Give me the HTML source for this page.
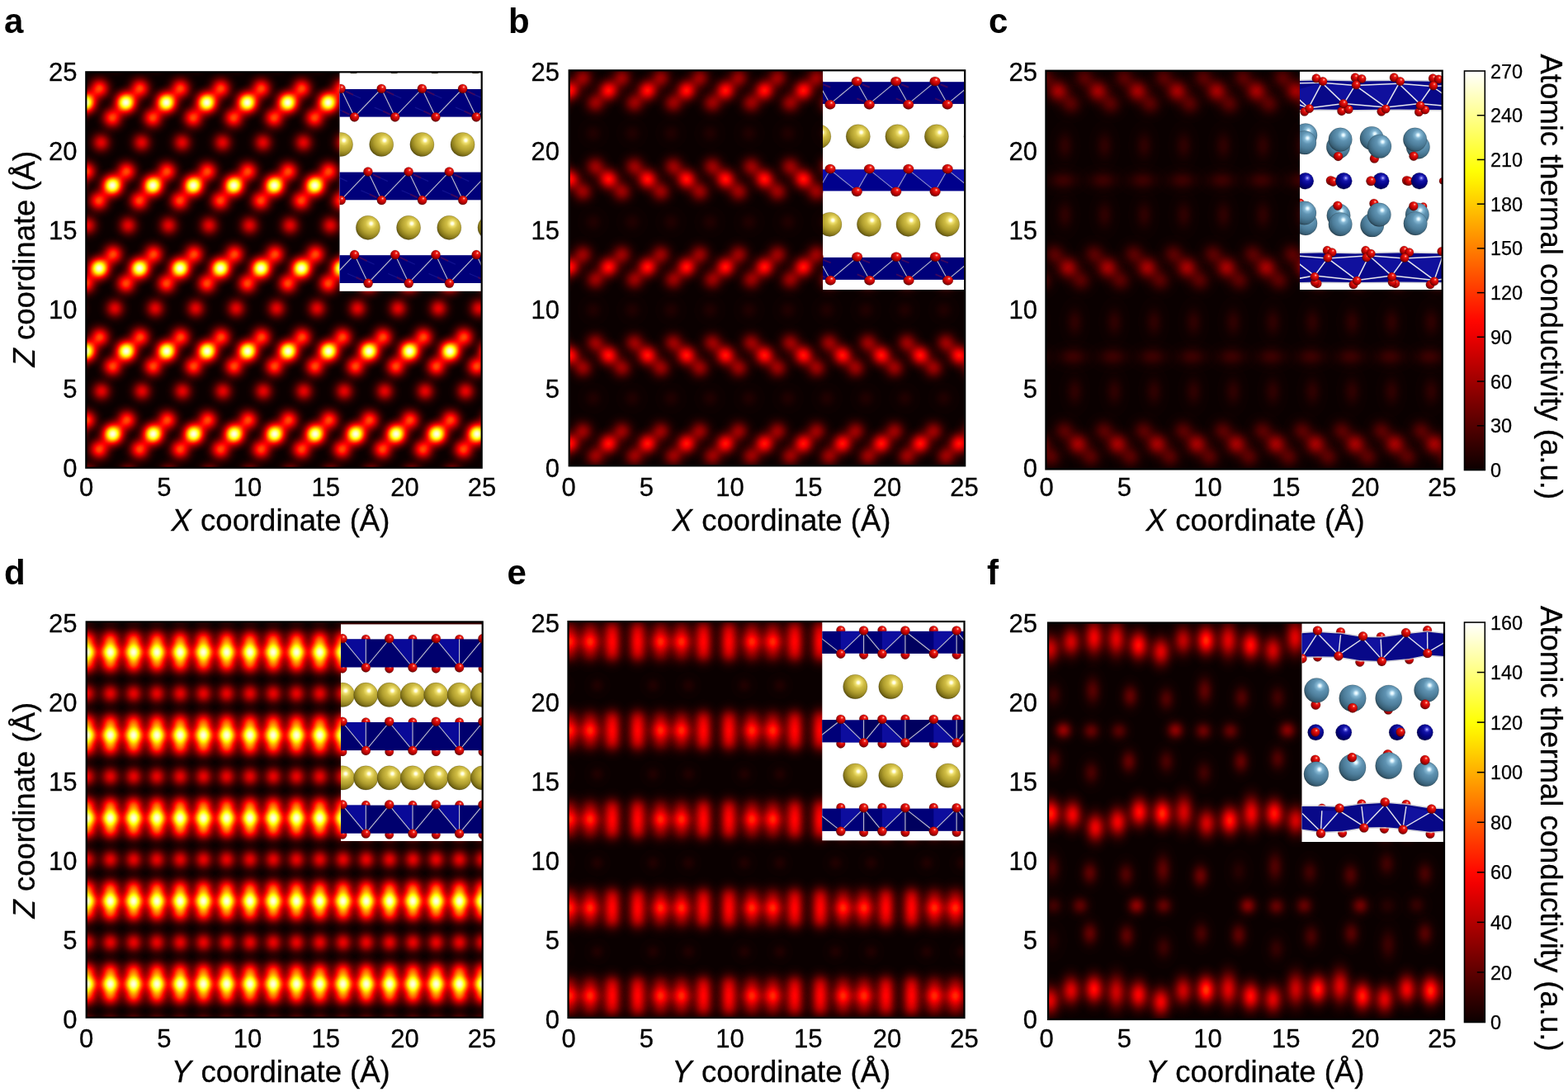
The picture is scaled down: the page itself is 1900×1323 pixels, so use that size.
<!DOCTYPE html>
<html lang="en"><head><meta charset="utf-8"><title>Atomic thermal conductivity maps</title>
<style>html,body{margin:0;padding:0;background:#fff;overflow:hidden}svg{display:block}text{font-family:"Liberation Sans", sans-serif;fill:#000}.t{font-size:31px;stroke:#000;stroke-width:.3px}.cb{font-size:23.5px;stroke:#000;stroke-width:.25px}.ax{font-size:36.5px;stroke:#000;stroke-width:.3px}.pl{font-size:42px;font-weight:bold}.h use{mix-blend-mode:plus-lighter}.ins circle,.ins ellipse{stroke:#140c00;stroke-opacity:.22;stroke-width:.8}</style></head><body>
<svg width="1900" height="1323" viewBox="0 0 1900 1323" role="img" aria-label="Atomic thermal conductivity maps, panels a to f">
<defs>
<filter id="hot" x="0" y="0" width="1" height="1" color-interpolation-filters="sRGB"><feComponentTransfer><feFuncR type="table" tableValues="0.042 0.083 0.125 0.167 0.208 0.250 0.292 0.333 0.375 0.417 0.458 0.500 0.542 0.583 0.625 0.667 0.708 0.750 0.792 0.833 0.875 0.917 0.958 1.000 1.000 1.000 1.000 1.000 1.000 1.000 1.000 1.000 1.000 1.000 1.000 1.000 1.000 1.000 1.000 1.000 1.000 1.000 1.000 1.000 1.000 1.000 1.000 1.000 1.000 1.000 1.000 1.000 1.000 1.000 1.000 1.000 1.000 1.000 1.000 1.000 1.000 1.000 1.000 1.000"/><feFuncG type="table" tableValues="0.000 0.000 0.000 0.000 0.000 0.000 0.000 0.000 0.000 0.000 0.000 0.000 0.000 0.000 0.000 0.000 0.000 0.000 0.000 0.000 0.000 0.000 0.000 0.000 0.042 0.083 0.125 0.167 0.208 0.250 0.292 0.333 0.375 0.417 0.458 0.500 0.542 0.583 0.625 0.667 0.708 0.750 0.792 0.833 0.875 0.917 0.958 1.000 1.000 1.000 1.000 1.000 1.000 1.000 1.000 1.000 1.000 1.000 1.000 1.000 1.000 1.000 1.000 1.000"/><feFuncB type="table" tableValues="0.000 0.000 0.000 0.000 0.000 0.000 0.000 0.000 0.000 0.000 0.000 0.000 0.000 0.000 0.000 0.000 0.000 0.000 0.000 0.000 0.000 0.000 0.000 0.000 0.000 0.000 0.000 0.000 0.000 0.000 0.000 0.000 0.000 0.000 0.000 0.000 0.000 0.000 0.000 0.000 0.000 0.000 0.000 0.000 0.000 0.000 0.000 0.000 0.062 0.125 0.187 0.250 0.312 0.375 0.437 0.500 0.562 0.625 0.687 0.750 0.812 0.875 0.937 1.000"/></feComponentTransfer></filter>
<radialGradient id="g" cx="0" cy="0" r="1" gradientUnits="userSpaceOnUse"><stop offset="0.0000" stop-color="#fff" stop-opacity="1.0000"/><stop offset="0.0625" stop-color="#fff" stop-opacity="0.9824"/><stop offset="0.1250" stop-color="#fff" stop-opacity="0.9313"/><stop offset="0.1875" stop-color="#fff" stop-opacity="0.8520"/><stop offset="0.2500" stop-color="#fff" stop-opacity="0.7521"/><stop offset="0.3125" stop-color="#fff" stop-opacity="0.6404"/><stop offset="0.3750" stop-color="#fff" stop-opacity="0.5258"/><stop offset="0.4375" stop-color="#fff" stop-opacity="0.4161"/><stop offset="0.5000" stop-color="#fff" stop-opacity="0.3171"/><stop offset="0.5625" stop-color="#fff" stop-opacity="0.2323"/><stop offset="0.6250" stop-color="#fff" stop-opacity="0.1631"/><stop offset="0.6875" stop-color="#fff" stop-opacity="0.1093"/><stop offset="0.7500" stop-color="#fff" stop-opacity="0.0692"/><stop offset="0.8125" stop-color="#fff" stop-opacity="0.0406"/><stop offset="0.8750" stop-color="#fff" stop-opacity="0.0210"/><stop offset="0.9375" stop-color="#fff" stop-opacity="0.0081"/><stop offset="1.0000" stop-color="#fff" stop-opacity="0.0000"/></radialGradient>
<circle id="b" r="1" fill="url(#g)"/>
<linearGradient id="cbg" x1="0" y1="1" x2="0" y2="0"><stop offset="0.0000" stop-color="rgb(11,0,0)"/><stop offset="0.0312" stop-color="rgb(32,0,0)"/><stop offset="0.0625" stop-color="rgb(52,0,0)"/><stop offset="0.0938" stop-color="rgb(73,0,0)"/><stop offset="0.1250" stop-color="rgb(94,0,0)"/><stop offset="0.1562" stop-color="rgb(115,0,0)"/><stop offset="0.1875" stop-color="rgb(136,0,0)"/><stop offset="0.2188" stop-color="rgb(157,0,0)"/><stop offset="0.2500" stop-color="rgb(178,0,0)"/><stop offset="0.2812" stop-color="rgb(199,0,0)"/><stop offset="0.3125" stop-color="rgb(220,0,0)"/><stop offset="0.3438" stop-color="rgb(241,0,0)"/><stop offset="0.3750" stop-color="rgb(255,7,0)"/><stop offset="0.4062" stop-color="rgb(255,28,0)"/><stop offset="0.4375" stop-color="rgb(255,48,0)"/><stop offset="0.4688" stop-color="rgb(255,69,0)"/><stop offset="0.5000" stop-color="rgb(255,90,0)"/><stop offset="0.5312" stop-color="rgb(255,111,0)"/><stop offset="0.5625" stop-color="rgb(255,132,0)"/><stop offset="0.5938" stop-color="rgb(255,153,0)"/><stop offset="0.6250" stop-color="rgb(255,174,0)"/><stop offset="0.6562" stop-color="rgb(255,195,0)"/><stop offset="0.6875" stop-color="rgb(255,216,0)"/><stop offset="0.7188" stop-color="rgb(255,237,0)"/><stop offset="0.7500" stop-color="rgb(255,255,4)"/><stop offset="0.7812" stop-color="rgb(255,255,35)"/><stop offset="0.8125" stop-color="rgb(255,255,67)"/><stop offset="0.8438" stop-color="rgb(255,255,98)"/><stop offset="0.8750" stop-color="rgb(255,255,129)"/><stop offset="0.9062" stop-color="rgb(255,255,161)"/><stop offset="0.9375" stop-color="rgb(255,255,192)"/><stop offset="0.9688" stop-color="rgb(255,255,224)"/><stop offset="1.0000" stop-color="rgb(255,255,255)"/></linearGradient>
<clipPath id="cpa"><rect x="104.3" y="87.3" width="479.4" height="479.4"/></clipPath>
<clipPath id="cpb"><rect x="689.7" y="85.3" width="479.5" height="479"/></clipPath>
<clipPath id="cpc"><rect x="1267.4" y="85.7" width="480.3" height="482.7"/></clipPath>
<clipPath id="cpd"><rect x="104.7" y="753.4" width="480" height="479.3"/></clipPath>
<clipPath id="cpe"><rect x="688.5" y="753" width="480" height="480"/></clipPath>
<clipPath id="cpf"><rect x="1270" y="754.5" width="480" height="480.5"/></clipPath>
<radialGradient id="sG" cx=".63" cy=".33" r=".78"><stop offset="0" stop-color="#fff"/><stop offset=".07" stop-color="#fffcd4"/><stop offset=".15" stop-color="#f0e170"/><stop offset=".3" stop-color="#d0bd44"/><stop offset=".55" stop-color="#b09e2e"/><stop offset=".75" stop-color="#897a1c"/><stop offset=".92" stop-color="#5a4f0c"/><stop offset="1" stop-color="#383004"/></radialGradient>
<radialGradient id="sR" cx=".62" cy=".32" r=".78"><stop offset="0" stop-color="#ffe8e0"/><stop offset=".09" stop-color="#ff7464"/><stop offset=".2" stop-color="#ec1c14"/><stop offset=".45" stop-color="#cc0606"/><stop offset=".7" stop-color="#a00000"/><stop offset=".92" stop-color="#5c0000"/><stop offset="1" stop-color="#3a0000"/></radialGradient>
<radialGradient id="sN" cx=".62" cy=".32" r=".78"><stop offset="0" stop-color="#d0d0ff"/><stop offset=".1" stop-color="#5858e0"/><stop offset=".24" stop-color="#1414a8"/><stop offset=".5" stop-color="#04048a"/><stop offset=".8" stop-color="#000060"/><stop offset="1" stop-color="#000030"/></radialGradient>
<radialGradient id="sS" cx=".63" cy=".31" r=".78"><stop offset="0" stop-color="#fff"/><stop offset=".06" stop-color="#dcf4ff"/><stop offset=".16" stop-color="#86b8d4"/><stop offset=".32" stop-color="#5f93b2"/><stop offset=".58" stop-color="#4d7d9a"/><stop offset=".8" stop-color="#3a6279"/><stop offset=".94" stop-color="#274354"/><stop offset="1" stop-color="#182a36"/></radialGradient>
<clipPath id="cia"><rect x="411.5" y="87.3" width="172.2" height="265.5"/></clipPath>
<clipPath id="cib"><rect x="997" y="85.3" width="172.2" height="265.7"/></clipPath>
<clipPath id="cic"><rect x="1575" y="85.7" width="172.7" height="265.3"/></clipPath>
<clipPath id="cid"><rect x="413" y="753.4" width="171.7" height="265.6"/></clipPath>
<clipPath id="cie"><rect x="996.3" y="753" width="172.2" height="265.3"/></clipPath>
<clipPath id="cif"><rect x="1577.5" y="754.5" width="172.5" height="265.5"/></clipPath>
</defs>
<rect width="1900" height="1323" fill="#fff"/>
<g id="panel-a">
<g clip-path="url(#cpa)"><g class="h" filter="url(#hot)">
<rect x="104.3" y="87.3" width="479.4" height="479.4" fill="#000"/>
<use href="#b" transform="translate(89.67 72.35) scale(21.6 21.6)" opacity="0.33"/>
<use href="#b" transform="translate(138.7 72.35) scale(21.6 21.6)" opacity="0.33"/>
<use href="#b" transform="translate(187.73 72.35) scale(21.6 21.6)" opacity="0.33"/>
<use href="#b" transform="translate(236.76 72.35) scale(21.6 21.6)" opacity="0.33"/>
<use href="#b" transform="translate(285.79 72.35) scale(21.6 21.6)" opacity="0.33"/>
<use href="#b" transform="translate(334.82 72.35) scale(21.6 21.6)" opacity="0.33"/>
<use href="#b" transform="translate(383.85 72.35) scale(21.6 21.6)" opacity="0.33"/>
<use href="#b" transform="translate(432.88 72.35) scale(21.6 21.6)" opacity="0.33"/>
<use href="#b" transform="translate(481.91 72.35) scale(21.6 21.6)" opacity="0.33"/>
<use href="#b" transform="translate(530.94 72.35) scale(21.6 21.6)" opacity="0.33"/>
<use href="#b" transform="translate(579.97 72.35) scale(21.6 21.6)" opacity="0.33"/>
<use href="#b" transform="translate(103.47 124.25) scale(23.7 23.7)" opacity="0.98"/>
<use href="#b" transform="translate(120.47 107.25) scale(22.8 22.8)" opacity="0.48"/>
<use href="#b" transform="translate(86.97 142.75) scale(22.8 22.8)" opacity="0.48"/>
<use href="#b" transform="translate(152.5 124.25) scale(23.7 23.7)" opacity="0.98"/>
<use href="#b" transform="translate(169.5 107.25) scale(22.8 22.8)" opacity="0.48"/>
<use href="#b" transform="translate(136 142.75) scale(22.8 22.8)" opacity="0.48"/>
<use href="#b" transform="translate(122.5 172.75) scale(21.6 21.6)" opacity="0.33"/>
<use href="#b" transform="translate(201.53 124.25) scale(23.7 23.7)" opacity="0.98"/>
<use href="#b" transform="translate(218.53 107.25) scale(22.8 22.8)" opacity="0.48"/>
<use href="#b" transform="translate(185.03 142.75) scale(22.8 22.8)" opacity="0.48"/>
<use href="#b" transform="translate(171.53 172.75) scale(21.6 21.6)" opacity="0.33"/>
<use href="#b" transform="translate(250.56 124.25) scale(23.7 23.7)" opacity="0.98"/>
<use href="#b" transform="translate(267.56 107.25) scale(22.8 22.8)" opacity="0.48"/>
<use href="#b" transform="translate(234.06 142.75) scale(22.8 22.8)" opacity="0.48"/>
<use href="#b" transform="translate(220.56 172.75) scale(21.6 21.6)" opacity="0.33"/>
<use href="#b" transform="translate(299.59 124.25) scale(23.7 23.7)" opacity="0.98"/>
<use href="#b" transform="translate(316.59 107.25) scale(22.8 22.8)" opacity="0.48"/>
<use href="#b" transform="translate(283.09 142.75) scale(22.8 22.8)" opacity="0.48"/>
<use href="#b" transform="translate(269.59 172.75) scale(21.6 21.6)" opacity="0.33"/>
<use href="#b" transform="translate(348.62 124.25) scale(23.7 23.7)" opacity="0.98"/>
<use href="#b" transform="translate(365.62 107.25) scale(22.8 22.8)" opacity="0.48"/>
<use href="#b" transform="translate(332.12 142.75) scale(22.8 22.8)" opacity="0.48"/>
<use href="#b" transform="translate(318.62 172.75) scale(21.6 21.6)" opacity="0.33"/>
<use href="#b" transform="translate(397.65 124.25) scale(23.7 23.7)" opacity="0.98"/>
<use href="#b" transform="translate(414.65 107.25) scale(22.8 22.8)" opacity="0.48"/>
<use href="#b" transform="translate(381.15 142.75) scale(22.8 22.8)" opacity="0.48"/>
<use href="#b" transform="translate(367.65 172.75) scale(21.6 21.6)" opacity="0.33"/>
<use href="#b" transform="translate(446.68 124.25) scale(23.7 23.7)" opacity="0.98"/>
<use href="#b" transform="translate(463.68 107.25) scale(22.8 22.8)" opacity="0.48"/>
<use href="#b" transform="translate(430.18 142.75) scale(22.8 22.8)" opacity="0.48"/>
<use href="#b" transform="translate(416.68 172.75) scale(21.6 21.6)" opacity="0.33"/>
<use href="#b" transform="translate(495.71 124.25) scale(23.7 23.7)" opacity="0.98"/>
<use href="#b" transform="translate(512.71 107.25) scale(22.8 22.8)" opacity="0.48"/>
<use href="#b" transform="translate(479.21 142.75) scale(22.8 22.8)" opacity="0.48"/>
<use href="#b" transform="translate(465.71 172.75) scale(21.6 21.6)" opacity="0.33"/>
<use href="#b" transform="translate(544.74 124.25) scale(23.7 23.7)" opacity="0.98"/>
<use href="#b" transform="translate(561.74 107.25) scale(22.8 22.8)" opacity="0.48"/>
<use href="#b" transform="translate(528.24 142.75) scale(22.8 22.8)" opacity="0.48"/>
<use href="#b" transform="translate(514.74 172.75) scale(21.6 21.6)" opacity="0.33"/>
<use href="#b" transform="translate(593.77 124.25) scale(23.7 23.7)" opacity="0.98"/>
<use href="#b" transform="translate(577.27 142.75) scale(22.8 22.8)" opacity="0.48"/>
<use href="#b" transform="translate(563.77 172.75) scale(21.6 21.6)" opacity="0.33"/>
<use href="#b" transform="translate(87.27 224.65) scale(23.7 23.7)" opacity="0.98"/>
<use href="#b" transform="translate(104.27 207.65) scale(22.8 22.8)" opacity="0.48"/>
<use href="#b" transform="translate(136.3 224.65) scale(23.7 23.7)" opacity="0.98"/>
<use href="#b" transform="translate(153.3 207.65) scale(22.8 22.8)" opacity="0.48"/>
<use href="#b" transform="translate(119.8 243.15) scale(22.8 22.8)" opacity="0.48"/>
<use href="#b" transform="translate(106.3 273.15) scale(21.6 21.6)" opacity="0.33"/>
<use href="#b" transform="translate(185.33 224.65) scale(23.7 23.7)" opacity="0.98"/>
<use href="#b" transform="translate(202.33 207.65) scale(22.8 22.8)" opacity="0.48"/>
<use href="#b" transform="translate(168.83 243.15) scale(22.8 22.8)" opacity="0.48"/>
<use href="#b" transform="translate(155.33 273.15) scale(21.6 21.6)" opacity="0.33"/>
<use href="#b" transform="translate(234.36 224.65) scale(23.7 23.7)" opacity="0.98"/>
<use href="#b" transform="translate(251.36 207.65) scale(22.8 22.8)" opacity="0.48"/>
<use href="#b" transform="translate(217.86 243.15) scale(22.8 22.8)" opacity="0.48"/>
<use href="#b" transform="translate(204.36 273.15) scale(21.6 21.6)" opacity="0.33"/>
<use href="#b" transform="translate(283.39 224.65) scale(23.7 23.7)" opacity="0.98"/>
<use href="#b" transform="translate(300.39 207.65) scale(22.8 22.8)" opacity="0.48"/>
<use href="#b" transform="translate(266.89 243.15) scale(22.8 22.8)" opacity="0.48"/>
<use href="#b" transform="translate(253.39 273.15) scale(21.6 21.6)" opacity="0.33"/>
<use href="#b" transform="translate(332.42 224.65) scale(23.7 23.7)" opacity="0.98"/>
<use href="#b" transform="translate(349.42 207.65) scale(22.8 22.8)" opacity="0.48"/>
<use href="#b" transform="translate(315.92 243.15) scale(22.8 22.8)" opacity="0.48"/>
<use href="#b" transform="translate(302.42 273.15) scale(21.6 21.6)" opacity="0.33"/>
<use href="#b" transform="translate(381.45 224.65) scale(23.7 23.7)" opacity="0.98"/>
<use href="#b" transform="translate(398.45 207.65) scale(22.8 22.8)" opacity="0.48"/>
<use href="#b" transform="translate(364.95 243.15) scale(22.8 22.8)" opacity="0.48"/>
<use href="#b" transform="translate(351.45 273.15) scale(21.6 21.6)" opacity="0.33"/>
<use href="#b" transform="translate(430.48 224.65) scale(23.7 23.7)" opacity="0.98"/>
<use href="#b" transform="translate(447.48 207.65) scale(22.8 22.8)" opacity="0.48"/>
<use href="#b" transform="translate(413.98 243.15) scale(22.8 22.8)" opacity="0.48"/>
<use href="#b" transform="translate(400.48 273.15) scale(21.6 21.6)" opacity="0.33"/>
<use href="#b" transform="translate(479.51 224.65) scale(23.7 23.7)" opacity="0.98"/>
<use href="#b" transform="translate(496.51 207.65) scale(22.8 22.8)" opacity="0.48"/>
<use href="#b" transform="translate(463.01 243.15) scale(22.8 22.8)" opacity="0.48"/>
<use href="#b" transform="translate(449.51 273.15) scale(21.6 21.6)" opacity="0.33"/>
<use href="#b" transform="translate(528.54 224.65) scale(23.7 23.7)" opacity="0.98"/>
<use href="#b" transform="translate(545.54 207.65) scale(22.8 22.8)" opacity="0.48"/>
<use href="#b" transform="translate(512.04 243.15) scale(22.8 22.8)" opacity="0.48"/>
<use href="#b" transform="translate(498.54 273.15) scale(21.6 21.6)" opacity="0.33"/>
<use href="#b" transform="translate(577.57 224.65) scale(23.7 23.7)" opacity="0.98"/>
<use href="#b" transform="translate(594.57 207.65) scale(22.8 22.8)" opacity="0.48"/>
<use href="#b" transform="translate(561.07 243.15) scale(22.8 22.8)" opacity="0.48"/>
<use href="#b" transform="translate(547.57 273.15) scale(21.6 21.6)" opacity="0.33"/>
<use href="#b" transform="translate(596.6 273.15) scale(21.6 21.6)" opacity="0.33"/>
<use href="#b" transform="translate(88.07 308.05) scale(22.8 22.8)" opacity="0.48"/>
<use href="#b" transform="translate(120.1 325.05) scale(23.7 23.7)" opacity="0.98"/>
<use href="#b" transform="translate(137.1 308.05) scale(22.8 22.8)" opacity="0.48"/>
<use href="#b" transform="translate(103.6 343.55) scale(22.8 22.8)" opacity="0.48"/>
<use href="#b" transform="translate(90.1 373.55) scale(21.6 21.6)" opacity="0.33"/>
<use href="#b" transform="translate(169.13 325.05) scale(23.7 23.7)" opacity="0.98"/>
<use href="#b" transform="translate(186.13 308.05) scale(22.8 22.8)" opacity="0.48"/>
<use href="#b" transform="translate(152.63 343.55) scale(22.8 22.8)" opacity="0.48"/>
<use href="#b" transform="translate(139.13 373.55) scale(21.6 21.6)" opacity="0.33"/>
<use href="#b" transform="translate(218.16 325.05) scale(23.7 23.7)" opacity="0.98"/>
<use href="#b" transform="translate(235.16 308.05) scale(22.8 22.8)" opacity="0.48"/>
<use href="#b" transform="translate(201.66 343.55) scale(22.8 22.8)" opacity="0.48"/>
<use href="#b" transform="translate(188.16 373.55) scale(21.6 21.6)" opacity="0.33"/>
<use href="#b" transform="translate(267.19 325.05) scale(23.7 23.7)" opacity="0.98"/>
<use href="#b" transform="translate(284.19 308.05) scale(22.8 22.8)" opacity="0.48"/>
<use href="#b" transform="translate(250.69 343.55) scale(22.8 22.8)" opacity="0.48"/>
<use href="#b" transform="translate(237.19 373.55) scale(21.6 21.6)" opacity="0.33"/>
<use href="#b" transform="translate(316.22 325.05) scale(23.7 23.7)" opacity="0.98"/>
<use href="#b" transform="translate(333.22 308.05) scale(22.8 22.8)" opacity="0.48"/>
<use href="#b" transform="translate(299.72 343.55) scale(22.8 22.8)" opacity="0.48"/>
<use href="#b" transform="translate(286.22 373.55) scale(21.6 21.6)" opacity="0.33"/>
<use href="#b" transform="translate(365.25 325.05) scale(23.7 23.7)" opacity="0.98"/>
<use href="#b" transform="translate(382.25 308.05) scale(22.8 22.8)" opacity="0.48"/>
<use href="#b" transform="translate(348.75 343.55) scale(22.8 22.8)" opacity="0.48"/>
<use href="#b" transform="translate(335.25 373.55) scale(21.6 21.6)" opacity="0.33"/>
<use href="#b" transform="translate(414.28 325.05) scale(23.7 23.7)" opacity="0.98"/>
<use href="#b" transform="translate(431.28 308.05) scale(22.8 22.8)" opacity="0.48"/>
<use href="#b" transform="translate(397.78 343.55) scale(22.8 22.8)" opacity="0.48"/>
<use href="#b" transform="translate(384.28 373.55) scale(21.6 21.6)" opacity="0.33"/>
<use href="#b" transform="translate(463.31 325.05) scale(23.7 23.7)" opacity="0.98"/>
<use href="#b" transform="translate(480.31 308.05) scale(22.8 22.8)" opacity="0.48"/>
<use href="#b" transform="translate(446.81 343.55) scale(22.8 22.8)" opacity="0.48"/>
<use href="#b" transform="translate(433.31 373.55) scale(21.6 21.6)" opacity="0.33"/>
<use href="#b" transform="translate(512.34 325.05) scale(23.7 23.7)" opacity="0.98"/>
<use href="#b" transform="translate(529.34 308.05) scale(22.8 22.8)" opacity="0.48"/>
<use href="#b" transform="translate(495.84 343.55) scale(22.8 22.8)" opacity="0.48"/>
<use href="#b" transform="translate(482.34 373.55) scale(21.6 21.6)" opacity="0.33"/>
<use href="#b" transform="translate(561.37 325.05) scale(23.7 23.7)" opacity="0.98"/>
<use href="#b" transform="translate(578.37 308.05) scale(22.8 22.8)" opacity="0.48"/>
<use href="#b" transform="translate(544.87 343.55) scale(22.8 22.8)" opacity="0.48"/>
<use href="#b" transform="translate(531.37 373.55) scale(21.6 21.6)" opacity="0.33"/>
<use href="#b" transform="translate(593.9 343.55) scale(22.8 22.8)" opacity="0.48"/>
<use href="#b" transform="translate(580.4 373.55) scale(21.6 21.6)" opacity="0.33"/>
<use href="#b" transform="translate(103.9 425.45) scale(23.7 23.7)" opacity="0.98"/>
<use href="#b" transform="translate(120.9 408.45) scale(22.8 22.8)" opacity="0.48"/>
<use href="#b" transform="translate(87.4 443.95) scale(22.8 22.8)" opacity="0.48"/>
<use href="#b" transform="translate(152.93 425.45) scale(23.7 23.7)" opacity="0.98"/>
<use href="#b" transform="translate(169.93 408.45) scale(22.8 22.8)" opacity="0.48"/>
<use href="#b" transform="translate(136.43 443.95) scale(22.8 22.8)" opacity="0.48"/>
<use href="#b" transform="translate(122.93 473.95) scale(21.6 21.6)" opacity="0.33"/>
<use href="#b" transform="translate(201.96 425.45) scale(23.7 23.7)" opacity="0.98"/>
<use href="#b" transform="translate(218.96 408.45) scale(22.8 22.8)" opacity="0.48"/>
<use href="#b" transform="translate(185.46 443.95) scale(22.8 22.8)" opacity="0.48"/>
<use href="#b" transform="translate(171.96 473.95) scale(21.6 21.6)" opacity="0.33"/>
<use href="#b" transform="translate(250.99 425.45) scale(23.7 23.7)" opacity="0.98"/>
<use href="#b" transform="translate(267.99 408.45) scale(22.8 22.8)" opacity="0.48"/>
<use href="#b" transform="translate(234.49 443.95) scale(22.8 22.8)" opacity="0.48"/>
<use href="#b" transform="translate(220.99 473.95) scale(21.6 21.6)" opacity="0.33"/>
<use href="#b" transform="translate(300.02 425.45) scale(23.7 23.7)" opacity="0.98"/>
<use href="#b" transform="translate(317.02 408.45) scale(22.8 22.8)" opacity="0.48"/>
<use href="#b" transform="translate(283.52 443.95) scale(22.8 22.8)" opacity="0.48"/>
<use href="#b" transform="translate(270.02 473.95) scale(21.6 21.6)" opacity="0.33"/>
<use href="#b" transform="translate(349.05 425.45) scale(23.7 23.7)" opacity="0.98"/>
<use href="#b" transform="translate(366.05 408.45) scale(22.8 22.8)" opacity="0.48"/>
<use href="#b" transform="translate(332.55 443.95) scale(22.8 22.8)" opacity="0.48"/>
<use href="#b" transform="translate(319.05 473.95) scale(21.6 21.6)" opacity="0.33"/>
<use href="#b" transform="translate(398.08 425.45) scale(23.7 23.7)" opacity="0.98"/>
<use href="#b" transform="translate(415.08 408.45) scale(22.8 22.8)" opacity="0.48"/>
<use href="#b" transform="translate(381.58 443.95) scale(22.8 22.8)" opacity="0.48"/>
<use href="#b" transform="translate(368.08 473.95) scale(21.6 21.6)" opacity="0.33"/>
<use href="#b" transform="translate(447.11 425.45) scale(23.7 23.7)" opacity="0.98"/>
<use href="#b" transform="translate(464.11 408.45) scale(22.8 22.8)" opacity="0.48"/>
<use href="#b" transform="translate(430.61 443.95) scale(22.8 22.8)" opacity="0.48"/>
<use href="#b" transform="translate(417.11 473.95) scale(21.6 21.6)" opacity="0.33"/>
<use href="#b" transform="translate(496.14 425.45) scale(23.7 23.7)" opacity="0.98"/>
<use href="#b" transform="translate(513.14 408.45) scale(22.8 22.8)" opacity="0.48"/>
<use href="#b" transform="translate(479.64 443.95) scale(22.8 22.8)" opacity="0.48"/>
<use href="#b" transform="translate(466.14 473.95) scale(21.6 21.6)" opacity="0.33"/>
<use href="#b" transform="translate(545.17 425.45) scale(23.7 23.7)" opacity="0.98"/>
<use href="#b" transform="translate(562.17 408.45) scale(22.8 22.8)" opacity="0.48"/>
<use href="#b" transform="translate(528.67 443.95) scale(22.8 22.8)" opacity="0.48"/>
<use href="#b" transform="translate(515.17 473.95) scale(21.6 21.6)" opacity="0.33"/>
<use href="#b" transform="translate(594.2 425.45) scale(23.7 23.7)" opacity="0.98"/>
<use href="#b" transform="translate(577.7 443.95) scale(22.8 22.8)" opacity="0.48"/>
<use href="#b" transform="translate(564.2 473.95) scale(21.6 21.6)" opacity="0.33"/>
<use href="#b" transform="translate(87.7 525.85) scale(23.7 23.7)" opacity="0.98"/>
<use href="#b" transform="translate(104.7 508.85) scale(22.8 22.8)" opacity="0.48"/>
<use href="#b" transform="translate(136.73 525.85) scale(23.7 23.7)" opacity="0.98"/>
<use href="#b" transform="translate(153.73 508.85) scale(22.8 22.8)" opacity="0.48"/>
<use href="#b" transform="translate(120.23 544.35) scale(22.8 22.8)" opacity="0.48"/>
<use href="#b" transform="translate(106.73 574.35) scale(21.6 21.6)" opacity="0.33"/>
<use href="#b" transform="translate(185.76 525.85) scale(23.7 23.7)" opacity="0.98"/>
<use href="#b" transform="translate(202.76 508.85) scale(22.8 22.8)" opacity="0.48"/>
<use href="#b" transform="translate(169.26 544.35) scale(22.8 22.8)" opacity="0.48"/>
<use href="#b" transform="translate(155.76 574.35) scale(21.6 21.6)" opacity="0.33"/>
<use href="#b" transform="translate(234.79 525.85) scale(23.7 23.7)" opacity="0.98"/>
<use href="#b" transform="translate(251.79 508.85) scale(22.8 22.8)" opacity="0.48"/>
<use href="#b" transform="translate(218.29 544.35) scale(22.8 22.8)" opacity="0.48"/>
<use href="#b" transform="translate(204.79 574.35) scale(21.6 21.6)" opacity="0.33"/>
<use href="#b" transform="translate(283.82 525.85) scale(23.7 23.7)" opacity="0.98"/>
<use href="#b" transform="translate(300.82 508.85) scale(22.8 22.8)" opacity="0.48"/>
<use href="#b" transform="translate(267.32 544.35) scale(22.8 22.8)" opacity="0.48"/>
<use href="#b" transform="translate(253.82 574.35) scale(21.6 21.6)" opacity="0.33"/>
<use href="#b" transform="translate(332.85 525.85) scale(23.7 23.7)" opacity="0.98"/>
<use href="#b" transform="translate(349.85 508.85) scale(22.8 22.8)" opacity="0.48"/>
<use href="#b" transform="translate(316.35 544.35) scale(22.8 22.8)" opacity="0.48"/>
<use href="#b" transform="translate(302.85 574.35) scale(21.6 21.6)" opacity="0.33"/>
<use href="#b" transform="translate(381.88 525.85) scale(23.7 23.7)" opacity="0.98"/>
<use href="#b" transform="translate(398.88 508.85) scale(22.8 22.8)" opacity="0.48"/>
<use href="#b" transform="translate(365.38 544.35) scale(22.8 22.8)" opacity="0.48"/>
<use href="#b" transform="translate(351.88 574.35) scale(21.6 21.6)" opacity="0.33"/>
<use href="#b" transform="translate(430.91 525.85) scale(23.7 23.7)" opacity="0.98"/>
<use href="#b" transform="translate(447.91 508.85) scale(22.8 22.8)" opacity="0.48"/>
<use href="#b" transform="translate(414.41 544.35) scale(22.8 22.8)" opacity="0.48"/>
<use href="#b" transform="translate(400.91 574.35) scale(21.6 21.6)" opacity="0.33"/>
<use href="#b" transform="translate(479.94 525.85) scale(23.7 23.7)" opacity="0.98"/>
<use href="#b" transform="translate(496.94 508.85) scale(22.8 22.8)" opacity="0.48"/>
<use href="#b" transform="translate(463.44 544.35) scale(22.8 22.8)" opacity="0.48"/>
<use href="#b" transform="translate(449.94 574.35) scale(21.6 21.6)" opacity="0.33"/>
<use href="#b" transform="translate(528.97 525.85) scale(23.7 23.7)" opacity="0.98"/>
<use href="#b" transform="translate(545.97 508.85) scale(22.8 22.8)" opacity="0.48"/>
<use href="#b" transform="translate(512.47 544.35) scale(22.8 22.8)" opacity="0.48"/>
<use href="#b" transform="translate(498.97 574.35) scale(21.6 21.6)" opacity="0.33"/>
<use href="#b" transform="translate(578 525.85) scale(23.7 23.7)" opacity="0.98"/>
<use href="#b" transform="translate(595 508.85) scale(22.8 22.8)" opacity="0.48"/>
<use href="#b" transform="translate(561.5 544.35) scale(22.8 22.8)" opacity="0.48"/>
<use href="#b" transform="translate(548 574.35) scale(21.6 21.6)" opacity="0.33"/>
<use href="#b" transform="translate(597.03 574.35) scale(21.6 21.6)" opacity="0.33"/>
</g></g>
<g id="inset-a">
<rect x="411.5" y="87.3" width="172.2" height="265.5" fill="#fff"/>
<g class="ins" clip-path="url(#cia)">
<rect x="405" y="108" width="185" height="33.6" fill="#00007a"/>
<line x1="314.6" y1="107.5" x2="281.8" y2="141.6" stroke="#c0c0d0" stroke-width="1.1"/>
<line x1="314.6" y1="107.5" x2="331.1" y2="141.6" stroke="#c0c0d0" stroke-width="1.1"/>
<line x1="328.6" y1="114.5" x2="338.6" y2="119" stroke="#1c1c9c" stroke-width="1.2" opacity="0.7"/>
<line x1="320.6" y1="110.7" x2="329.6" y2="114.9" stroke="#4a0a58" stroke-width="2" opacity="0.85"/>
<line x1="306.1" y1="130.1" x2="317.1" y2="134.8" stroke="#1c1c9c" stroke-width="1.2" opacity="0.7"/>
<line x1="316.6" y1="134.6" x2="325.1" y2="138.6" stroke="#4a0a58" stroke-width="2" opacity="0.85"/>
<line x1="363.8" y1="107.5" x2="331" y2="141.6" stroke="#c0c0d0" stroke-width="1.1"/>
<line x1="363.8" y1="107.5" x2="380.3" y2="141.6" stroke="#c0c0d0" stroke-width="1.1"/>
<line x1="377.8" y1="114.5" x2="387.8" y2="119" stroke="#1c1c9c" stroke-width="1.2" opacity="0.7"/>
<line x1="369.8" y1="110.7" x2="378.8" y2="114.9" stroke="#4a0a58" stroke-width="2" opacity="0.85"/>
<line x1="355.3" y1="130.1" x2="366.3" y2="134.8" stroke="#1c1c9c" stroke-width="1.2" opacity="0.7"/>
<line x1="365.8" y1="134.6" x2="374.3" y2="138.6" stroke="#4a0a58" stroke-width="2" opacity="0.85"/>
<line x1="413" y1="107.5" x2="380.2" y2="141.6" stroke="#c0c0d0" stroke-width="1.1"/>
<line x1="413" y1="107.5" x2="429.5" y2="141.6" stroke="#c0c0d0" stroke-width="1.1"/>
<line x1="427" y1="114.5" x2="437" y2="119" stroke="#1c1c9c" stroke-width="1.2" opacity="0.7"/>
<line x1="419" y1="110.7" x2="428" y2="114.9" stroke="#4a0a58" stroke-width="2" opacity="0.85"/>
<line x1="404.5" y1="130.1" x2="415.5" y2="134.8" stroke="#1c1c9c" stroke-width="1.2" opacity="0.7"/>
<line x1="415" y1="134.6" x2="423.5" y2="138.6" stroke="#4a0a58" stroke-width="2" opacity="0.85"/>
<line x1="462.2" y1="107.5" x2="429.4" y2="141.6" stroke="#c0c0d0" stroke-width="1.1"/>
<line x1="462.2" y1="107.5" x2="478.7" y2="141.6" stroke="#c0c0d0" stroke-width="1.1"/>
<line x1="476.2" y1="114.5" x2="486.2" y2="119" stroke="#1c1c9c" stroke-width="1.2" opacity="0.7"/>
<line x1="468.2" y1="110.7" x2="477.2" y2="114.9" stroke="#4a0a58" stroke-width="2" opacity="0.85"/>
<line x1="453.7" y1="130.1" x2="464.7" y2="134.8" stroke="#1c1c9c" stroke-width="1.2" opacity="0.7"/>
<line x1="464.2" y1="134.6" x2="472.7" y2="138.6" stroke="#4a0a58" stroke-width="2" opacity="0.85"/>
<line x1="511.4" y1="107.5" x2="478.6" y2="141.6" stroke="#c0c0d0" stroke-width="1.1"/>
<line x1="511.4" y1="107.5" x2="527.9" y2="141.6" stroke="#c0c0d0" stroke-width="1.1"/>
<line x1="525.4" y1="114.5" x2="535.4" y2="119" stroke="#1c1c9c" stroke-width="1.2" opacity="0.7"/>
<line x1="517.4" y1="110.7" x2="526.4" y2="114.9" stroke="#4a0a58" stroke-width="2" opacity="0.85"/>
<line x1="502.9" y1="130.1" x2="513.9" y2="134.8" stroke="#1c1c9c" stroke-width="1.2" opacity="0.7"/>
<line x1="513.4" y1="134.6" x2="521.9" y2="138.6" stroke="#4a0a58" stroke-width="2" opacity="0.85"/>
<line x1="560.6" y1="107.5" x2="527.8" y2="141.6" stroke="#c0c0d0" stroke-width="1.1"/>
<line x1="560.6" y1="107.5" x2="577.1" y2="141.6" stroke="#c0c0d0" stroke-width="1.1"/>
<line x1="574.6" y1="114.5" x2="584.6" y2="119" stroke="#1c1c9c" stroke-width="1.2" opacity="0.7"/>
<line x1="566.6" y1="110.7" x2="575.6" y2="114.9" stroke="#4a0a58" stroke-width="2" opacity="0.85"/>
<line x1="552.1" y1="130.1" x2="563.1" y2="134.8" stroke="#1c1c9c" stroke-width="1.2" opacity="0.7"/>
<line x1="562.6" y1="134.6" x2="571.1" y2="138.6" stroke="#4a0a58" stroke-width="2" opacity="0.85"/>
<line x1="609.8" y1="107.5" x2="577" y2="141.6" stroke="#c0c0d0" stroke-width="1.1"/>
<line x1="609.8" y1="107.5" x2="626.3" y2="141.6" stroke="#c0c0d0" stroke-width="1.1"/>
<line x1="623.8" y1="114.5" x2="633.8" y2="119" stroke="#1c1c9c" stroke-width="1.2" opacity="0.7"/>
<line x1="615.8" y1="110.7" x2="624.8" y2="114.9" stroke="#4a0a58" stroke-width="2" opacity="0.85"/>
<line x1="601.3" y1="130.1" x2="612.3" y2="134.8" stroke="#1c1c9c" stroke-width="1.2" opacity="0.7"/>
<line x1="611.8" y1="134.6" x2="620.3" y2="138.6" stroke="#4a0a58" stroke-width="2" opacity="0.85"/>
<line x1="659" y1="107.5" x2="626.2" y2="141.6" stroke="#c0c0d0" stroke-width="1.1"/>
<line x1="659" y1="107.5" x2="675.5" y2="141.6" stroke="#c0c0d0" stroke-width="1.1"/>
<line x1="673" y1="114.5" x2="683" y2="119" stroke="#1c1c9c" stroke-width="1.2" opacity="0.7"/>
<line x1="665" y1="110.7" x2="674" y2="114.9" stroke="#4a0a58" stroke-width="2" opacity="0.85"/>
<line x1="650.5" y1="130.1" x2="661.5" y2="134.8" stroke="#1c1c9c" stroke-width="1.2" opacity="0.7"/>
<line x1="661" y1="134.6" x2="669.5" y2="138.6" stroke="#4a0a58" stroke-width="2" opacity="0.85"/>
<circle cx="314.6" cy="107.5" r="5.6" fill="url(#sR)"/>
<circle cx="331.1" cy="141.8" r="5.6" fill="url(#sR)"/>
<circle cx="363.8" cy="107.5" r="5.6" fill="url(#sR)"/>
<circle cx="380.3" cy="141.8" r="5.6" fill="url(#sR)"/>
<circle cx="413" cy="107.5" r="5.6" fill="url(#sR)"/>
<circle cx="429.5" cy="141.8" r="5.6" fill="url(#sR)"/>
<circle cx="462.2" cy="107.5" r="5.6" fill="url(#sR)"/>
<circle cx="478.7" cy="141.8" r="5.6" fill="url(#sR)"/>
<circle cx="511.4" cy="107.5" r="5.6" fill="url(#sR)"/>
<circle cx="527.9" cy="141.8" r="5.6" fill="url(#sR)"/>
<circle cx="560.6" cy="107.5" r="5.6" fill="url(#sR)"/>
<circle cx="577.1" cy="141.8" r="5.6" fill="url(#sR)"/>
<circle cx="609.8" cy="107.5" r="5.6" fill="url(#sR)"/>
<circle cx="626.3" cy="141.8" r="5.6" fill="url(#sR)"/>
<circle cx="659" cy="107.5" r="5.6" fill="url(#sR)"/>
<circle cx="675.5" cy="141.8" r="5.6" fill="url(#sR)"/>
<rect x="405" y="208.6" width="185" height="33.7" fill="#00007a"/>
<line x1="298.3" y1="208.1" x2="265.5" y2="242.3" stroke="#c0c0d0" stroke-width="1.1"/>
<line x1="298.3" y1="208.1" x2="314.8" y2="242.3" stroke="#c0c0d0" stroke-width="1.1"/>
<line x1="312.3" y1="215.1" x2="322.3" y2="219.6" stroke="#1c1c9c" stroke-width="1.2" opacity="0.7"/>
<line x1="304.3" y1="211.3" x2="313.3" y2="215.5" stroke="#4a0a58" stroke-width="2" opacity="0.85"/>
<line x1="289.8" y1="230.8" x2="300.8" y2="235.5" stroke="#1c1c9c" stroke-width="1.2" opacity="0.7"/>
<line x1="300.3" y1="235.3" x2="308.8" y2="239.3" stroke="#4a0a58" stroke-width="2" opacity="0.85"/>
<line x1="347.5" y1="208.1" x2="314.7" y2="242.3" stroke="#c0c0d0" stroke-width="1.1"/>
<line x1="347.5" y1="208.1" x2="364" y2="242.3" stroke="#c0c0d0" stroke-width="1.1"/>
<line x1="361.5" y1="215.1" x2="371.5" y2="219.6" stroke="#1c1c9c" stroke-width="1.2" opacity="0.7"/>
<line x1="353.5" y1="211.3" x2="362.5" y2="215.5" stroke="#4a0a58" stroke-width="2" opacity="0.85"/>
<line x1="339" y1="230.8" x2="350" y2="235.5" stroke="#1c1c9c" stroke-width="1.2" opacity="0.7"/>
<line x1="349.5" y1="235.3" x2="358" y2="239.3" stroke="#4a0a58" stroke-width="2" opacity="0.85"/>
<line x1="396.7" y1="208.1" x2="363.9" y2="242.3" stroke="#c0c0d0" stroke-width="1.1"/>
<line x1="396.7" y1="208.1" x2="413.2" y2="242.3" stroke="#c0c0d0" stroke-width="1.1"/>
<line x1="410.7" y1="215.1" x2="420.7" y2="219.6" stroke="#1c1c9c" stroke-width="1.2" opacity="0.7"/>
<line x1="402.7" y1="211.3" x2="411.7" y2="215.5" stroke="#4a0a58" stroke-width="2" opacity="0.85"/>
<line x1="388.2" y1="230.8" x2="399.2" y2="235.5" stroke="#1c1c9c" stroke-width="1.2" opacity="0.7"/>
<line x1="398.7" y1="235.3" x2="407.2" y2="239.3" stroke="#4a0a58" stroke-width="2" opacity="0.85"/>
<line x1="445.9" y1="208.1" x2="413.1" y2="242.3" stroke="#c0c0d0" stroke-width="1.1"/>
<line x1="445.9" y1="208.1" x2="462.4" y2="242.3" stroke="#c0c0d0" stroke-width="1.1"/>
<line x1="459.9" y1="215.1" x2="469.9" y2="219.6" stroke="#1c1c9c" stroke-width="1.2" opacity="0.7"/>
<line x1="451.9" y1="211.3" x2="460.9" y2="215.5" stroke="#4a0a58" stroke-width="2" opacity="0.85"/>
<line x1="437.4" y1="230.8" x2="448.4" y2="235.5" stroke="#1c1c9c" stroke-width="1.2" opacity="0.7"/>
<line x1="447.9" y1="235.3" x2="456.4" y2="239.3" stroke="#4a0a58" stroke-width="2" opacity="0.85"/>
<line x1="495.1" y1="208.1" x2="462.3" y2="242.3" stroke="#c0c0d0" stroke-width="1.1"/>
<line x1="495.1" y1="208.1" x2="511.6" y2="242.3" stroke="#c0c0d0" stroke-width="1.1"/>
<line x1="509.1" y1="215.1" x2="519.1" y2="219.6" stroke="#1c1c9c" stroke-width="1.2" opacity="0.7"/>
<line x1="501.1" y1="211.3" x2="510.1" y2="215.5" stroke="#4a0a58" stroke-width="2" opacity="0.85"/>
<line x1="486.6" y1="230.8" x2="497.6" y2="235.5" stroke="#1c1c9c" stroke-width="1.2" opacity="0.7"/>
<line x1="497.1" y1="235.3" x2="505.6" y2="239.3" stroke="#4a0a58" stroke-width="2" opacity="0.85"/>
<line x1="544.3" y1="208.1" x2="511.5" y2="242.3" stroke="#c0c0d0" stroke-width="1.1"/>
<line x1="544.3" y1="208.1" x2="560.8" y2="242.3" stroke="#c0c0d0" stroke-width="1.1"/>
<line x1="558.3" y1="215.1" x2="568.3" y2="219.6" stroke="#1c1c9c" stroke-width="1.2" opacity="0.7"/>
<line x1="550.3" y1="211.3" x2="559.3" y2="215.5" stroke="#4a0a58" stroke-width="2" opacity="0.85"/>
<line x1="535.8" y1="230.8" x2="546.8" y2="235.5" stroke="#1c1c9c" stroke-width="1.2" opacity="0.7"/>
<line x1="546.3" y1="235.3" x2="554.8" y2="239.3" stroke="#4a0a58" stroke-width="2" opacity="0.85"/>
<line x1="593.5" y1="208.1" x2="560.7" y2="242.3" stroke="#c0c0d0" stroke-width="1.1"/>
<line x1="593.5" y1="208.1" x2="610" y2="242.3" stroke="#c0c0d0" stroke-width="1.1"/>
<line x1="607.5" y1="215.1" x2="617.5" y2="219.6" stroke="#1c1c9c" stroke-width="1.2" opacity="0.7"/>
<line x1="599.5" y1="211.3" x2="608.5" y2="215.5" stroke="#4a0a58" stroke-width="2" opacity="0.85"/>
<line x1="585" y1="230.8" x2="596" y2="235.5" stroke="#1c1c9c" stroke-width="1.2" opacity="0.7"/>
<line x1="595.5" y1="235.3" x2="604" y2="239.3" stroke="#4a0a58" stroke-width="2" opacity="0.85"/>
<line x1="642.7" y1="208.1" x2="609.9" y2="242.3" stroke="#c0c0d0" stroke-width="1.1"/>
<line x1="642.7" y1="208.1" x2="659.2" y2="242.3" stroke="#c0c0d0" stroke-width="1.1"/>
<line x1="656.7" y1="215.1" x2="666.7" y2="219.6" stroke="#1c1c9c" stroke-width="1.2" opacity="0.7"/>
<line x1="648.7" y1="211.3" x2="657.7" y2="215.5" stroke="#4a0a58" stroke-width="2" opacity="0.85"/>
<line x1="634.2" y1="230.8" x2="645.2" y2="235.5" stroke="#1c1c9c" stroke-width="1.2" opacity="0.7"/>
<line x1="644.7" y1="235.3" x2="653.2" y2="239.3" stroke="#4a0a58" stroke-width="2" opacity="0.85"/>
<circle cx="298.3" cy="208.1" r="5.6" fill="url(#sR)"/>
<circle cx="314.8" cy="242.5" r="5.6" fill="url(#sR)"/>
<circle cx="347.5" cy="208.1" r="5.6" fill="url(#sR)"/>
<circle cx="364" cy="242.5" r="5.6" fill="url(#sR)"/>
<circle cx="396.7" cy="208.1" r="5.6" fill="url(#sR)"/>
<circle cx="413.2" cy="242.5" r="5.6" fill="url(#sR)"/>
<circle cx="445.9" cy="208.1" r="5.6" fill="url(#sR)"/>
<circle cx="462.4" cy="242.5" r="5.6" fill="url(#sR)"/>
<circle cx="495.1" cy="208.1" r="5.6" fill="url(#sR)"/>
<circle cx="511.6" cy="242.5" r="5.6" fill="url(#sR)"/>
<circle cx="544.3" cy="208.1" r="5.6" fill="url(#sR)"/>
<circle cx="560.8" cy="242.5" r="5.6" fill="url(#sR)"/>
<circle cx="593.5" cy="208.1" r="5.6" fill="url(#sR)"/>
<circle cx="610" cy="242.5" r="5.6" fill="url(#sR)"/>
<circle cx="642.7" cy="208.1" r="5.6" fill="url(#sR)"/>
<circle cx="659.2" cy="242.5" r="5.6" fill="url(#sR)"/>
<rect x="405" y="309.2" width="185" height="33.8" fill="#00007a"/>
<line x1="282" y1="308.7" x2="249.2" y2="343" stroke="#c0c0d0" stroke-width="1.1"/>
<line x1="282" y1="308.7" x2="298.5" y2="343" stroke="#c0c0d0" stroke-width="1.1"/>
<line x1="296" y1="315.7" x2="306" y2="320.2" stroke="#1c1c9c" stroke-width="1.2" opacity="0.7"/>
<line x1="288" y1="311.9" x2="297" y2="316.1" stroke="#4a0a58" stroke-width="2" opacity="0.85"/>
<line x1="273.5" y1="331.5" x2="284.5" y2="336.2" stroke="#1c1c9c" stroke-width="1.2" opacity="0.7"/>
<line x1="284" y1="336" x2="292.5" y2="340" stroke="#4a0a58" stroke-width="2" opacity="0.85"/>
<line x1="331.2" y1="308.7" x2="298.4" y2="343" stroke="#c0c0d0" stroke-width="1.1"/>
<line x1="331.2" y1="308.7" x2="347.7" y2="343" stroke="#c0c0d0" stroke-width="1.1"/>
<line x1="345.2" y1="315.7" x2="355.2" y2="320.2" stroke="#1c1c9c" stroke-width="1.2" opacity="0.7"/>
<line x1="337.2" y1="311.9" x2="346.2" y2="316.1" stroke="#4a0a58" stroke-width="2" opacity="0.85"/>
<line x1="322.7" y1="331.5" x2="333.7" y2="336.2" stroke="#1c1c9c" stroke-width="1.2" opacity="0.7"/>
<line x1="333.2" y1="336" x2="341.7" y2="340" stroke="#4a0a58" stroke-width="2" opacity="0.85"/>
<line x1="380.4" y1="308.7" x2="347.6" y2="343" stroke="#c0c0d0" stroke-width="1.1"/>
<line x1="380.4" y1="308.7" x2="396.9" y2="343" stroke="#c0c0d0" stroke-width="1.1"/>
<line x1="394.4" y1="315.7" x2="404.4" y2="320.2" stroke="#1c1c9c" stroke-width="1.2" opacity="0.7"/>
<line x1="386.4" y1="311.9" x2="395.4" y2="316.1" stroke="#4a0a58" stroke-width="2" opacity="0.85"/>
<line x1="371.9" y1="331.5" x2="382.9" y2="336.2" stroke="#1c1c9c" stroke-width="1.2" opacity="0.7"/>
<line x1="382.4" y1="336" x2="390.9" y2="340" stroke="#4a0a58" stroke-width="2" opacity="0.85"/>
<line x1="429.6" y1="308.7" x2="396.8" y2="343" stroke="#c0c0d0" stroke-width="1.1"/>
<line x1="429.6" y1="308.7" x2="446.1" y2="343" stroke="#c0c0d0" stroke-width="1.1"/>
<line x1="443.6" y1="315.7" x2="453.6" y2="320.2" stroke="#1c1c9c" stroke-width="1.2" opacity="0.7"/>
<line x1="435.6" y1="311.9" x2="444.6" y2="316.1" stroke="#4a0a58" stroke-width="2" opacity="0.85"/>
<line x1="421.1" y1="331.5" x2="432.1" y2="336.2" stroke="#1c1c9c" stroke-width="1.2" opacity="0.7"/>
<line x1="431.6" y1="336" x2="440.1" y2="340" stroke="#4a0a58" stroke-width="2" opacity="0.85"/>
<line x1="478.8" y1="308.7" x2="446" y2="343" stroke="#c0c0d0" stroke-width="1.1"/>
<line x1="478.8" y1="308.7" x2="495.3" y2="343" stroke="#c0c0d0" stroke-width="1.1"/>
<line x1="492.8" y1="315.7" x2="502.8" y2="320.2" stroke="#1c1c9c" stroke-width="1.2" opacity="0.7"/>
<line x1="484.8" y1="311.9" x2="493.8" y2="316.1" stroke="#4a0a58" stroke-width="2" opacity="0.85"/>
<line x1="470.3" y1="331.5" x2="481.3" y2="336.2" stroke="#1c1c9c" stroke-width="1.2" opacity="0.7"/>
<line x1="480.8" y1="336" x2="489.3" y2="340" stroke="#4a0a58" stroke-width="2" opacity="0.85"/>
<line x1="528" y1="308.7" x2="495.2" y2="343" stroke="#c0c0d0" stroke-width="1.1"/>
<line x1="528" y1="308.7" x2="544.5" y2="343" stroke="#c0c0d0" stroke-width="1.1"/>
<line x1="542" y1="315.7" x2="552" y2="320.2" stroke="#1c1c9c" stroke-width="1.2" opacity="0.7"/>
<line x1="534" y1="311.9" x2="543" y2="316.1" stroke="#4a0a58" stroke-width="2" opacity="0.85"/>
<line x1="519.5" y1="331.5" x2="530.5" y2="336.2" stroke="#1c1c9c" stroke-width="1.2" opacity="0.7"/>
<line x1="530" y1="336" x2="538.5" y2="340" stroke="#4a0a58" stroke-width="2" opacity="0.85"/>
<line x1="577.2" y1="308.7" x2="544.4" y2="343" stroke="#c0c0d0" stroke-width="1.1"/>
<line x1="577.2" y1="308.7" x2="593.7" y2="343" stroke="#c0c0d0" stroke-width="1.1"/>
<line x1="591.2" y1="315.7" x2="601.2" y2="320.2" stroke="#1c1c9c" stroke-width="1.2" opacity="0.7"/>
<line x1="583.2" y1="311.9" x2="592.2" y2="316.1" stroke="#4a0a58" stroke-width="2" opacity="0.85"/>
<line x1="568.7" y1="331.5" x2="579.7" y2="336.2" stroke="#1c1c9c" stroke-width="1.2" opacity="0.7"/>
<line x1="579.2" y1="336" x2="587.7" y2="340" stroke="#4a0a58" stroke-width="2" opacity="0.85"/>
<line x1="626.4" y1="308.7" x2="593.6" y2="343" stroke="#c0c0d0" stroke-width="1.1"/>
<line x1="626.4" y1="308.7" x2="642.9" y2="343" stroke="#c0c0d0" stroke-width="1.1"/>
<line x1="640.4" y1="315.7" x2="650.4" y2="320.2" stroke="#1c1c9c" stroke-width="1.2" opacity="0.7"/>
<line x1="632.4" y1="311.9" x2="641.4" y2="316.1" stroke="#4a0a58" stroke-width="2" opacity="0.85"/>
<line x1="617.9" y1="331.5" x2="628.9" y2="336.2" stroke="#1c1c9c" stroke-width="1.2" opacity="0.7"/>
<line x1="628.4" y1="336" x2="636.9" y2="340" stroke="#4a0a58" stroke-width="2" opacity="0.85"/>
<circle cx="282" cy="308.7" r="5.6" fill="url(#sR)"/>
<circle cx="298.5" cy="343.2" r="5.6" fill="url(#sR)"/>
<circle cx="331.2" cy="308.7" r="5.6" fill="url(#sR)"/>
<circle cx="347.7" cy="343.2" r="5.6" fill="url(#sR)"/>
<circle cx="380.4" cy="308.7" r="5.6" fill="url(#sR)"/>
<circle cx="396.9" cy="343.2" r="5.6" fill="url(#sR)"/>
<circle cx="429.6" cy="308.7" r="5.6" fill="url(#sR)"/>
<circle cx="446.1" cy="343.2" r="5.6" fill="url(#sR)"/>
<circle cx="478.8" cy="308.7" r="5.6" fill="url(#sR)"/>
<circle cx="495.3" cy="343.2" r="5.6" fill="url(#sR)"/>
<circle cx="528" cy="308.7" r="5.6" fill="url(#sR)"/>
<circle cx="544.5" cy="343.2" r="5.6" fill="url(#sR)"/>
<circle cx="577.2" cy="308.7" r="5.6" fill="url(#sR)"/>
<circle cx="593.7" cy="343.2" r="5.6" fill="url(#sR)"/>
<circle cx="626.4" cy="308.7" r="5.6" fill="url(#sR)"/>
<circle cx="642.9" cy="343.2" r="5.6" fill="url(#sR)"/>
<circle cx="363.8" cy="175" r="14.6" fill="url(#sG)"/>
<circle cx="413" cy="175" r="14.6" fill="url(#sG)"/>
<circle cx="462.2" cy="175" r="14.6" fill="url(#sG)"/>
<circle cx="511.4" cy="175" r="14.6" fill="url(#sG)"/>
<circle cx="560.6" cy="175" r="14.6" fill="url(#sG)"/>
<circle cx="609.8" cy="175" r="14.6" fill="url(#sG)"/>
<circle cx="659" cy="175" r="14.6" fill="url(#sG)"/>
<circle cx="347.5" cy="275.8" r="14.6" fill="url(#sG)"/>
<circle cx="396.7" cy="275.8" r="14.6" fill="url(#sG)"/>
<circle cx="445.9" cy="275.8" r="14.6" fill="url(#sG)"/>
<circle cx="495.1" cy="275.8" r="14.6" fill="url(#sG)"/>
<circle cx="544.3" cy="275.8" r="14.6" fill="url(#sG)"/>
<circle cx="593.5" cy="275.8" r="14.6" fill="url(#sG)"/>
<circle cx="642.7" cy="275.8" r="14.6" fill="url(#sG)"/>
<ellipse cx="379.3" cy="88.2" rx="4" ry="0.9" fill="#2a2400" opacity=".8"/>
<ellipse cx="428.5" cy="88.2" rx="4" ry="0.9" fill="#2a2400" opacity=".8"/>
<ellipse cx="477.7" cy="88.2" rx="4" ry="0.9" fill="#2a2400" opacity=".8"/>
<ellipse cx="526.9" cy="88.2" rx="4" ry="0.9" fill="#2a2400" opacity=".8"/>
<ellipse cx="576.1" cy="88.2" rx="4" ry="0.9" fill="#2a2400" opacity=".8"/>
</g>
</g>
<rect x="104.3" y="87.3" width="479.4" height="479.4" fill="none" stroke="#000" stroke-width="2.2"/>
<text class="t" x="104.6" y="600.8" text-anchor="middle">0</text>
<text class="t" x="93.4" y="577.9" text-anchor="end">0</text>
<text class="t" x="198.8" y="600.8" text-anchor="middle">5</text>
<text class="t" x="93.4" y="481.86" text-anchor="end">5</text>
<text class="t" x="300" y="600.8" text-anchor="middle">10</text>
<text class="t" x="93.4" y="385.82" text-anchor="end">10</text>
<text class="t" x="394.7" y="600.8" text-anchor="middle">15</text>
<text class="t" x="93.4" y="289.78" text-anchor="end">15</text>
<text class="t" x="490.6" y="600.8" text-anchor="middle">20</text>
<text class="t" x="93.4" y="193.74" text-anchor="end">20</text>
<text class="t" x="584" y="600.8" text-anchor="middle">25</text>
<text class="t" x="93.4" y="97.7" text-anchor="end">25</text>
<text class="ax" x="207.4" y="642.6"><tspan font-style="italic">X</tspan><tspan dx="1.2"> coordinate (Å)</tspan></text>
<text class="ax" transform="translate(42.4 444.5) rotate(-90)"><tspan font-style="italic">Z</tspan> coordinate (Å)</text>
<text class="pl" x="5" y="39.5">a</text>
</g>
<g id="panel-b">
<g clip-path="url(#cpb)"><g class="h" filter="url(#hot)">
<rect x="689.7" y="85.3" width="479.5" height="479" fill="#000"/>
<use href="#b" transform="translate(690.3 109.6) scale(23.1 23.1)" opacity="0.39"/>
<use href="#b" transform="translate(706.3 94.6) scale(23.1 23.1)" opacity="0.21"/>
<use href="#b" transform="translate(674.3 124.6) scale(23.1 23.1)" opacity="0.21"/>
<use href="#b" transform="translate(737.5 109.6) scale(23.1 23.1)" opacity="0.39"/>
<use href="#b" transform="translate(753.5 94.6) scale(23.1 23.1)" opacity="0.21"/>
<use href="#b" transform="translate(721.5 124.6) scale(23.1 23.1)" opacity="0.21"/>
<use href="#b" transform="translate(784.7 109.6) scale(23.1 23.1)" opacity="0.39"/>
<use href="#b" transform="translate(800.7 94.6) scale(23.1 23.1)" opacity="0.21"/>
<use href="#b" transform="translate(768.7 124.6) scale(23.1 23.1)" opacity="0.21"/>
<use href="#b" transform="translate(831.9 109.6) scale(23.1 23.1)" opacity="0.39"/>
<use href="#b" transform="translate(847.9 94.6) scale(23.1 23.1)" opacity="0.21"/>
<use href="#b" transform="translate(815.9 124.6) scale(23.1 23.1)" opacity="0.21"/>
<use href="#b" transform="translate(879.1 109.6) scale(23.1 23.1)" opacity="0.39"/>
<use href="#b" transform="translate(895.1 94.6) scale(23.1 23.1)" opacity="0.21"/>
<use href="#b" transform="translate(863.1 124.6) scale(23.1 23.1)" opacity="0.21"/>
<use href="#b" transform="translate(926.3 109.6) scale(23.1 23.1)" opacity="0.39"/>
<use href="#b" transform="translate(942.3 94.6) scale(23.1 23.1)" opacity="0.21"/>
<use href="#b" transform="translate(910.3 124.6) scale(23.1 23.1)" opacity="0.21"/>
<use href="#b" transform="translate(973.5 109.6) scale(23.1 23.1)" opacity="0.39"/>
<use href="#b" transform="translate(989.5 94.6) scale(23.1 23.1)" opacity="0.21"/>
<use href="#b" transform="translate(957.5 124.6) scale(23.1 23.1)" opacity="0.21"/>
<use href="#b" transform="translate(1020.7 109.6) scale(23.1 23.1)" opacity="0.39"/>
<use href="#b" transform="translate(1036.7 94.6) scale(23.1 23.1)" opacity="0.21"/>
<use href="#b" transform="translate(1004.7 124.6) scale(23.1 23.1)" opacity="0.21"/>
<use href="#b" transform="translate(1067.9 109.6) scale(23.1 23.1)" opacity="0.39"/>
<use href="#b" transform="translate(1083.9 94.6) scale(23.1 23.1)" opacity="0.21"/>
<use href="#b" transform="translate(1051.9 124.6) scale(23.1 23.1)" opacity="0.21"/>
<use href="#b" transform="translate(1115.1 109.6) scale(23.1 23.1)" opacity="0.39"/>
<use href="#b" transform="translate(1131.1 94.6) scale(23.1 23.1)" opacity="0.21"/>
<use href="#b" transform="translate(1099.1 124.6) scale(23.1 23.1)" opacity="0.21"/>
<use href="#b" transform="translate(1162.3 109.6) scale(23.1 23.1)" opacity="0.39"/>
<use href="#b" transform="translate(1178.3 94.6) scale(23.1 23.1)" opacity="0.21"/>
<use href="#b" transform="translate(1146.3 124.6) scale(23.1 23.1)" opacity="0.21"/>
<use href="#b" transform="translate(671.6 161.6) scale(19.5 19.5)" opacity="0.03"/>
<use href="#b" transform="translate(718.8 161.6) scale(19.5 19.5)" opacity="0.03"/>
<use href="#b" transform="translate(766 161.6) scale(19.5 19.5)" opacity="0.03"/>
<use href="#b" transform="translate(813.2 161.6) scale(19.5 19.5)" opacity="0.03"/>
<use href="#b" transform="translate(860.4 161.6) scale(19.5 19.5)" opacity="0.03"/>
<use href="#b" transform="translate(907.6 161.6) scale(19.5 19.5)" opacity="0.03"/>
<use href="#b" transform="translate(954.8 161.6) scale(19.5 19.5)" opacity="0.03"/>
<use href="#b" transform="translate(1002 161.6) scale(19.5 19.5)" opacity="0.03"/>
<use href="#b" transform="translate(1049.2 161.6) scale(19.5 19.5)" opacity="0.03"/>
<use href="#b" transform="translate(1096.4 161.6) scale(19.5 19.5)" opacity="0.03"/>
<use href="#b" transform="translate(1143.6 161.6) scale(19.5 19.5)" opacity="0.03"/>
<use href="#b" transform="translate(690.3 217) scale(23.1 23.1)" opacity="0.39"/>
<use href="#b" transform="translate(706.3 232) scale(23.1 23.1)" opacity="0.21"/>
<use href="#b" transform="translate(674.3 202) scale(23.1 23.1)" opacity="0.21"/>
<use href="#b" transform="translate(737.5 217) scale(23.1 23.1)" opacity="0.39"/>
<use href="#b" transform="translate(753.5 232) scale(23.1 23.1)" opacity="0.21"/>
<use href="#b" transform="translate(721.5 202) scale(23.1 23.1)" opacity="0.21"/>
<use href="#b" transform="translate(784.7 217) scale(23.1 23.1)" opacity="0.39"/>
<use href="#b" transform="translate(800.7 232) scale(23.1 23.1)" opacity="0.21"/>
<use href="#b" transform="translate(768.7 202) scale(23.1 23.1)" opacity="0.21"/>
<use href="#b" transform="translate(831.9 217) scale(23.1 23.1)" opacity="0.39"/>
<use href="#b" transform="translate(847.9 232) scale(23.1 23.1)" opacity="0.21"/>
<use href="#b" transform="translate(815.9 202) scale(23.1 23.1)" opacity="0.21"/>
<use href="#b" transform="translate(879.1 217) scale(23.1 23.1)" opacity="0.39"/>
<use href="#b" transform="translate(895.1 232) scale(23.1 23.1)" opacity="0.21"/>
<use href="#b" transform="translate(863.1 202) scale(23.1 23.1)" opacity="0.21"/>
<use href="#b" transform="translate(926.3 217) scale(23.1 23.1)" opacity="0.39"/>
<use href="#b" transform="translate(942.3 232) scale(23.1 23.1)" opacity="0.21"/>
<use href="#b" transform="translate(910.3 202) scale(23.1 23.1)" opacity="0.21"/>
<use href="#b" transform="translate(973.5 217) scale(23.1 23.1)" opacity="0.39"/>
<use href="#b" transform="translate(989.5 232) scale(23.1 23.1)" opacity="0.21"/>
<use href="#b" transform="translate(957.5 202) scale(23.1 23.1)" opacity="0.21"/>
<use href="#b" transform="translate(1020.7 217) scale(23.1 23.1)" opacity="0.39"/>
<use href="#b" transform="translate(1036.7 232) scale(23.1 23.1)" opacity="0.21"/>
<use href="#b" transform="translate(1004.7 202) scale(23.1 23.1)" opacity="0.21"/>
<use href="#b" transform="translate(1067.9 217) scale(23.1 23.1)" opacity="0.39"/>
<use href="#b" transform="translate(1083.9 232) scale(23.1 23.1)" opacity="0.21"/>
<use href="#b" transform="translate(1051.9 202) scale(23.1 23.1)" opacity="0.21"/>
<use href="#b" transform="translate(1115.1 217) scale(23.1 23.1)" opacity="0.39"/>
<use href="#b" transform="translate(1131.1 232) scale(23.1 23.1)" opacity="0.21"/>
<use href="#b" transform="translate(1099.1 202) scale(23.1 23.1)" opacity="0.21"/>
<use href="#b" transform="translate(1162.3 217) scale(23.1 23.1)" opacity="0.39"/>
<use href="#b" transform="translate(1178.3 232) scale(23.1 23.1)" opacity="0.21"/>
<use href="#b" transform="translate(1146.3 202) scale(23.1 23.1)" opacity="0.21"/>
<use href="#b" transform="translate(671.6 269) scale(19.5 19.5)" opacity="0.03"/>
<use href="#b" transform="translate(718.8 269) scale(19.5 19.5)" opacity="0.03"/>
<use href="#b" transform="translate(766 269) scale(19.5 19.5)" opacity="0.03"/>
<use href="#b" transform="translate(813.2 269) scale(19.5 19.5)" opacity="0.03"/>
<use href="#b" transform="translate(860.4 269) scale(19.5 19.5)" opacity="0.03"/>
<use href="#b" transform="translate(907.6 269) scale(19.5 19.5)" opacity="0.03"/>
<use href="#b" transform="translate(954.8 269) scale(19.5 19.5)" opacity="0.03"/>
<use href="#b" transform="translate(1002 269) scale(19.5 19.5)" opacity="0.03"/>
<use href="#b" transform="translate(1049.2 269) scale(19.5 19.5)" opacity="0.03"/>
<use href="#b" transform="translate(1096.4 269) scale(19.5 19.5)" opacity="0.03"/>
<use href="#b" transform="translate(1143.6 269) scale(19.5 19.5)" opacity="0.03"/>
<use href="#b" transform="translate(690.3 323.6) scale(23.1 23.1)" opacity="0.39"/>
<use href="#b" transform="translate(706.3 308.6) scale(23.1 23.1)" opacity="0.21"/>
<use href="#b" transform="translate(674.3 338.6) scale(23.1 23.1)" opacity="0.21"/>
<use href="#b" transform="translate(737.5 323.6) scale(23.1 23.1)" opacity="0.39"/>
<use href="#b" transform="translate(753.5 308.6) scale(23.1 23.1)" opacity="0.21"/>
<use href="#b" transform="translate(721.5 338.6) scale(23.1 23.1)" opacity="0.21"/>
<use href="#b" transform="translate(784.7 323.6) scale(23.1 23.1)" opacity="0.39"/>
<use href="#b" transform="translate(800.7 308.6) scale(23.1 23.1)" opacity="0.21"/>
<use href="#b" transform="translate(768.7 338.6) scale(23.1 23.1)" opacity="0.21"/>
<use href="#b" transform="translate(831.9 323.6) scale(23.1 23.1)" opacity="0.39"/>
<use href="#b" transform="translate(847.9 308.6) scale(23.1 23.1)" opacity="0.21"/>
<use href="#b" transform="translate(815.9 338.6) scale(23.1 23.1)" opacity="0.21"/>
<use href="#b" transform="translate(879.1 323.6) scale(23.1 23.1)" opacity="0.39"/>
<use href="#b" transform="translate(895.1 308.6) scale(23.1 23.1)" opacity="0.21"/>
<use href="#b" transform="translate(863.1 338.6) scale(23.1 23.1)" opacity="0.21"/>
<use href="#b" transform="translate(926.3 323.6) scale(23.1 23.1)" opacity="0.39"/>
<use href="#b" transform="translate(942.3 308.6) scale(23.1 23.1)" opacity="0.21"/>
<use href="#b" transform="translate(910.3 338.6) scale(23.1 23.1)" opacity="0.21"/>
<use href="#b" transform="translate(973.5 323.6) scale(23.1 23.1)" opacity="0.39"/>
<use href="#b" transform="translate(989.5 308.6) scale(23.1 23.1)" opacity="0.21"/>
<use href="#b" transform="translate(957.5 338.6) scale(23.1 23.1)" opacity="0.21"/>
<use href="#b" transform="translate(1020.7 323.6) scale(23.1 23.1)" opacity="0.39"/>
<use href="#b" transform="translate(1036.7 308.6) scale(23.1 23.1)" opacity="0.21"/>
<use href="#b" transform="translate(1004.7 338.6) scale(23.1 23.1)" opacity="0.21"/>
<use href="#b" transform="translate(1067.9 323.6) scale(23.1 23.1)" opacity="0.39"/>
<use href="#b" transform="translate(1083.9 308.6) scale(23.1 23.1)" opacity="0.21"/>
<use href="#b" transform="translate(1051.9 338.6) scale(23.1 23.1)" opacity="0.21"/>
<use href="#b" transform="translate(1115.1 323.6) scale(23.1 23.1)" opacity="0.39"/>
<use href="#b" transform="translate(1131.1 308.6) scale(23.1 23.1)" opacity="0.21"/>
<use href="#b" transform="translate(1099.1 338.6) scale(23.1 23.1)" opacity="0.21"/>
<use href="#b" transform="translate(1162.3 323.6) scale(23.1 23.1)" opacity="0.39"/>
<use href="#b" transform="translate(1178.3 308.6) scale(23.1 23.1)" opacity="0.21"/>
<use href="#b" transform="translate(1146.3 338.6) scale(23.1 23.1)" opacity="0.21"/>
<use href="#b" transform="translate(671.6 375.6) scale(19.5 19.5)" opacity="0.03"/>
<use href="#b" transform="translate(718.8 375.6) scale(19.5 19.5)" opacity="0.03"/>
<use href="#b" transform="translate(766 375.6) scale(19.5 19.5)" opacity="0.03"/>
<use href="#b" transform="translate(813.2 375.6) scale(19.5 19.5)" opacity="0.03"/>
<use href="#b" transform="translate(860.4 375.6) scale(19.5 19.5)" opacity="0.03"/>
<use href="#b" transform="translate(907.6 375.6) scale(19.5 19.5)" opacity="0.03"/>
<use href="#b" transform="translate(954.8 375.6) scale(19.5 19.5)" opacity="0.03"/>
<use href="#b" transform="translate(1002 375.6) scale(19.5 19.5)" opacity="0.03"/>
<use href="#b" transform="translate(1049.2 375.6) scale(19.5 19.5)" opacity="0.03"/>
<use href="#b" transform="translate(1096.4 375.6) scale(19.5 19.5)" opacity="0.03"/>
<use href="#b" transform="translate(1143.6 375.6) scale(19.5 19.5)" opacity="0.03"/>
<use href="#b" transform="translate(690.3 430.5) scale(23.1 23.1)" opacity="0.39"/>
<use href="#b" transform="translate(706.3 445.5) scale(23.1 23.1)" opacity="0.21"/>
<use href="#b" transform="translate(674.3 415.5) scale(23.1 23.1)" opacity="0.21"/>
<use href="#b" transform="translate(737.5 430.5) scale(23.1 23.1)" opacity="0.39"/>
<use href="#b" transform="translate(753.5 445.5) scale(23.1 23.1)" opacity="0.21"/>
<use href="#b" transform="translate(721.5 415.5) scale(23.1 23.1)" opacity="0.21"/>
<use href="#b" transform="translate(784.7 430.5) scale(23.1 23.1)" opacity="0.39"/>
<use href="#b" transform="translate(800.7 445.5) scale(23.1 23.1)" opacity="0.21"/>
<use href="#b" transform="translate(768.7 415.5) scale(23.1 23.1)" opacity="0.21"/>
<use href="#b" transform="translate(831.9 430.5) scale(23.1 23.1)" opacity="0.39"/>
<use href="#b" transform="translate(847.9 445.5) scale(23.1 23.1)" opacity="0.21"/>
<use href="#b" transform="translate(815.9 415.5) scale(23.1 23.1)" opacity="0.21"/>
<use href="#b" transform="translate(879.1 430.5) scale(23.1 23.1)" opacity="0.39"/>
<use href="#b" transform="translate(895.1 445.5) scale(23.1 23.1)" opacity="0.21"/>
<use href="#b" transform="translate(863.1 415.5) scale(23.1 23.1)" opacity="0.21"/>
<use href="#b" transform="translate(926.3 430.5) scale(23.1 23.1)" opacity="0.39"/>
<use href="#b" transform="translate(942.3 445.5) scale(23.1 23.1)" opacity="0.21"/>
<use href="#b" transform="translate(910.3 415.5) scale(23.1 23.1)" opacity="0.21"/>
<use href="#b" transform="translate(973.5 430.5) scale(23.1 23.1)" opacity="0.39"/>
<use href="#b" transform="translate(989.5 445.5) scale(23.1 23.1)" opacity="0.21"/>
<use href="#b" transform="translate(957.5 415.5) scale(23.1 23.1)" opacity="0.21"/>
<use href="#b" transform="translate(1020.7 430.5) scale(23.1 23.1)" opacity="0.39"/>
<use href="#b" transform="translate(1036.7 445.5) scale(23.1 23.1)" opacity="0.21"/>
<use href="#b" transform="translate(1004.7 415.5) scale(23.1 23.1)" opacity="0.21"/>
<use href="#b" transform="translate(1067.9 430.5) scale(23.1 23.1)" opacity="0.39"/>
<use href="#b" transform="translate(1083.9 445.5) scale(23.1 23.1)" opacity="0.21"/>
<use href="#b" transform="translate(1051.9 415.5) scale(23.1 23.1)" opacity="0.21"/>
<use href="#b" transform="translate(1115.1 430.5) scale(23.1 23.1)" opacity="0.39"/>
<use href="#b" transform="translate(1131.1 445.5) scale(23.1 23.1)" opacity="0.21"/>
<use href="#b" transform="translate(1099.1 415.5) scale(23.1 23.1)" opacity="0.21"/>
<use href="#b" transform="translate(1162.3 430.5) scale(23.1 23.1)" opacity="0.39"/>
<use href="#b" transform="translate(1178.3 445.5) scale(23.1 23.1)" opacity="0.21"/>
<use href="#b" transform="translate(1146.3 415.5) scale(23.1 23.1)" opacity="0.21"/>
<use href="#b" transform="translate(671.6 482.5) scale(19.5 19.5)" opacity="0.03"/>
<use href="#b" transform="translate(718.8 482.5) scale(19.5 19.5)" opacity="0.03"/>
<use href="#b" transform="translate(766 482.5) scale(19.5 19.5)" opacity="0.03"/>
<use href="#b" transform="translate(813.2 482.5) scale(19.5 19.5)" opacity="0.03"/>
<use href="#b" transform="translate(860.4 482.5) scale(19.5 19.5)" opacity="0.03"/>
<use href="#b" transform="translate(907.6 482.5) scale(19.5 19.5)" opacity="0.03"/>
<use href="#b" transform="translate(954.8 482.5) scale(19.5 19.5)" opacity="0.03"/>
<use href="#b" transform="translate(1002 482.5) scale(19.5 19.5)" opacity="0.03"/>
<use href="#b" transform="translate(1049.2 482.5) scale(19.5 19.5)" opacity="0.03"/>
<use href="#b" transform="translate(1096.4 482.5) scale(19.5 19.5)" opacity="0.03"/>
<use href="#b" transform="translate(1143.6 482.5) scale(19.5 19.5)" opacity="0.03"/>
<use href="#b" transform="translate(690.3 537.5) scale(23.1 23.1)" opacity="0.39"/>
<use href="#b" transform="translate(706.3 522.5) scale(23.1 23.1)" opacity="0.21"/>
<use href="#b" transform="translate(674.3 552.5) scale(23.1 23.1)" opacity="0.21"/>
<use href="#b" transform="translate(737.5 537.5) scale(23.1 23.1)" opacity="0.39"/>
<use href="#b" transform="translate(753.5 522.5) scale(23.1 23.1)" opacity="0.21"/>
<use href="#b" transform="translate(721.5 552.5) scale(23.1 23.1)" opacity="0.21"/>
<use href="#b" transform="translate(784.7 537.5) scale(23.1 23.1)" opacity="0.39"/>
<use href="#b" transform="translate(800.7 522.5) scale(23.1 23.1)" opacity="0.21"/>
<use href="#b" transform="translate(768.7 552.5) scale(23.1 23.1)" opacity="0.21"/>
<use href="#b" transform="translate(831.9 537.5) scale(23.1 23.1)" opacity="0.39"/>
<use href="#b" transform="translate(847.9 522.5) scale(23.1 23.1)" opacity="0.21"/>
<use href="#b" transform="translate(815.9 552.5) scale(23.1 23.1)" opacity="0.21"/>
<use href="#b" transform="translate(879.1 537.5) scale(23.1 23.1)" opacity="0.39"/>
<use href="#b" transform="translate(895.1 522.5) scale(23.1 23.1)" opacity="0.21"/>
<use href="#b" transform="translate(863.1 552.5) scale(23.1 23.1)" opacity="0.21"/>
<use href="#b" transform="translate(926.3 537.5) scale(23.1 23.1)" opacity="0.39"/>
<use href="#b" transform="translate(942.3 522.5) scale(23.1 23.1)" opacity="0.21"/>
<use href="#b" transform="translate(910.3 552.5) scale(23.1 23.1)" opacity="0.21"/>
<use href="#b" transform="translate(973.5 537.5) scale(23.1 23.1)" opacity="0.39"/>
<use href="#b" transform="translate(989.5 522.5) scale(23.1 23.1)" opacity="0.21"/>
<use href="#b" transform="translate(957.5 552.5) scale(23.1 23.1)" opacity="0.21"/>
<use href="#b" transform="translate(1020.7 537.5) scale(23.1 23.1)" opacity="0.39"/>
<use href="#b" transform="translate(1036.7 522.5) scale(23.1 23.1)" opacity="0.21"/>
<use href="#b" transform="translate(1004.7 552.5) scale(23.1 23.1)" opacity="0.21"/>
<use href="#b" transform="translate(1067.9 537.5) scale(23.1 23.1)" opacity="0.39"/>
<use href="#b" transform="translate(1083.9 522.5) scale(23.1 23.1)" opacity="0.21"/>
<use href="#b" transform="translate(1051.9 552.5) scale(23.1 23.1)" opacity="0.21"/>
<use href="#b" transform="translate(1115.1 537.5) scale(23.1 23.1)" opacity="0.39"/>
<use href="#b" transform="translate(1131.1 522.5) scale(23.1 23.1)" opacity="0.21"/>
<use href="#b" transform="translate(1099.1 552.5) scale(23.1 23.1)" opacity="0.21"/>
<use href="#b" transform="translate(1162.3 537.5) scale(23.1 23.1)" opacity="0.39"/>
<use href="#b" transform="translate(1178.3 522.5) scale(23.1 23.1)" opacity="0.21"/>
<use href="#b" transform="translate(1146.3 552.5) scale(23.1 23.1)" opacity="0.21"/>
</g></g>
<g id="inset-b">
<rect x="997" y="85.3" width="172.2" height="265.7" fill="#fff"/>
<g class="ins" clip-path="url(#cib)">
<rect x="990" y="99.2" width="185" height="26.7" fill="#00007a"/>
<line x1="896" y1="99.2" x2="863.7" y2="125.9" stroke="#c0c0d0" stroke-width="1.1"/>
<line x1="896" y1="99.2" x2="911.1" y2="125.9" stroke="#c0c0d0" stroke-width="1.1"/>
<line x1="943.4" y1="99.2" x2="911.1" y2="125.9" stroke="#c0c0d0" stroke-width="1.1"/>
<line x1="943.4" y1="99.2" x2="958.5" y2="125.9" stroke="#c0c0d0" stroke-width="1.1"/>
<line x1="990.8" y1="99.2" x2="958.5" y2="125.9" stroke="#c0c0d0" stroke-width="1.1"/>
<line x1="990.8" y1="99.2" x2="1005.9" y2="125.9" stroke="#c0c0d0" stroke-width="1.1"/>
<line x1="1038.2" y1="99.2" x2="1005.9" y2="125.9" stroke="#c0c0d0" stroke-width="1.1"/>
<line x1="1038.2" y1="99.2" x2="1053.3" y2="125.9" stroke="#c0c0d0" stroke-width="1.1"/>
<line x1="1085.6" y1="99.2" x2="1053.3" y2="125.9" stroke="#c0c0d0" stroke-width="1.1"/>
<line x1="1085.6" y1="99.2" x2="1100.7" y2="125.9" stroke="#c0c0d0" stroke-width="1.1"/>
<line x1="1133" y1="99.2" x2="1100.7" y2="125.9" stroke="#c0c0d0" stroke-width="1.1"/>
<line x1="1133" y1="99.2" x2="1148.1" y2="125.9" stroke="#c0c0d0" stroke-width="1.1"/>
<line x1="1180.4" y1="99.2" x2="1148.1" y2="125.9" stroke="#c0c0d0" stroke-width="1.1"/>
<line x1="1180.4" y1="99.2" x2="1195.5" y2="125.9" stroke="#c0c0d0" stroke-width="1.1"/>
<line x1="1227.8" y1="99.2" x2="1195.5" y2="125.9" stroke="#c0c0d0" stroke-width="1.1"/>
<line x1="1227.8" y1="99.2" x2="1242.9" y2="125.9" stroke="#c0c0d0" stroke-width="1.1"/>
<line x1="902.5" y1="102.2" x2="911.5" y2="105.7" stroke="#4a0a58" stroke-width="2" opacity="0.8"/>
<line x1="896.1" y1="119.4" x2="904.6" y2="122.9" stroke="#4a0a58" stroke-width="2" opacity="0.8"/>
<line x1="949.9" y1="102.2" x2="958.9" y2="105.7" stroke="#4a0a58" stroke-width="2" opacity="0.8"/>
<line x1="943.5" y1="119.4" x2="952" y2="122.9" stroke="#4a0a58" stroke-width="2" opacity="0.8"/>
<line x1="997.3" y1="102.2" x2="1006.3" y2="105.7" stroke="#4a0a58" stroke-width="2" opacity="0.8"/>
<line x1="990.9" y1="119.4" x2="999.4" y2="122.9" stroke="#4a0a58" stroke-width="2" opacity="0.8"/>
<line x1="1044.7" y1="102.2" x2="1053.7" y2="105.7" stroke="#4a0a58" stroke-width="2" opacity="0.8"/>
<line x1="1038.3" y1="119.4" x2="1046.8" y2="122.9" stroke="#4a0a58" stroke-width="2" opacity="0.8"/>
<line x1="1092.1" y1="102.2" x2="1101.1" y2="105.7" stroke="#4a0a58" stroke-width="2" opacity="0.8"/>
<line x1="1085.7" y1="119.4" x2="1094.2" y2="122.9" stroke="#4a0a58" stroke-width="2" opacity="0.8"/>
<line x1="1139.5" y1="102.2" x2="1148.5" y2="105.7" stroke="#4a0a58" stroke-width="2" opacity="0.8"/>
<line x1="1133.1" y1="119.4" x2="1141.6" y2="122.9" stroke="#4a0a58" stroke-width="2" opacity="0.8"/>
<line x1="1186.9" y1="102.2" x2="1195.9" y2="105.7" stroke="#4a0a58" stroke-width="2" opacity="0.8"/>
<line x1="1180.5" y1="119.4" x2="1189" y2="122.9" stroke="#4a0a58" stroke-width="2" opacity="0.8"/>
<line x1="1234.3" y1="102.2" x2="1243.3" y2="105.7" stroke="#4a0a58" stroke-width="2" opacity="0.8"/>
<line x1="1227.9" y1="119.4" x2="1236.4" y2="122.9" stroke="#4a0a58" stroke-width="2" opacity="0.8"/>
<ellipse cx="896" cy="98.6" rx="6.4" ry="5.7" fill="url(#sR)"/>
<ellipse cx="911.1" cy="126.7" rx="6.4" ry="5.7" fill="url(#sR)"/>
<ellipse cx="943.4" cy="98.6" rx="6.4" ry="5.7" fill="url(#sR)"/>
<ellipse cx="958.5" cy="126.7" rx="6.4" ry="5.7" fill="url(#sR)"/>
<ellipse cx="990.8" cy="98.6" rx="6.4" ry="5.7" fill="url(#sR)"/>
<ellipse cx="1005.9" cy="126.7" rx="6.4" ry="5.7" fill="url(#sR)"/>
<ellipse cx="1038.2" cy="98.6" rx="6.4" ry="5.7" fill="url(#sR)"/>
<ellipse cx="1053.3" cy="126.7" rx="6.4" ry="5.7" fill="url(#sR)"/>
<ellipse cx="1085.6" cy="98.6" rx="6.4" ry="5.7" fill="url(#sR)"/>
<ellipse cx="1100.7" cy="126.7" rx="6.4" ry="5.7" fill="url(#sR)"/>
<ellipse cx="1133" cy="98.6" rx="6.4" ry="5.7" fill="url(#sR)"/>
<ellipse cx="1148.1" cy="126.7" rx="6.4" ry="5.7" fill="url(#sR)"/>
<ellipse cx="1180.4" cy="98.6" rx="6.4" ry="5.7" fill="url(#sR)"/>
<ellipse cx="1195.5" cy="126.7" rx="6.4" ry="5.7" fill="url(#sR)"/>
<ellipse cx="1227.8" cy="98.6" rx="6.4" ry="5.7" fill="url(#sR)"/>
<ellipse cx="1242.9" cy="126.7" rx="6.4" ry="5.7" fill="url(#sR)"/>
<rect x="990" y="205.4" width="185" height="26" fill="#00008c"/>
<line x1="911.2" y1="205.4" x2="943.5" y2="231.4" stroke="#c0c0d0" stroke-width="1.1"/>
<line x1="911.2" y1="205.4" x2="896.1" y2="231.4" stroke="#c0c0d0" stroke-width="1.1"/>
<polygon points="896.1,231.4 911.2,205.4 863.8,205.4" fill="#1c1cc8" opacity="0.55"/>
<line x1="958.6" y1="205.4" x2="990.9" y2="231.4" stroke="#c0c0d0" stroke-width="1.1"/>
<line x1="958.6" y1="205.4" x2="943.5" y2="231.4" stroke="#c0c0d0" stroke-width="1.1"/>
<polygon points="943.5,231.4 958.6,205.4 911.2,205.4" fill="#1c1cc8" opacity="0.55"/>
<line x1="1006" y1="205.4" x2="1038.3" y2="231.4" stroke="#c0c0d0" stroke-width="1.1"/>
<line x1="1006" y1="205.4" x2="990.9" y2="231.4" stroke="#c0c0d0" stroke-width="1.1"/>
<polygon points="990.9,231.4 1006,205.4 958.6,205.4" fill="#1c1cc8" opacity="0.55"/>
<line x1="1053.4" y1="205.4" x2="1085.7" y2="231.4" stroke="#c0c0d0" stroke-width="1.1"/>
<line x1="1053.4" y1="205.4" x2="1038.3" y2="231.4" stroke="#c0c0d0" stroke-width="1.1"/>
<polygon points="1038.3,231.4 1053.4,205.4 1006,205.4" fill="#1c1cc8" opacity="0.55"/>
<line x1="1100.8" y1="205.4" x2="1133.1" y2="231.4" stroke="#c0c0d0" stroke-width="1.1"/>
<line x1="1100.8" y1="205.4" x2="1085.7" y2="231.4" stroke="#c0c0d0" stroke-width="1.1"/>
<polygon points="1085.7,231.4 1100.8,205.4 1053.4,205.4" fill="#1c1cc8" opacity="0.55"/>
<line x1="1148.2" y1="205.4" x2="1180.5" y2="231.4" stroke="#c0c0d0" stroke-width="1.1"/>
<line x1="1148.2" y1="205.4" x2="1133.1" y2="231.4" stroke="#c0c0d0" stroke-width="1.1"/>
<polygon points="1133.1,231.4 1148.2,205.4 1100.8,205.4" fill="#1c1cc8" opacity="0.55"/>
<line x1="1195.6" y1="205.4" x2="1227.9" y2="231.4" stroke="#c0c0d0" stroke-width="1.1"/>
<line x1="1195.6" y1="205.4" x2="1180.5" y2="231.4" stroke="#c0c0d0" stroke-width="1.1"/>
<polygon points="1180.5,231.4 1195.6,205.4 1148.2,205.4" fill="#1c1cc8" opacity="0.55"/>
<line x1="1243" y1="205.4" x2="1275.3" y2="231.4" stroke="#c0c0d0" stroke-width="1.1"/>
<line x1="1243" y1="205.4" x2="1227.9" y2="231.4" stroke="#c0c0d0" stroke-width="1.1"/>
<polygon points="1227.9,231.4 1243,205.4 1195.6,205.4" fill="#1c1cc8" opacity="0.55"/>
<ellipse cx="911.2" cy="204.8" rx="6.4" ry="5.7" fill="url(#sR)"/>
<ellipse cx="896.1" cy="232.2" rx="6.4" ry="5.7" fill="url(#sR)"/>
<ellipse cx="958.6" cy="204.8" rx="6.4" ry="5.7" fill="url(#sR)"/>
<ellipse cx="943.5" cy="232.2" rx="6.4" ry="5.7" fill="url(#sR)"/>
<ellipse cx="1006" cy="204.8" rx="6.4" ry="5.7" fill="url(#sR)"/>
<ellipse cx="990.9" cy="232.2" rx="6.4" ry="5.7" fill="url(#sR)"/>
<ellipse cx="1053.4" cy="204.8" rx="6.4" ry="5.7" fill="url(#sR)"/>
<ellipse cx="1038.3" cy="232.2" rx="6.4" ry="5.7" fill="url(#sR)"/>
<ellipse cx="1100.8" cy="204.8" rx="6.4" ry="5.7" fill="url(#sR)"/>
<ellipse cx="1085.7" cy="232.2" rx="6.4" ry="5.7" fill="url(#sR)"/>
<ellipse cx="1148.2" cy="204.8" rx="6.4" ry="5.7" fill="url(#sR)"/>
<ellipse cx="1133.1" cy="232.2" rx="6.4" ry="5.7" fill="url(#sR)"/>
<ellipse cx="1195.6" cy="204.8" rx="6.4" ry="5.7" fill="url(#sR)"/>
<ellipse cx="1180.5" cy="232.2" rx="6.4" ry="5.7" fill="url(#sR)"/>
<ellipse cx="1243" cy="204.8" rx="6.4" ry="5.7" fill="url(#sR)"/>
<ellipse cx="1227.9" cy="232.2" rx="6.4" ry="5.7" fill="url(#sR)"/>
<rect x="990" y="311.9" width="185" height="27" fill="#00007a"/>
<line x1="896.4" y1="311.9" x2="864.1" y2="338.9" stroke="#c0c0d0" stroke-width="1.1"/>
<line x1="896.4" y1="311.9" x2="911.5" y2="338.9" stroke="#c0c0d0" stroke-width="1.1"/>
<line x1="943.8" y1="311.9" x2="911.5" y2="338.9" stroke="#c0c0d0" stroke-width="1.1"/>
<line x1="943.8" y1="311.9" x2="958.9" y2="338.9" stroke="#c0c0d0" stroke-width="1.1"/>
<line x1="991.2" y1="311.9" x2="958.9" y2="338.9" stroke="#c0c0d0" stroke-width="1.1"/>
<line x1="991.2" y1="311.9" x2="1006.3" y2="338.9" stroke="#c0c0d0" stroke-width="1.1"/>
<line x1="1038.6" y1="311.9" x2="1006.3" y2="338.9" stroke="#c0c0d0" stroke-width="1.1"/>
<line x1="1038.6" y1="311.9" x2="1053.7" y2="338.9" stroke="#c0c0d0" stroke-width="1.1"/>
<line x1="1086" y1="311.9" x2="1053.7" y2="338.9" stroke="#c0c0d0" stroke-width="1.1"/>
<line x1="1086" y1="311.9" x2="1101.1" y2="338.9" stroke="#c0c0d0" stroke-width="1.1"/>
<line x1="1133.4" y1="311.9" x2="1101.1" y2="338.9" stroke="#c0c0d0" stroke-width="1.1"/>
<line x1="1133.4" y1="311.9" x2="1148.5" y2="338.9" stroke="#c0c0d0" stroke-width="1.1"/>
<line x1="1180.8" y1="311.9" x2="1148.5" y2="338.9" stroke="#c0c0d0" stroke-width="1.1"/>
<line x1="1180.8" y1="311.9" x2="1195.9" y2="338.9" stroke="#c0c0d0" stroke-width="1.1"/>
<line x1="1228.2" y1="311.9" x2="1195.9" y2="338.9" stroke="#c0c0d0" stroke-width="1.1"/>
<line x1="1228.2" y1="311.9" x2="1243.3" y2="338.9" stroke="#c0c0d0" stroke-width="1.1"/>
<line x1="902.9" y1="314.9" x2="911.9" y2="318.4" stroke="#4a0a58" stroke-width="2" opacity="0.8"/>
<line x1="896.5" y1="332.4" x2="905" y2="335.9" stroke="#4a0a58" stroke-width="2" opacity="0.8"/>
<line x1="950.3" y1="314.9" x2="959.3" y2="318.4" stroke="#4a0a58" stroke-width="2" opacity="0.8"/>
<line x1="943.9" y1="332.4" x2="952.4" y2="335.9" stroke="#4a0a58" stroke-width="2" opacity="0.8"/>
<line x1="997.7" y1="314.9" x2="1006.7" y2="318.4" stroke="#4a0a58" stroke-width="2" opacity="0.8"/>
<line x1="991.3" y1="332.4" x2="999.8" y2="335.9" stroke="#4a0a58" stroke-width="2" opacity="0.8"/>
<line x1="1045.1" y1="314.9" x2="1054.1" y2="318.4" stroke="#4a0a58" stroke-width="2" opacity="0.8"/>
<line x1="1038.7" y1="332.4" x2="1047.2" y2="335.9" stroke="#4a0a58" stroke-width="2" opacity="0.8"/>
<line x1="1092.5" y1="314.9" x2="1101.5" y2="318.4" stroke="#4a0a58" stroke-width="2" opacity="0.8"/>
<line x1="1086.1" y1="332.4" x2="1094.6" y2="335.9" stroke="#4a0a58" stroke-width="2" opacity="0.8"/>
<line x1="1139.9" y1="314.9" x2="1148.9" y2="318.4" stroke="#4a0a58" stroke-width="2" opacity="0.8"/>
<line x1="1133.5" y1="332.4" x2="1142" y2="335.9" stroke="#4a0a58" stroke-width="2" opacity="0.8"/>
<line x1="1187.3" y1="314.9" x2="1196.3" y2="318.4" stroke="#4a0a58" stroke-width="2" opacity="0.8"/>
<line x1="1180.9" y1="332.4" x2="1189.4" y2="335.9" stroke="#4a0a58" stroke-width="2" opacity="0.8"/>
<line x1="1234.7" y1="314.9" x2="1243.7" y2="318.4" stroke="#4a0a58" stroke-width="2" opacity="0.8"/>
<line x1="1228.3" y1="332.4" x2="1236.8" y2="335.9" stroke="#4a0a58" stroke-width="2" opacity="0.8"/>
<ellipse cx="896.4" cy="311.3" rx="6.4" ry="5.7" fill="url(#sR)"/>
<ellipse cx="911.5" cy="339.7" rx="6.4" ry="5.7" fill="url(#sR)"/>
<ellipse cx="943.8" cy="311.3" rx="6.4" ry="5.7" fill="url(#sR)"/>
<ellipse cx="958.9" cy="339.7" rx="6.4" ry="5.7" fill="url(#sR)"/>
<ellipse cx="991.2" cy="311.3" rx="6.4" ry="5.7" fill="url(#sR)"/>
<ellipse cx="1006.3" cy="339.7" rx="6.4" ry="5.7" fill="url(#sR)"/>
<ellipse cx="1038.6" cy="311.3" rx="6.4" ry="5.7" fill="url(#sR)"/>
<ellipse cx="1053.7" cy="339.7" rx="6.4" ry="5.7" fill="url(#sR)"/>
<ellipse cx="1086" cy="311.3" rx="6.4" ry="5.7" fill="url(#sR)"/>
<ellipse cx="1101.1" cy="339.7" rx="6.4" ry="5.7" fill="url(#sR)"/>
<ellipse cx="1133.4" cy="311.3" rx="6.4" ry="5.7" fill="url(#sR)"/>
<ellipse cx="1148.5" cy="339.7" rx="6.4" ry="5.7" fill="url(#sR)"/>
<ellipse cx="1180.8" cy="311.3" rx="6.4" ry="5.7" fill="url(#sR)"/>
<ellipse cx="1195.9" cy="339.7" rx="6.4" ry="5.7" fill="url(#sR)"/>
<ellipse cx="1228.2" cy="311.3" rx="6.4" ry="5.7" fill="url(#sR)"/>
<ellipse cx="1243.3" cy="339.7" rx="6.4" ry="5.7" fill="url(#sR)"/>
<circle cx="944.8" cy="165.3" r="14.6" fill="url(#sG)"/>
<circle cx="992.3" cy="165.3" r="14.6" fill="url(#sG)"/>
<circle cx="1039.8" cy="165.3" r="14.6" fill="url(#sG)"/>
<circle cx="1087.4" cy="165.3" r="14.6" fill="url(#sG)"/>
<circle cx="1134.9" cy="165.3" r="14.6" fill="url(#sG)"/>
<circle cx="1182.5" cy="165.3" r="14.6" fill="url(#sG)"/>
<circle cx="957.9" cy="271.8" r="14.6" fill="url(#sG)"/>
<circle cx="1005.4" cy="271.8" r="14.6" fill="url(#sG)"/>
<circle cx="1053" cy="271.8" r="14.6" fill="url(#sG)"/>
<circle cx="1100.5" cy="271.8" r="14.6" fill="url(#sG)"/>
<circle cx="1148" cy="271.8" r="14.6" fill="url(#sG)"/>
<circle cx="1195.6" cy="271.8" r="14.6" fill="url(#sG)"/>
</g>
</g>
<rect x="689.7" y="85.3" width="479.5" height="479" fill="none" stroke="#000" stroke-width="2.2"/>
<text class="t" x="689.1" y="600.8" text-anchor="middle">0</text>
<text class="t" x="677.9" y="577.9" text-anchor="end">0</text>
<text class="t" x="783.3" y="600.8" text-anchor="middle">5</text>
<text class="t" x="677.9" y="481.86" text-anchor="end">5</text>
<text class="t" x="884.5" y="600.8" text-anchor="middle">10</text>
<text class="t" x="677.9" y="385.82" text-anchor="end">10</text>
<text class="t" x="979.2" y="600.8" text-anchor="middle">15</text>
<text class="t" x="677.9" y="289.78" text-anchor="end">15</text>
<text class="t" x="1075.1" y="600.8" text-anchor="middle">20</text>
<text class="t" x="677.9" y="193.74" text-anchor="end">20</text>
<text class="t" x="1168.5" y="600.8" text-anchor="middle">25</text>
<text class="t" x="677.9" y="97.7" text-anchor="end">25</text>
<text class="ax" x="814.5" y="642.6"><tspan font-style="italic">X</tspan><tspan dx="1.2"> coordinate (Å)</tspan></text>
<text class="pl" x="616" y="39.5">b</text>
</g>
<g id="panel-c">
<g clip-path="url(#cpc)"><g class="h" filter="url(#hot)">
<rect x="1267.4" y="85.7" width="480.3" height="482.7" fill="#000"/>
<use href="#b" transform="translate(1249.9 125.9) scale(24 24)" opacity="0.11"/>
<use href="#b" transform="translate(1242.4 176.4) scale(19.5 31.5)" opacity="0.05"/>
<use href="#b" transform="translate(1240.4 218.4) scale(33 21)" opacity="0.07"/>
<use href="#b" transform="translate(1242.4 260.4) scale(19.5 31.5)" opacity="0.05"/>
<use href="#b" transform="translate(1282.4 110.4) scale(24.9 24.9)" opacity="0.22"/>
<use href="#b" transform="translate(1265.9 94.4) scale(24 24)" opacity="0.11"/>
<use href="#b" transform="translate(1297.9 125.9) scale(24 24)" opacity="0.11"/>
<use href="#b" transform="translate(1290.4 176.4) scale(19.5 31.5)" opacity="0.05"/>
<use href="#b" transform="translate(1288.4 218.4) scale(33 21)" opacity="0.07"/>
<use href="#b" transform="translate(1290.4 260.4) scale(19.5 31.5)" opacity="0.05"/>
<use href="#b" transform="translate(1330.4 110.4) scale(24.9 24.9)" opacity="0.22"/>
<use href="#b" transform="translate(1313.9 94.4) scale(24 24)" opacity="0.11"/>
<use href="#b" transform="translate(1345.9 125.9) scale(24 24)" opacity="0.11"/>
<use href="#b" transform="translate(1338.4 176.4) scale(19.5 31.5)" opacity="0.05"/>
<use href="#b" transform="translate(1336.4 218.4) scale(33 21)" opacity="0.07"/>
<use href="#b" transform="translate(1338.4 260.4) scale(19.5 31.5)" opacity="0.05"/>
<use href="#b" transform="translate(1378.4 110.4) scale(24.9 24.9)" opacity="0.22"/>
<use href="#b" transform="translate(1361.9 94.4) scale(24 24)" opacity="0.11"/>
<use href="#b" transform="translate(1393.9 125.9) scale(24 24)" opacity="0.11"/>
<use href="#b" transform="translate(1386.4 176.4) scale(19.5 31.5)" opacity="0.05"/>
<use href="#b" transform="translate(1384.4 218.4) scale(33 21)" opacity="0.07"/>
<use href="#b" transform="translate(1386.4 260.4) scale(19.5 31.5)" opacity="0.05"/>
<use href="#b" transform="translate(1426.4 110.4) scale(24.9 24.9)" opacity="0.22"/>
<use href="#b" transform="translate(1409.9 94.4) scale(24 24)" opacity="0.11"/>
<use href="#b" transform="translate(1441.9 125.9) scale(24 24)" opacity="0.11"/>
<use href="#b" transform="translate(1434.4 176.4) scale(19.5 31.5)" opacity="0.05"/>
<use href="#b" transform="translate(1432.4 218.4) scale(33 21)" opacity="0.07"/>
<use href="#b" transform="translate(1434.4 260.4) scale(19.5 31.5)" opacity="0.05"/>
<use href="#b" transform="translate(1474.4 110.4) scale(24.9 24.9)" opacity="0.22"/>
<use href="#b" transform="translate(1457.9 94.4) scale(24 24)" opacity="0.11"/>
<use href="#b" transform="translate(1489.9 125.9) scale(24 24)" opacity="0.11"/>
<use href="#b" transform="translate(1482.4 176.4) scale(19.5 31.5)" opacity="0.05"/>
<use href="#b" transform="translate(1480.4 218.4) scale(33 21)" opacity="0.07"/>
<use href="#b" transform="translate(1482.4 260.4) scale(19.5 31.5)" opacity="0.05"/>
<use href="#b" transform="translate(1522.4 110.4) scale(24.9 24.9)" opacity="0.22"/>
<use href="#b" transform="translate(1505.9 94.4) scale(24 24)" opacity="0.11"/>
<use href="#b" transform="translate(1537.9 125.9) scale(24 24)" opacity="0.11"/>
<use href="#b" transform="translate(1530.4 176.4) scale(19.5 31.5)" opacity="0.05"/>
<use href="#b" transform="translate(1528.4 218.4) scale(33 21)" opacity="0.07"/>
<use href="#b" transform="translate(1530.4 260.4) scale(19.5 31.5)" opacity="0.05"/>
<use href="#b" transform="translate(1570.4 110.4) scale(24.9 24.9)" opacity="0.22"/>
<use href="#b" transform="translate(1553.9 94.4) scale(24 24)" opacity="0.11"/>
<use href="#b" transform="translate(1585.9 125.9) scale(24 24)" opacity="0.11"/>
<use href="#b" transform="translate(1578.4 176.4) scale(19.5 31.5)" opacity="0.05"/>
<use href="#b" transform="translate(1576.4 218.4) scale(33 21)" opacity="0.07"/>
<use href="#b" transform="translate(1578.4 260.4) scale(19.5 31.5)" opacity="0.05"/>
<use href="#b" transform="translate(1618.4 110.4) scale(24.9 24.9)" opacity="0.22"/>
<use href="#b" transform="translate(1601.9 94.4) scale(24 24)" opacity="0.11"/>
<use href="#b" transform="translate(1633.9 125.9) scale(24 24)" opacity="0.11"/>
<use href="#b" transform="translate(1626.4 176.4) scale(19.5 31.5)" opacity="0.05"/>
<use href="#b" transform="translate(1624.4 218.4) scale(33 21)" opacity="0.07"/>
<use href="#b" transform="translate(1626.4 260.4) scale(19.5 31.5)" opacity="0.05"/>
<use href="#b" transform="translate(1666.4 110.4) scale(24.9 24.9)" opacity="0.22"/>
<use href="#b" transform="translate(1649.9 94.4) scale(24 24)" opacity="0.11"/>
<use href="#b" transform="translate(1681.9 125.9) scale(24 24)" opacity="0.11"/>
<use href="#b" transform="translate(1674.4 176.4) scale(19.5 31.5)" opacity="0.05"/>
<use href="#b" transform="translate(1672.4 218.4) scale(33 21)" opacity="0.07"/>
<use href="#b" transform="translate(1674.4 260.4) scale(19.5 31.5)" opacity="0.05"/>
<use href="#b" transform="translate(1714.4 110.4) scale(24.9 24.9)" opacity="0.22"/>
<use href="#b" transform="translate(1697.9 94.4) scale(24 24)" opacity="0.11"/>
<use href="#b" transform="translate(1729.9 125.9) scale(24 24)" opacity="0.11"/>
<use href="#b" transform="translate(1722.4 176.4) scale(19.5 31.5)" opacity="0.05"/>
<use href="#b" transform="translate(1720.4 218.4) scale(33 21)" opacity="0.07"/>
<use href="#b" transform="translate(1722.4 260.4) scale(19.5 31.5)" opacity="0.05"/>
<use href="#b" transform="translate(1762.4 110.4) scale(24.9 24.9)" opacity="0.22"/>
<use href="#b" transform="translate(1745.9 94.4) scale(24 24)" opacity="0.11"/>
<use href="#b" transform="translate(1770.4 176.4) scale(19.5 31.5)" opacity="0.05"/>
<use href="#b" transform="translate(1768.4 218.4) scale(33 21)" opacity="0.07"/>
<use href="#b" transform="translate(1770.4 260.4) scale(19.5 31.5)" opacity="0.05"/>
<use href="#b" transform="translate(1246.3 324.2) scale(24.9 24.9)" opacity="0.22"/>
<use href="#b" transform="translate(1261.8 339.7) scale(24 24)" opacity="0.11"/>
<use href="#b" transform="translate(1254.3 390.2) scale(19.5 31.5)" opacity="0.05"/>
<use href="#b" transform="translate(1252.3 432.2) scale(33 21)" opacity="0.07"/>
<use href="#b" transform="translate(1254.3 474.2) scale(19.5 31.5)" opacity="0.05"/>
<use href="#b" transform="translate(1294.3 324.2) scale(24.9 24.9)" opacity="0.22"/>
<use href="#b" transform="translate(1277.8 308.2) scale(24 24)" opacity="0.11"/>
<use href="#b" transform="translate(1309.8 339.7) scale(24 24)" opacity="0.11"/>
<use href="#b" transform="translate(1302.3 390.2) scale(19.5 31.5)" opacity="0.05"/>
<use href="#b" transform="translate(1300.3 432.2) scale(33 21)" opacity="0.07"/>
<use href="#b" transform="translate(1302.3 474.2) scale(19.5 31.5)" opacity="0.05"/>
<use href="#b" transform="translate(1342.3 324.2) scale(24.9 24.9)" opacity="0.22"/>
<use href="#b" transform="translate(1325.8 308.2) scale(24 24)" opacity="0.11"/>
<use href="#b" transform="translate(1357.8 339.7) scale(24 24)" opacity="0.11"/>
<use href="#b" transform="translate(1350.3 390.2) scale(19.5 31.5)" opacity="0.05"/>
<use href="#b" transform="translate(1348.3 432.2) scale(33 21)" opacity="0.07"/>
<use href="#b" transform="translate(1350.3 474.2) scale(19.5 31.5)" opacity="0.05"/>
<use href="#b" transform="translate(1390.3 324.2) scale(24.9 24.9)" opacity="0.22"/>
<use href="#b" transform="translate(1373.8 308.2) scale(24 24)" opacity="0.11"/>
<use href="#b" transform="translate(1405.8 339.7) scale(24 24)" opacity="0.11"/>
<use href="#b" transform="translate(1398.3 390.2) scale(19.5 31.5)" opacity="0.05"/>
<use href="#b" transform="translate(1396.3 432.2) scale(33 21)" opacity="0.07"/>
<use href="#b" transform="translate(1398.3 474.2) scale(19.5 31.5)" opacity="0.05"/>
<use href="#b" transform="translate(1438.3 324.2) scale(24.9 24.9)" opacity="0.22"/>
<use href="#b" transform="translate(1421.8 308.2) scale(24 24)" opacity="0.11"/>
<use href="#b" transform="translate(1453.8 339.7) scale(24 24)" opacity="0.11"/>
<use href="#b" transform="translate(1446.3 390.2) scale(19.5 31.5)" opacity="0.05"/>
<use href="#b" transform="translate(1444.3 432.2) scale(33 21)" opacity="0.07"/>
<use href="#b" transform="translate(1446.3 474.2) scale(19.5 31.5)" opacity="0.05"/>
<use href="#b" transform="translate(1486.3 324.2) scale(24.9 24.9)" opacity="0.22"/>
<use href="#b" transform="translate(1469.8 308.2) scale(24 24)" opacity="0.11"/>
<use href="#b" transform="translate(1501.8 339.7) scale(24 24)" opacity="0.11"/>
<use href="#b" transform="translate(1494.3 390.2) scale(19.5 31.5)" opacity="0.05"/>
<use href="#b" transform="translate(1492.3 432.2) scale(33 21)" opacity="0.07"/>
<use href="#b" transform="translate(1494.3 474.2) scale(19.5 31.5)" opacity="0.05"/>
<use href="#b" transform="translate(1534.3 324.2) scale(24.9 24.9)" opacity="0.22"/>
<use href="#b" transform="translate(1517.8 308.2) scale(24 24)" opacity="0.11"/>
<use href="#b" transform="translate(1549.8 339.7) scale(24 24)" opacity="0.11"/>
<use href="#b" transform="translate(1542.3 390.2) scale(19.5 31.5)" opacity="0.05"/>
<use href="#b" transform="translate(1540.3 432.2) scale(33 21)" opacity="0.07"/>
<use href="#b" transform="translate(1542.3 474.2) scale(19.5 31.5)" opacity="0.05"/>
<use href="#b" transform="translate(1582.3 324.2) scale(24.9 24.9)" opacity="0.22"/>
<use href="#b" transform="translate(1565.8 308.2) scale(24 24)" opacity="0.11"/>
<use href="#b" transform="translate(1597.8 339.7) scale(24 24)" opacity="0.11"/>
<use href="#b" transform="translate(1590.3 390.2) scale(19.5 31.5)" opacity="0.05"/>
<use href="#b" transform="translate(1588.3 432.2) scale(33 21)" opacity="0.07"/>
<use href="#b" transform="translate(1590.3 474.2) scale(19.5 31.5)" opacity="0.05"/>
<use href="#b" transform="translate(1630.3 324.2) scale(24.9 24.9)" opacity="0.22"/>
<use href="#b" transform="translate(1613.8 308.2) scale(24 24)" opacity="0.11"/>
<use href="#b" transform="translate(1645.8 339.7) scale(24 24)" opacity="0.11"/>
<use href="#b" transform="translate(1638.3 390.2) scale(19.5 31.5)" opacity="0.05"/>
<use href="#b" transform="translate(1636.3 432.2) scale(33 21)" opacity="0.07"/>
<use href="#b" transform="translate(1638.3 474.2) scale(19.5 31.5)" opacity="0.05"/>
<use href="#b" transform="translate(1678.3 324.2) scale(24.9 24.9)" opacity="0.22"/>
<use href="#b" transform="translate(1661.8 308.2) scale(24 24)" opacity="0.11"/>
<use href="#b" transform="translate(1693.8 339.7) scale(24 24)" opacity="0.11"/>
<use href="#b" transform="translate(1686.3 390.2) scale(19.5 31.5)" opacity="0.05"/>
<use href="#b" transform="translate(1684.3 432.2) scale(33 21)" opacity="0.07"/>
<use href="#b" transform="translate(1686.3 474.2) scale(19.5 31.5)" opacity="0.05"/>
<use href="#b" transform="translate(1726.3 324.2) scale(24.9 24.9)" opacity="0.22"/>
<use href="#b" transform="translate(1709.8 308.2) scale(24 24)" opacity="0.11"/>
<use href="#b" transform="translate(1741.8 339.7) scale(24 24)" opacity="0.11"/>
<use href="#b" transform="translate(1734.3 390.2) scale(19.5 31.5)" opacity="0.05"/>
<use href="#b" transform="translate(1732.3 432.2) scale(33 21)" opacity="0.07"/>
<use href="#b" transform="translate(1734.3 474.2) scale(19.5 31.5)" opacity="0.05"/>
<use href="#b" transform="translate(1757.8 308.2) scale(24 24)" opacity="0.11"/>
<use href="#b" transform="translate(1780.3 432.2) scale(33 21)" opacity="0.07"/>
<use href="#b" transform="translate(1258.2 538) scale(24.9 24.9)" opacity="0.22"/>
<use href="#b" transform="translate(1273.7 553.5) scale(24 24)" opacity="0.11"/>
<use href="#b" transform="translate(1306.2 538) scale(24.9 24.9)" opacity="0.22"/>
<use href="#b" transform="translate(1289.7 522) scale(24 24)" opacity="0.11"/>
<use href="#b" transform="translate(1321.7 553.5) scale(24 24)" opacity="0.11"/>
<use href="#b" transform="translate(1354.2 538) scale(24.9 24.9)" opacity="0.22"/>
<use href="#b" transform="translate(1337.7 522) scale(24 24)" opacity="0.11"/>
<use href="#b" transform="translate(1369.7 553.5) scale(24 24)" opacity="0.11"/>
<use href="#b" transform="translate(1402.2 538) scale(24.9 24.9)" opacity="0.22"/>
<use href="#b" transform="translate(1385.7 522) scale(24 24)" opacity="0.11"/>
<use href="#b" transform="translate(1417.7 553.5) scale(24 24)" opacity="0.11"/>
<use href="#b" transform="translate(1450.2 538) scale(24.9 24.9)" opacity="0.22"/>
<use href="#b" transform="translate(1433.7 522) scale(24 24)" opacity="0.11"/>
<use href="#b" transform="translate(1465.7 553.5) scale(24 24)" opacity="0.11"/>
<use href="#b" transform="translate(1498.2 538) scale(24.9 24.9)" opacity="0.22"/>
<use href="#b" transform="translate(1481.7 522) scale(24 24)" opacity="0.11"/>
<use href="#b" transform="translate(1513.7 553.5) scale(24 24)" opacity="0.11"/>
<use href="#b" transform="translate(1546.2 538) scale(24.9 24.9)" opacity="0.22"/>
<use href="#b" transform="translate(1529.7 522) scale(24 24)" opacity="0.11"/>
<use href="#b" transform="translate(1561.7 553.5) scale(24 24)" opacity="0.11"/>
<use href="#b" transform="translate(1594.2 538) scale(24.9 24.9)" opacity="0.22"/>
<use href="#b" transform="translate(1577.7 522) scale(24 24)" opacity="0.11"/>
<use href="#b" transform="translate(1609.7 553.5) scale(24 24)" opacity="0.11"/>
<use href="#b" transform="translate(1642.2 538) scale(24.9 24.9)" opacity="0.22"/>
<use href="#b" transform="translate(1625.7 522) scale(24 24)" opacity="0.11"/>
<use href="#b" transform="translate(1657.7 553.5) scale(24 24)" opacity="0.11"/>
<use href="#b" transform="translate(1690.2 538) scale(24.9 24.9)" opacity="0.22"/>
<use href="#b" transform="translate(1673.7 522) scale(24 24)" opacity="0.11"/>
<use href="#b" transform="translate(1705.7 553.5) scale(24 24)" opacity="0.11"/>
<use href="#b" transform="translate(1738.2 538) scale(24.9 24.9)" opacity="0.22"/>
<use href="#b" transform="translate(1721.7 522) scale(24 24)" opacity="0.11"/>
<use href="#b" transform="translate(1753.7 553.5) scale(24 24)" opacity="0.11"/>
<use href="#b" transform="translate(1769.7 522) scale(24 24)" opacity="0.11"/>
</g></g>
<g id="inset-c">
<rect x="1575" y="85.7" width="172.7" height="265.3" fill="#fff"/>
<g class="ins" clip-path="url(#cic)">
<polygon points="1568,98.1 1599.8,97.6 1642.1,98.6 1695,98.1 1758.5,99.2 1758.5,133 1695,132.5 1642.1,133 1599.8,132.5 1568,133" fill="#c8c8d0" stroke="#c8c8d0" stroke-width="3" stroke-linejoin="round" opacity=".8"/>
<polygon points="1568,98.1 1599.8,97.6 1642.1,98.6 1695,98.1 1758.5,99.2 1758.5,133 1695,132.5 1642.1,133 1599.8,132.5 1568,133" fill="#080888"/>
<polygon points="1601.9,100.2 1628.3,125.6 1642.1,103.4" fill="#2020c0" opacity="0.38"/>
<polygon points="1695,101.3 1720.4,125.6 1735.2,104.5" fill="#2020c0" opacity="0.38"/>
<polygon points="1568,109.8 1585.5,130.9 1601.9,100.2" fill="#2020c0" opacity="0.38"/>
<polygon points="1642.1,103.4 1679.1,129.9 1695,101.3" fill="#2020c0" opacity="0.38"/>
<line x1="1539.4" y1="128.8" x2="1554.2" y2="102.3" stroke="#e6e6ee" stroke-width="1.5"/>
<line x1="1554.2" y1="102.3" x2="1585.5" y2="130.9" stroke="#e6e6ee" stroke-width="1.5"/>
<line x1="1585.5" y1="130.9" x2="1601.9" y2="100.2" stroke="#e6e6ee" stroke-width="1.5"/>
<line x1="1601.9" y1="100.2" x2="1628.3" y2="125.6" stroke="#e6e6ee" stroke-width="1.5"/>
<line x1="1628.3" y1="125.6" x2="1642.1" y2="103.4" stroke="#e6e6ee" stroke-width="1.5"/>
<line x1="1642.1" y1="103.4" x2="1679.1" y2="129.9" stroke="#e6e6ee" stroke-width="1.5"/>
<line x1="1679.1" y1="129.9" x2="1695" y2="101.3" stroke="#e6e6ee" stroke-width="1.5"/>
<line x1="1695" y1="101.3" x2="1720.4" y2="125.6" stroke="#e6e6ee" stroke-width="1.5"/>
<line x1="1720.4" y1="125.6" x2="1735.2" y2="104.5" stroke="#e6e6ee" stroke-width="1.5"/>
<line x1="1735.2" y1="104.5" x2="1769.1" y2="127.8" stroke="#e6e6ee" stroke-width="1.5"/>
<line x1="1568" y1="100.8" x2="1601.9" y2="100.2" stroke="#e6e6ee" stroke-width="1.5"/>
<line x1="1601.9" y1="100.2" x2="1642.1" y2="103.4" stroke="#e6e6ee" stroke-width="1.5"/>
<line x1="1642.1" y1="103.4" x2="1695" y2="101.3" stroke="#e6e6ee" stroke-width="1.5"/>
<line x1="1695" y1="101.3" x2="1735.2" y2="104.5" stroke="#e6e6ee" stroke-width="1.5"/>
<line x1="1735.2" y1="104.5" x2="1758.5" y2="103.4" stroke="#e6e6ee" stroke-width="1.5"/>
<line x1="1585.5" y1="130.9" x2="1628.3" y2="125.6" stroke="#e6e6ee" stroke-width="1.5"/>
<line x1="1628.3" y1="125.6" x2="1679.1" y2="129.9" stroke="#e6e6ee" stroke-width="1.5"/>
<line x1="1679.1" y1="129.9" x2="1720.4" y2="125.6" stroke="#e6e6ee" stroke-width="1.5"/>
<line x1="1720.4" y1="125.6" x2="1758.5" y2="128.8" stroke="#e6e6ee" stroke-width="1.5"/>
<line x1="1568" y1="124.6" x2="1585.5" y2="130.9" stroke="#e6e6ee" stroke-width="1.5"/>
<circle cx="1580.7" cy="135.2" r="5.3" fill="url(#sR)"/>
<circle cx="1586.5" cy="131.5" r="5.3" fill="url(#sR)"/>
<circle cx="1541.5" cy="132" r="5.3" fill="url(#sR)"/>
<circle cx="1625.7" cy="134.6" r="5.3" fill="url(#sR)"/>
<circle cx="1634.2" cy="132.5" r="5.3" fill="url(#sR)"/>
<circle cx="1627.8" cy="125.6" r="5.3" fill="url(#sR)"/>
<circle cx="1673.9" cy="135.2" r="5.3" fill="url(#sR)"/>
<circle cx="1679.1" cy="132" r="5.3" fill="url(#sR)"/>
<circle cx="1719.4" cy="135.7" r="5.3" fill="url(#sR)"/>
<circle cx="1726.8" cy="133" r="5.3" fill="url(#sR)"/>
<circle cx="1721" cy="127.8" r="5.3" fill="url(#sR)"/>
<circle cx="1595" cy="94.9" r="5.3" fill="url(#sR)"/>
<circle cx="1602.9" cy="98.6" r="5.3" fill="url(#sR)"/>
<circle cx="1642.1" cy="93.9" r="5.3" fill="url(#sR)"/>
<circle cx="1650" cy="95.5" r="5.3" fill="url(#sR)"/>
<circle cx="1643.2" cy="102.9" r="5.3" fill="url(#sR)"/>
<circle cx="1689.2" cy="93.9" r="5.3" fill="url(#sR)"/>
<circle cx="1696.6" cy="98.6" r="5.3" fill="url(#sR)"/>
<circle cx="1736.3" cy="94.9" r="5.3" fill="url(#sR)"/>
<circle cx="1743.2" cy="96" r="5.3" fill="url(#sR)"/>
<circle cx="1736.8" cy="103.9" r="5.3" fill="url(#sR)"/>
<polygon points="1568,307.1 1599.8,306.6 1642.1,307.6 1695,306.6 1758.5,307.6 1758.5,342 1695,341.5 1642.1,342 1599.8,341.5 1568,342" fill="#c8c8d0" stroke="#c8c8d0" stroke-width="3" stroke-linejoin="round" opacity=".8"/>
<polygon points="1568,307.1 1599.8,306.6 1642.1,307.6 1695,306.6 1758.5,307.6 1758.5,342 1695,341.5 1642.1,342 1599.8,341.5 1568,342" fill="#080888"/>
<polygon points="1608.8,312.9 1644.2,339.4 1659,309.8" fill="#2020c0" opacity="0.38"/>
<polygon points="1701.9,312.9 1737.9,339.4 1748,310.8" fill="#2020c0" opacity="0.38"/>
<polygon points="1568,315 1592.9,334.1 1608.8,312.9" fill="#2020c0" opacity="0.38"/>
<polygon points="1659,309.8 1686.6,334.1 1701.9,312.9" fill="#2020c0" opacity="0.38"/>
<line x1="1546.8" y1="339.4" x2="1561.6" y2="309.8" stroke="#e6e6ee" stroke-width="1.5"/>
<line x1="1561.6" y1="309.8" x2="1592.9" y2="334.1" stroke="#e6e6ee" stroke-width="1.5"/>
<line x1="1592.9" y1="334.1" x2="1608.8" y2="312.9" stroke="#e6e6ee" stroke-width="1.5"/>
<line x1="1608.8" y1="312.9" x2="1644.2" y2="339.4" stroke="#e6e6ee" stroke-width="1.5"/>
<line x1="1644.2" y1="339.4" x2="1659" y2="309.8" stroke="#e6e6ee" stroke-width="1.5"/>
<line x1="1659" y1="309.8" x2="1686.6" y2="334.1" stroke="#e6e6ee" stroke-width="1.5"/>
<line x1="1686.6" y1="334.1" x2="1701.9" y2="312.9" stroke="#e6e6ee" stroke-width="1.5"/>
<line x1="1701.9" y1="312.9" x2="1737.9" y2="339.4" stroke="#e6e6ee" stroke-width="1.5"/>
<line x1="1737.9" y1="339.4" x2="1748" y2="310.8" stroke="#e6e6ee" stroke-width="1.5"/>
<line x1="1748" y1="310.8" x2="1769.1" y2="334.1" stroke="#e6e6ee" stroke-width="1.5"/>
<line x1="1568" y1="309.8" x2="1608.8" y2="312.9" stroke="#e6e6ee" stroke-width="1.5"/>
<line x1="1608.8" y1="312.9" x2="1659" y2="309.8" stroke="#e6e6ee" stroke-width="1.5"/>
<line x1="1659" y1="309.8" x2="1701.9" y2="312.9" stroke="#e6e6ee" stroke-width="1.5"/>
<line x1="1701.9" y1="312.9" x2="1748" y2="310.8" stroke="#e6e6ee" stroke-width="1.5"/>
<line x1="1568" y1="338.3" x2="1592.9" y2="334.1" stroke="#e6e6ee" stroke-width="1.5"/>
<line x1="1592.9" y1="334.1" x2="1644.2" y2="339.4" stroke="#e6e6ee" stroke-width="1.5"/>
<line x1="1644.2" y1="339.4" x2="1686.6" y2="334.1" stroke="#e6e6ee" stroke-width="1.5"/>
<line x1="1686.6" y1="334.1" x2="1737.9" y2="339.4" stroke="#e6e6ee" stroke-width="1.5"/>
<line x1="1737.9" y1="339.4" x2="1758.5" y2="337.3" stroke="#e6e6ee" stroke-width="1.5"/>
<circle cx="1596.1" cy="343.6" r="5.3" fill="url(#sR)"/>
<circle cx="1593.4" cy="342" r="5.3" fill="url(#sR)"/>
<circle cx="1592.9" cy="335.4" r="5.3" fill="url(#sR)"/>
<circle cx="1640" cy="344.7" r="5.3" fill="url(#sR)"/>
<circle cx="1644.2" cy="340.1" r="5.3" fill="url(#sR)"/>
<circle cx="1690.8" cy="343.6" r="5.3" fill="url(#sR)"/>
<circle cx="1687.1" cy="342" r="5.3" fill="url(#sR)"/>
<circle cx="1686.6" cy="335.4" r="5.3" fill="url(#sR)"/>
<circle cx="1733.1" cy="344.7" r="5.3" fill="url(#sR)"/>
<circle cx="1737.9" cy="340.7" r="5.3" fill="url(#sR)"/>
<circle cx="1608.2" cy="303.4" r="5.3" fill="url(#sR)"/>
<circle cx="1614" cy="305.7" r="5.3" fill="url(#sR)"/>
<circle cx="1608.8" cy="312.4" r="5.3" fill="url(#sR)"/>
<circle cx="1654.8" cy="303.4" r="5.3" fill="url(#sR)"/>
<circle cx="1655.9" cy="311.9" r="5.3" fill="url(#sR)"/>
<circle cx="1661.2" cy="307.3" r="5.3" fill="url(#sR)"/>
<circle cx="1701.4" cy="303.4" r="5.3" fill="url(#sR)"/>
<circle cx="1707.7" cy="305.7" r="5.3" fill="url(#sR)"/>
<circle cx="1701.9" cy="312.4" r="5.3" fill="url(#sR)"/>
<circle cx="1746.9" cy="304.5" r="5.3" fill="url(#sR)"/>
<circle cx="1561.6" cy="304.5" r="5.3" fill="url(#sR)"/>
<circle cx="1581.8" cy="163.8" r="14.3" fill="url(#sS)"/>
<circle cx="1580.7" cy="172.8" r="14.3" fill="url(#sS)"/>
<circle cx="1621.5" cy="178.1" r="14.3" fill="url(#sS)"/>
<circle cx="1621.5" cy="189.4" r="5.5" fill="url(#sR)"/>
<circle cx="1624.1" cy="169.1" r="14.3" fill="url(#sS)"/>
<circle cx="1665.4" cy="192.1" r="5.5" fill="url(#sR)"/>
<circle cx="1662.2" cy="167.5" r="14.3" fill="url(#sS)"/>
<circle cx="1671.7" cy="177.3" r="14.3" fill="url(#sS)"/>
<circle cx="1718.3" cy="178.1" r="14.3" fill="url(#sS)"/>
<circle cx="1714.6" cy="169.1" r="14.3" fill="url(#sS)"/>
<circle cx="1713" cy="189.2" r="5.5" fill="url(#sR)"/>
<circle cx="1581.8" cy="219.3" r="10" fill="url(#sN)"/>
<circle cx="1612.5" cy="218.8" r="5.6" fill="url(#sR)"/>
<circle cx="1615.4" cy="220.1" r="5.6" fill="url(#sR)"/>
<circle cx="1628.3" cy="219.3" r="10" fill="url(#sN)"/>
<circle cx="1673.3" cy="219.3" r="10" fill="url(#sN)"/>
<circle cx="1661.2" cy="219.3" r="5.8" fill="url(#sR)"/>
<circle cx="1704.6" cy="218.8" r="5.6" fill="url(#sR)"/>
<circle cx="1706.9" cy="219.5" r="5.4" fill="url(#sR)"/>
<circle cx="1719.9" cy="219.3" r="10" fill="url(#sN)"/>
<circle cx="1748" cy="219.3" r="4" fill="url(#sR)"/>
<circle cx="1575.4" cy="245.8" r="5" fill="url(#sR)"/>
<circle cx="1583.9" cy="249" r="4.5" fill="url(#sR)"/>
<circle cx="1581.8" cy="270.7" r="14.3" fill="url(#sS)"/>
<circle cx="1580.7" cy="258" r="14.3" fill="url(#sS)"/>
<circle cx="1622" cy="261.1" r="14.3" fill="url(#sS)"/>
<circle cx="1624.1" cy="271.7" r="14.3" fill="url(#sS)"/>
<circle cx="1620.9" cy="249.2" r="5.5" fill="url(#sR)"/>
<circle cx="1664.9" cy="246.5" r="5.5" fill="url(#sR)"/>
<circle cx="1662.7" cy="272.8" r="14.3" fill="url(#sS)"/>
<circle cx="1671.2" cy="260.1" r="14.3" fill="url(#sS)"/>
<circle cx="1724.7" cy="250" r="4.5" fill="url(#sR)"/>
<circle cx="1717.3" cy="260.1" r="14.3" fill="url(#sS)"/>
<circle cx="1715.1" cy="270.7" r="14.3" fill="url(#sS)"/>
<circle cx="1712.8" cy="249.7" r="5.5" fill="url(#sR)"/>
</g>
</g>
<rect x="1267.4" y="85.7" width="480.3" height="482.7" fill="none" stroke="#000" stroke-width="2.2"/>
<text class="t" x="1268.2" y="600.8" text-anchor="middle">0</text>
<text class="t" x="1257" y="577.9" text-anchor="end">0</text>
<text class="t" x="1362.4" y="600.8" text-anchor="middle">5</text>
<text class="t" x="1257" y="481.86" text-anchor="end">5</text>
<text class="t" x="1463.6" y="600.8" text-anchor="middle">10</text>
<text class="t" x="1257" y="385.82" text-anchor="end">10</text>
<text class="t" x="1558.3" y="600.8" text-anchor="middle">15</text>
<text class="t" x="1257" y="289.78" text-anchor="end">15</text>
<text class="t" x="1654.2" y="600.8" text-anchor="middle">20</text>
<text class="t" x="1257" y="193.74" text-anchor="end">20</text>
<text class="t" x="1747.6" y="600.8" text-anchor="middle">25</text>
<text class="t" x="1257" y="97.7" text-anchor="end">25</text>
<text class="ax" x="1388.6" y="642.6"><tspan font-style="italic">X</tspan><tspan dx="1.2"> coordinate (Å)</tspan></text>
<text class="pl" x="1198" y="39.5">c</text>
</g>
<g id="panel-d">
<g clip-path="url(#cpd)"><g class="h" filter="url(#hot)">
<rect x="104.7" y="753.4" width="480" height="479.3" fill="#000"/>
<use href="#b" transform="translate(105.5 739.8) scale(21.6 22.2)" opacity="0.33"/>
<use href="#b" transform="translate(133.7 739.8) scale(21.6 22.2)" opacity="0.33"/>
<use href="#b" transform="translate(161.9 739.8) scale(21.6 22.2)" opacity="0.33"/>
<use href="#b" transform="translate(190.1 739.8) scale(21.6 22.2)" opacity="0.33"/>
<use href="#b" transform="translate(218.3 739.8) scale(21.6 22.2)" opacity="0.33"/>
<use href="#b" transform="translate(246.5 739.8) scale(21.6 22.2)" opacity="0.33"/>
<use href="#b" transform="translate(274.7 739.8) scale(21.6 22.2)" opacity="0.33"/>
<use href="#b" transform="translate(302.9 739.8) scale(21.6 22.2)" opacity="0.33"/>
<use href="#b" transform="translate(331.1 739.8) scale(21.6 22.2)" opacity="0.33"/>
<use href="#b" transform="translate(359.3 739.8) scale(21.6 22.2)" opacity="0.33"/>
<use href="#b" transform="translate(387.5 739.8) scale(21.6 22.2)" opacity="0.33"/>
<use href="#b" transform="translate(415.7 739.8) scale(21.6 22.2)" opacity="0.33"/>
<use href="#b" transform="translate(443.9 739.8) scale(21.6 22.2)" opacity="0.33"/>
<use href="#b" transform="translate(472.1 739.8) scale(21.6 22.2)" opacity="0.33"/>
<use href="#b" transform="translate(500.3 739.8) scale(21.6 22.2)" opacity="0.33"/>
<use href="#b" transform="translate(528.5 739.8) scale(21.6 22.2)" opacity="0.33"/>
<use href="#b" transform="translate(556.7 739.8) scale(21.6 22.2)" opacity="0.33"/>
<use href="#b" transform="translate(584.9 739.8) scale(21.6 22.2)" opacity="0.33"/>
<use href="#b" transform="translate(105.5 790) scale(23.7 22.2)" opacity="0.9"/>
<use href="#b" transform="translate(105.5 774) scale(23.1 21.6)" opacity="0.43"/>
<use href="#b" transform="translate(105.5 805.5) scale(23.1 21.6)" opacity="0.43"/>
<use href="#b" transform="translate(105.5 840.3) scale(21.6 22.2)" opacity="0.33"/>
<use href="#b" transform="translate(133.7 790) scale(23.7 22.2)" opacity="0.9"/>
<use href="#b" transform="translate(133.7 774) scale(23.1 21.6)" opacity="0.43"/>
<use href="#b" transform="translate(133.7 805.5) scale(23.1 21.6)" opacity="0.43"/>
<use href="#b" transform="translate(133.7 840.3) scale(21.6 22.2)" opacity="0.33"/>
<use href="#b" transform="translate(161.9 790) scale(23.7 22.2)" opacity="0.9"/>
<use href="#b" transform="translate(161.9 774) scale(23.1 21.6)" opacity="0.43"/>
<use href="#b" transform="translate(161.9 805.5) scale(23.1 21.6)" opacity="0.43"/>
<use href="#b" transform="translate(161.9 840.3) scale(21.6 22.2)" opacity="0.33"/>
<use href="#b" transform="translate(190.1 790) scale(23.7 22.2)" opacity="0.9"/>
<use href="#b" transform="translate(190.1 774) scale(23.1 21.6)" opacity="0.43"/>
<use href="#b" transform="translate(190.1 805.5) scale(23.1 21.6)" opacity="0.43"/>
<use href="#b" transform="translate(190.1 840.3) scale(21.6 22.2)" opacity="0.33"/>
<use href="#b" transform="translate(218.3 790) scale(23.7 22.2)" opacity="0.9"/>
<use href="#b" transform="translate(218.3 774) scale(23.1 21.6)" opacity="0.43"/>
<use href="#b" transform="translate(218.3 805.5) scale(23.1 21.6)" opacity="0.43"/>
<use href="#b" transform="translate(218.3 840.3) scale(21.6 22.2)" opacity="0.33"/>
<use href="#b" transform="translate(246.5 790) scale(23.7 22.2)" opacity="0.9"/>
<use href="#b" transform="translate(246.5 774) scale(23.1 21.6)" opacity="0.43"/>
<use href="#b" transform="translate(246.5 805.5) scale(23.1 21.6)" opacity="0.43"/>
<use href="#b" transform="translate(246.5 840.3) scale(21.6 22.2)" opacity="0.33"/>
<use href="#b" transform="translate(274.7 790) scale(23.7 22.2)" opacity="0.9"/>
<use href="#b" transform="translate(274.7 774) scale(23.1 21.6)" opacity="0.43"/>
<use href="#b" transform="translate(274.7 805.5) scale(23.1 21.6)" opacity="0.43"/>
<use href="#b" transform="translate(274.7 840.3) scale(21.6 22.2)" opacity="0.33"/>
<use href="#b" transform="translate(302.9 790) scale(23.7 22.2)" opacity="0.9"/>
<use href="#b" transform="translate(302.9 774) scale(23.1 21.6)" opacity="0.43"/>
<use href="#b" transform="translate(302.9 805.5) scale(23.1 21.6)" opacity="0.43"/>
<use href="#b" transform="translate(302.9 840.3) scale(21.6 22.2)" opacity="0.33"/>
<use href="#b" transform="translate(331.1 790) scale(23.7 22.2)" opacity="0.9"/>
<use href="#b" transform="translate(331.1 774) scale(23.1 21.6)" opacity="0.43"/>
<use href="#b" transform="translate(331.1 805.5) scale(23.1 21.6)" opacity="0.43"/>
<use href="#b" transform="translate(331.1 840.3) scale(21.6 22.2)" opacity="0.33"/>
<use href="#b" transform="translate(359.3 790) scale(23.7 22.2)" opacity="0.9"/>
<use href="#b" transform="translate(359.3 774) scale(23.1 21.6)" opacity="0.43"/>
<use href="#b" transform="translate(359.3 805.5) scale(23.1 21.6)" opacity="0.43"/>
<use href="#b" transform="translate(359.3 840.3) scale(21.6 22.2)" opacity="0.33"/>
<use href="#b" transform="translate(387.5 790) scale(23.7 22.2)" opacity="0.9"/>
<use href="#b" transform="translate(387.5 774) scale(23.1 21.6)" opacity="0.43"/>
<use href="#b" transform="translate(387.5 805.5) scale(23.1 21.6)" opacity="0.43"/>
<use href="#b" transform="translate(387.5 840.3) scale(21.6 22.2)" opacity="0.33"/>
<use href="#b" transform="translate(415.7 790) scale(23.7 22.2)" opacity="0.9"/>
<use href="#b" transform="translate(415.7 774) scale(23.1 21.6)" opacity="0.43"/>
<use href="#b" transform="translate(415.7 805.5) scale(23.1 21.6)" opacity="0.43"/>
<use href="#b" transform="translate(415.7 840.3) scale(21.6 22.2)" opacity="0.33"/>
<use href="#b" transform="translate(443.9 790) scale(23.7 22.2)" opacity="0.9"/>
<use href="#b" transform="translate(443.9 774) scale(23.1 21.6)" opacity="0.43"/>
<use href="#b" transform="translate(443.9 805.5) scale(23.1 21.6)" opacity="0.43"/>
<use href="#b" transform="translate(443.9 840.3) scale(21.6 22.2)" opacity="0.33"/>
<use href="#b" transform="translate(472.1 790) scale(23.7 22.2)" opacity="0.9"/>
<use href="#b" transform="translate(472.1 774) scale(23.1 21.6)" opacity="0.43"/>
<use href="#b" transform="translate(472.1 805.5) scale(23.1 21.6)" opacity="0.43"/>
<use href="#b" transform="translate(472.1 840.3) scale(21.6 22.2)" opacity="0.33"/>
<use href="#b" transform="translate(500.3 790) scale(23.7 22.2)" opacity="0.9"/>
<use href="#b" transform="translate(500.3 774) scale(23.1 21.6)" opacity="0.43"/>
<use href="#b" transform="translate(500.3 805.5) scale(23.1 21.6)" opacity="0.43"/>
<use href="#b" transform="translate(500.3 840.3) scale(21.6 22.2)" opacity="0.33"/>
<use href="#b" transform="translate(528.5 790) scale(23.7 22.2)" opacity="0.9"/>
<use href="#b" transform="translate(528.5 774) scale(23.1 21.6)" opacity="0.43"/>
<use href="#b" transform="translate(528.5 805.5) scale(23.1 21.6)" opacity="0.43"/>
<use href="#b" transform="translate(528.5 840.3) scale(21.6 22.2)" opacity="0.33"/>
<use href="#b" transform="translate(556.7 790) scale(23.7 22.2)" opacity="0.9"/>
<use href="#b" transform="translate(556.7 774) scale(23.1 21.6)" opacity="0.43"/>
<use href="#b" transform="translate(556.7 805.5) scale(23.1 21.6)" opacity="0.43"/>
<use href="#b" transform="translate(556.7 840.3) scale(21.6 22.2)" opacity="0.33"/>
<use href="#b" transform="translate(584.9 790) scale(23.7 22.2)" opacity="0.9"/>
<use href="#b" transform="translate(584.9 774) scale(23.1 21.6)" opacity="0.43"/>
<use href="#b" transform="translate(584.9 805.5) scale(23.1 21.6)" opacity="0.43"/>
<use href="#b" transform="translate(584.9 840.3) scale(21.6 22.2)" opacity="0.33"/>
<use href="#b" transform="translate(105.5 890.5) scale(23.7 22.2)" opacity="0.9"/>
<use href="#b" transform="translate(105.5 874.5) scale(23.1 21.6)" opacity="0.43"/>
<use href="#b" transform="translate(105.5 906) scale(23.1 21.6)" opacity="0.43"/>
<use href="#b" transform="translate(105.5 940.8) scale(21.6 22.2)" opacity="0.33"/>
<use href="#b" transform="translate(133.7 890.5) scale(23.7 22.2)" opacity="0.9"/>
<use href="#b" transform="translate(133.7 874.5) scale(23.1 21.6)" opacity="0.43"/>
<use href="#b" transform="translate(133.7 906) scale(23.1 21.6)" opacity="0.43"/>
<use href="#b" transform="translate(133.7 940.8) scale(21.6 22.2)" opacity="0.33"/>
<use href="#b" transform="translate(161.9 890.5) scale(23.7 22.2)" opacity="0.9"/>
<use href="#b" transform="translate(161.9 874.5) scale(23.1 21.6)" opacity="0.43"/>
<use href="#b" transform="translate(161.9 906) scale(23.1 21.6)" opacity="0.43"/>
<use href="#b" transform="translate(161.9 940.8) scale(21.6 22.2)" opacity="0.33"/>
<use href="#b" transform="translate(190.1 890.5) scale(23.7 22.2)" opacity="0.9"/>
<use href="#b" transform="translate(190.1 874.5) scale(23.1 21.6)" opacity="0.43"/>
<use href="#b" transform="translate(190.1 906) scale(23.1 21.6)" opacity="0.43"/>
<use href="#b" transform="translate(190.1 940.8) scale(21.6 22.2)" opacity="0.33"/>
<use href="#b" transform="translate(218.3 890.5) scale(23.7 22.2)" opacity="0.9"/>
<use href="#b" transform="translate(218.3 874.5) scale(23.1 21.6)" opacity="0.43"/>
<use href="#b" transform="translate(218.3 906) scale(23.1 21.6)" opacity="0.43"/>
<use href="#b" transform="translate(218.3 940.8) scale(21.6 22.2)" opacity="0.33"/>
<use href="#b" transform="translate(246.5 890.5) scale(23.7 22.2)" opacity="0.9"/>
<use href="#b" transform="translate(246.5 874.5) scale(23.1 21.6)" opacity="0.43"/>
<use href="#b" transform="translate(246.5 906) scale(23.1 21.6)" opacity="0.43"/>
<use href="#b" transform="translate(246.5 940.8) scale(21.6 22.2)" opacity="0.33"/>
<use href="#b" transform="translate(274.7 890.5) scale(23.7 22.2)" opacity="0.9"/>
<use href="#b" transform="translate(274.7 874.5) scale(23.1 21.6)" opacity="0.43"/>
<use href="#b" transform="translate(274.7 906) scale(23.1 21.6)" opacity="0.43"/>
<use href="#b" transform="translate(274.7 940.8) scale(21.6 22.2)" opacity="0.33"/>
<use href="#b" transform="translate(302.9 890.5) scale(23.7 22.2)" opacity="0.9"/>
<use href="#b" transform="translate(302.9 874.5) scale(23.1 21.6)" opacity="0.43"/>
<use href="#b" transform="translate(302.9 906) scale(23.1 21.6)" opacity="0.43"/>
<use href="#b" transform="translate(302.9 940.8) scale(21.6 22.2)" opacity="0.33"/>
<use href="#b" transform="translate(331.1 890.5) scale(23.7 22.2)" opacity="0.9"/>
<use href="#b" transform="translate(331.1 874.5) scale(23.1 21.6)" opacity="0.43"/>
<use href="#b" transform="translate(331.1 906) scale(23.1 21.6)" opacity="0.43"/>
<use href="#b" transform="translate(331.1 940.8) scale(21.6 22.2)" opacity="0.33"/>
<use href="#b" transform="translate(359.3 890.5) scale(23.7 22.2)" opacity="0.9"/>
<use href="#b" transform="translate(359.3 874.5) scale(23.1 21.6)" opacity="0.43"/>
<use href="#b" transform="translate(359.3 906) scale(23.1 21.6)" opacity="0.43"/>
<use href="#b" transform="translate(359.3 940.8) scale(21.6 22.2)" opacity="0.33"/>
<use href="#b" transform="translate(387.5 890.5) scale(23.7 22.2)" opacity="0.9"/>
<use href="#b" transform="translate(387.5 874.5) scale(23.1 21.6)" opacity="0.43"/>
<use href="#b" transform="translate(387.5 906) scale(23.1 21.6)" opacity="0.43"/>
<use href="#b" transform="translate(387.5 940.8) scale(21.6 22.2)" opacity="0.33"/>
<use href="#b" transform="translate(415.7 890.5) scale(23.7 22.2)" opacity="0.9"/>
<use href="#b" transform="translate(415.7 874.5) scale(23.1 21.6)" opacity="0.43"/>
<use href="#b" transform="translate(415.7 906) scale(23.1 21.6)" opacity="0.43"/>
<use href="#b" transform="translate(415.7 940.8) scale(21.6 22.2)" opacity="0.33"/>
<use href="#b" transform="translate(443.9 890.5) scale(23.7 22.2)" opacity="0.9"/>
<use href="#b" transform="translate(443.9 874.5) scale(23.1 21.6)" opacity="0.43"/>
<use href="#b" transform="translate(443.9 906) scale(23.1 21.6)" opacity="0.43"/>
<use href="#b" transform="translate(443.9 940.8) scale(21.6 22.2)" opacity="0.33"/>
<use href="#b" transform="translate(472.1 890.5) scale(23.7 22.2)" opacity="0.9"/>
<use href="#b" transform="translate(472.1 874.5) scale(23.1 21.6)" opacity="0.43"/>
<use href="#b" transform="translate(472.1 906) scale(23.1 21.6)" opacity="0.43"/>
<use href="#b" transform="translate(472.1 940.8) scale(21.6 22.2)" opacity="0.33"/>
<use href="#b" transform="translate(500.3 890.5) scale(23.7 22.2)" opacity="0.9"/>
<use href="#b" transform="translate(500.3 874.5) scale(23.1 21.6)" opacity="0.43"/>
<use href="#b" transform="translate(500.3 906) scale(23.1 21.6)" opacity="0.43"/>
<use href="#b" transform="translate(500.3 940.8) scale(21.6 22.2)" opacity="0.33"/>
<use href="#b" transform="translate(528.5 890.5) scale(23.7 22.2)" opacity="0.9"/>
<use href="#b" transform="translate(528.5 874.5) scale(23.1 21.6)" opacity="0.43"/>
<use href="#b" transform="translate(528.5 906) scale(23.1 21.6)" opacity="0.43"/>
<use href="#b" transform="translate(528.5 940.8) scale(21.6 22.2)" opacity="0.33"/>
<use href="#b" transform="translate(556.7 890.5) scale(23.7 22.2)" opacity="0.9"/>
<use href="#b" transform="translate(556.7 874.5) scale(23.1 21.6)" opacity="0.43"/>
<use href="#b" transform="translate(556.7 906) scale(23.1 21.6)" opacity="0.43"/>
<use href="#b" transform="translate(556.7 940.8) scale(21.6 22.2)" opacity="0.33"/>
<use href="#b" transform="translate(584.9 890.5) scale(23.7 22.2)" opacity="0.9"/>
<use href="#b" transform="translate(584.9 874.5) scale(23.1 21.6)" opacity="0.43"/>
<use href="#b" transform="translate(584.9 906) scale(23.1 21.6)" opacity="0.43"/>
<use href="#b" transform="translate(584.9 940.8) scale(21.6 22.2)" opacity="0.33"/>
<use href="#b" transform="translate(105.5 991) scale(23.7 22.2)" opacity="0.9"/>
<use href="#b" transform="translate(105.5 975) scale(23.1 21.6)" opacity="0.43"/>
<use href="#b" transform="translate(105.5 1006.5) scale(23.1 21.6)" opacity="0.43"/>
<use href="#b" transform="translate(105.5 1041.3) scale(21.6 22.2)" opacity="0.33"/>
<use href="#b" transform="translate(133.7 991) scale(23.7 22.2)" opacity="0.9"/>
<use href="#b" transform="translate(133.7 975) scale(23.1 21.6)" opacity="0.43"/>
<use href="#b" transform="translate(133.7 1006.5) scale(23.1 21.6)" opacity="0.43"/>
<use href="#b" transform="translate(133.7 1041.3) scale(21.6 22.2)" opacity="0.33"/>
<use href="#b" transform="translate(161.9 991) scale(23.7 22.2)" opacity="0.9"/>
<use href="#b" transform="translate(161.9 975) scale(23.1 21.6)" opacity="0.43"/>
<use href="#b" transform="translate(161.9 1006.5) scale(23.1 21.6)" opacity="0.43"/>
<use href="#b" transform="translate(161.9 1041.3) scale(21.6 22.2)" opacity="0.33"/>
<use href="#b" transform="translate(190.1 991) scale(23.7 22.2)" opacity="0.9"/>
<use href="#b" transform="translate(190.1 975) scale(23.1 21.6)" opacity="0.43"/>
<use href="#b" transform="translate(190.1 1006.5) scale(23.1 21.6)" opacity="0.43"/>
<use href="#b" transform="translate(190.1 1041.3) scale(21.6 22.2)" opacity="0.33"/>
<use href="#b" transform="translate(218.3 991) scale(23.7 22.2)" opacity="0.9"/>
<use href="#b" transform="translate(218.3 975) scale(23.1 21.6)" opacity="0.43"/>
<use href="#b" transform="translate(218.3 1006.5) scale(23.1 21.6)" opacity="0.43"/>
<use href="#b" transform="translate(218.3 1041.3) scale(21.6 22.2)" opacity="0.33"/>
<use href="#b" transform="translate(246.5 991) scale(23.7 22.2)" opacity="0.9"/>
<use href="#b" transform="translate(246.5 975) scale(23.1 21.6)" opacity="0.43"/>
<use href="#b" transform="translate(246.5 1006.5) scale(23.1 21.6)" opacity="0.43"/>
<use href="#b" transform="translate(246.5 1041.3) scale(21.6 22.2)" opacity="0.33"/>
<use href="#b" transform="translate(274.7 991) scale(23.7 22.2)" opacity="0.9"/>
<use href="#b" transform="translate(274.7 975) scale(23.1 21.6)" opacity="0.43"/>
<use href="#b" transform="translate(274.7 1006.5) scale(23.1 21.6)" opacity="0.43"/>
<use href="#b" transform="translate(274.7 1041.3) scale(21.6 22.2)" opacity="0.33"/>
<use href="#b" transform="translate(302.9 991) scale(23.7 22.2)" opacity="0.9"/>
<use href="#b" transform="translate(302.9 975) scale(23.1 21.6)" opacity="0.43"/>
<use href="#b" transform="translate(302.9 1006.5) scale(23.1 21.6)" opacity="0.43"/>
<use href="#b" transform="translate(302.9 1041.3) scale(21.6 22.2)" opacity="0.33"/>
<use href="#b" transform="translate(331.1 991) scale(23.7 22.2)" opacity="0.9"/>
<use href="#b" transform="translate(331.1 975) scale(23.1 21.6)" opacity="0.43"/>
<use href="#b" transform="translate(331.1 1006.5) scale(23.1 21.6)" opacity="0.43"/>
<use href="#b" transform="translate(331.1 1041.3) scale(21.6 22.2)" opacity="0.33"/>
<use href="#b" transform="translate(359.3 991) scale(23.7 22.2)" opacity="0.9"/>
<use href="#b" transform="translate(359.3 975) scale(23.1 21.6)" opacity="0.43"/>
<use href="#b" transform="translate(359.3 1006.5) scale(23.1 21.6)" opacity="0.43"/>
<use href="#b" transform="translate(359.3 1041.3) scale(21.6 22.2)" opacity="0.33"/>
<use href="#b" transform="translate(387.5 991) scale(23.7 22.2)" opacity="0.9"/>
<use href="#b" transform="translate(387.5 975) scale(23.1 21.6)" opacity="0.43"/>
<use href="#b" transform="translate(387.5 1006.5) scale(23.1 21.6)" opacity="0.43"/>
<use href="#b" transform="translate(387.5 1041.3) scale(21.6 22.2)" opacity="0.33"/>
<use href="#b" transform="translate(415.7 991) scale(23.7 22.2)" opacity="0.9"/>
<use href="#b" transform="translate(415.7 975) scale(23.1 21.6)" opacity="0.43"/>
<use href="#b" transform="translate(415.7 1006.5) scale(23.1 21.6)" opacity="0.43"/>
<use href="#b" transform="translate(415.7 1041.3) scale(21.6 22.2)" opacity="0.33"/>
<use href="#b" transform="translate(443.9 991) scale(23.7 22.2)" opacity="0.9"/>
<use href="#b" transform="translate(443.9 975) scale(23.1 21.6)" opacity="0.43"/>
<use href="#b" transform="translate(443.9 1006.5) scale(23.1 21.6)" opacity="0.43"/>
<use href="#b" transform="translate(443.9 1041.3) scale(21.6 22.2)" opacity="0.33"/>
<use href="#b" transform="translate(472.1 991) scale(23.7 22.2)" opacity="0.9"/>
<use href="#b" transform="translate(472.1 975) scale(23.1 21.6)" opacity="0.43"/>
<use href="#b" transform="translate(472.1 1006.5) scale(23.1 21.6)" opacity="0.43"/>
<use href="#b" transform="translate(472.1 1041.3) scale(21.6 22.2)" opacity="0.33"/>
<use href="#b" transform="translate(500.3 991) scale(23.7 22.2)" opacity="0.9"/>
<use href="#b" transform="translate(500.3 975) scale(23.1 21.6)" opacity="0.43"/>
<use href="#b" transform="translate(500.3 1006.5) scale(23.1 21.6)" opacity="0.43"/>
<use href="#b" transform="translate(500.3 1041.3) scale(21.6 22.2)" opacity="0.33"/>
<use href="#b" transform="translate(528.5 991) scale(23.7 22.2)" opacity="0.9"/>
<use href="#b" transform="translate(528.5 975) scale(23.1 21.6)" opacity="0.43"/>
<use href="#b" transform="translate(528.5 1006.5) scale(23.1 21.6)" opacity="0.43"/>
<use href="#b" transform="translate(528.5 1041.3) scale(21.6 22.2)" opacity="0.33"/>
<use href="#b" transform="translate(556.7 991) scale(23.7 22.2)" opacity="0.9"/>
<use href="#b" transform="translate(556.7 975) scale(23.1 21.6)" opacity="0.43"/>
<use href="#b" transform="translate(556.7 1006.5) scale(23.1 21.6)" opacity="0.43"/>
<use href="#b" transform="translate(556.7 1041.3) scale(21.6 22.2)" opacity="0.33"/>
<use href="#b" transform="translate(584.9 991) scale(23.7 22.2)" opacity="0.9"/>
<use href="#b" transform="translate(584.9 975) scale(23.1 21.6)" opacity="0.43"/>
<use href="#b" transform="translate(584.9 1006.5) scale(23.1 21.6)" opacity="0.43"/>
<use href="#b" transform="translate(584.9 1041.3) scale(21.6 22.2)" opacity="0.33"/>
<use href="#b" transform="translate(105.5 1091.5) scale(23.7 22.2)" opacity="0.9"/>
<use href="#b" transform="translate(105.5 1075.5) scale(23.1 21.6)" opacity="0.43"/>
<use href="#b" transform="translate(105.5 1107) scale(23.1 21.6)" opacity="0.43"/>
<use href="#b" transform="translate(105.5 1141.8) scale(21.6 22.2)" opacity="0.33"/>
<use href="#b" transform="translate(133.7 1091.5) scale(23.7 22.2)" opacity="0.9"/>
<use href="#b" transform="translate(133.7 1075.5) scale(23.1 21.6)" opacity="0.43"/>
<use href="#b" transform="translate(133.7 1107) scale(23.1 21.6)" opacity="0.43"/>
<use href="#b" transform="translate(133.7 1141.8) scale(21.6 22.2)" opacity="0.33"/>
<use href="#b" transform="translate(161.9 1091.5) scale(23.7 22.2)" opacity="0.9"/>
<use href="#b" transform="translate(161.9 1075.5) scale(23.1 21.6)" opacity="0.43"/>
<use href="#b" transform="translate(161.9 1107) scale(23.1 21.6)" opacity="0.43"/>
<use href="#b" transform="translate(161.9 1141.8) scale(21.6 22.2)" opacity="0.33"/>
<use href="#b" transform="translate(190.1 1091.5) scale(23.7 22.2)" opacity="0.9"/>
<use href="#b" transform="translate(190.1 1075.5) scale(23.1 21.6)" opacity="0.43"/>
<use href="#b" transform="translate(190.1 1107) scale(23.1 21.6)" opacity="0.43"/>
<use href="#b" transform="translate(190.1 1141.8) scale(21.6 22.2)" opacity="0.33"/>
<use href="#b" transform="translate(218.3 1091.5) scale(23.7 22.2)" opacity="0.9"/>
<use href="#b" transform="translate(218.3 1075.5) scale(23.1 21.6)" opacity="0.43"/>
<use href="#b" transform="translate(218.3 1107) scale(23.1 21.6)" opacity="0.43"/>
<use href="#b" transform="translate(218.3 1141.8) scale(21.6 22.2)" opacity="0.33"/>
<use href="#b" transform="translate(246.5 1091.5) scale(23.7 22.2)" opacity="0.9"/>
<use href="#b" transform="translate(246.5 1075.5) scale(23.1 21.6)" opacity="0.43"/>
<use href="#b" transform="translate(246.5 1107) scale(23.1 21.6)" opacity="0.43"/>
<use href="#b" transform="translate(246.5 1141.8) scale(21.6 22.2)" opacity="0.33"/>
<use href="#b" transform="translate(274.7 1091.5) scale(23.7 22.2)" opacity="0.9"/>
<use href="#b" transform="translate(274.7 1075.5) scale(23.1 21.6)" opacity="0.43"/>
<use href="#b" transform="translate(274.7 1107) scale(23.1 21.6)" opacity="0.43"/>
<use href="#b" transform="translate(274.7 1141.8) scale(21.6 22.2)" opacity="0.33"/>
<use href="#b" transform="translate(302.9 1091.5) scale(23.7 22.2)" opacity="0.9"/>
<use href="#b" transform="translate(302.9 1075.5) scale(23.1 21.6)" opacity="0.43"/>
<use href="#b" transform="translate(302.9 1107) scale(23.1 21.6)" opacity="0.43"/>
<use href="#b" transform="translate(302.9 1141.8) scale(21.6 22.2)" opacity="0.33"/>
<use href="#b" transform="translate(331.1 1091.5) scale(23.7 22.2)" opacity="0.9"/>
<use href="#b" transform="translate(331.1 1075.5) scale(23.1 21.6)" opacity="0.43"/>
<use href="#b" transform="translate(331.1 1107) scale(23.1 21.6)" opacity="0.43"/>
<use href="#b" transform="translate(331.1 1141.8) scale(21.6 22.2)" opacity="0.33"/>
<use href="#b" transform="translate(359.3 1091.5) scale(23.7 22.2)" opacity="0.9"/>
<use href="#b" transform="translate(359.3 1075.5) scale(23.1 21.6)" opacity="0.43"/>
<use href="#b" transform="translate(359.3 1107) scale(23.1 21.6)" opacity="0.43"/>
<use href="#b" transform="translate(359.3 1141.8) scale(21.6 22.2)" opacity="0.33"/>
<use href="#b" transform="translate(387.5 1091.5) scale(23.7 22.2)" opacity="0.9"/>
<use href="#b" transform="translate(387.5 1075.5) scale(23.1 21.6)" opacity="0.43"/>
<use href="#b" transform="translate(387.5 1107) scale(23.1 21.6)" opacity="0.43"/>
<use href="#b" transform="translate(387.5 1141.8) scale(21.6 22.2)" opacity="0.33"/>
<use href="#b" transform="translate(415.7 1091.5) scale(23.7 22.2)" opacity="0.9"/>
<use href="#b" transform="translate(415.7 1075.5) scale(23.1 21.6)" opacity="0.43"/>
<use href="#b" transform="translate(415.7 1107) scale(23.1 21.6)" opacity="0.43"/>
<use href="#b" transform="translate(415.7 1141.8) scale(21.6 22.2)" opacity="0.33"/>
<use href="#b" transform="translate(443.9 1091.5) scale(23.7 22.2)" opacity="0.9"/>
<use href="#b" transform="translate(443.9 1075.5) scale(23.1 21.6)" opacity="0.43"/>
<use href="#b" transform="translate(443.9 1107) scale(23.1 21.6)" opacity="0.43"/>
<use href="#b" transform="translate(443.9 1141.8) scale(21.6 22.2)" opacity="0.33"/>
<use href="#b" transform="translate(472.1 1091.5) scale(23.7 22.2)" opacity="0.9"/>
<use href="#b" transform="translate(472.1 1075.5) scale(23.1 21.6)" opacity="0.43"/>
<use href="#b" transform="translate(472.1 1107) scale(23.1 21.6)" opacity="0.43"/>
<use href="#b" transform="translate(472.1 1141.8) scale(21.6 22.2)" opacity="0.33"/>
<use href="#b" transform="translate(500.3 1091.5) scale(23.7 22.2)" opacity="0.9"/>
<use href="#b" transform="translate(500.3 1075.5) scale(23.1 21.6)" opacity="0.43"/>
<use href="#b" transform="translate(500.3 1107) scale(23.1 21.6)" opacity="0.43"/>
<use href="#b" transform="translate(500.3 1141.8) scale(21.6 22.2)" opacity="0.33"/>
<use href="#b" transform="translate(528.5 1091.5) scale(23.7 22.2)" opacity="0.9"/>
<use href="#b" transform="translate(528.5 1075.5) scale(23.1 21.6)" opacity="0.43"/>
<use href="#b" transform="translate(528.5 1107) scale(23.1 21.6)" opacity="0.43"/>
<use href="#b" transform="translate(528.5 1141.8) scale(21.6 22.2)" opacity="0.33"/>
<use href="#b" transform="translate(556.7 1091.5) scale(23.7 22.2)" opacity="0.9"/>
<use href="#b" transform="translate(556.7 1075.5) scale(23.1 21.6)" opacity="0.43"/>
<use href="#b" transform="translate(556.7 1107) scale(23.1 21.6)" opacity="0.43"/>
<use href="#b" transform="translate(556.7 1141.8) scale(21.6 22.2)" opacity="0.33"/>
<use href="#b" transform="translate(584.9 1091.5) scale(23.7 22.2)" opacity="0.9"/>
<use href="#b" transform="translate(584.9 1075.5) scale(23.1 21.6)" opacity="0.43"/>
<use href="#b" transform="translate(584.9 1107) scale(23.1 21.6)" opacity="0.43"/>
<use href="#b" transform="translate(584.9 1141.8) scale(21.6 22.2)" opacity="0.33"/>
<use href="#b" transform="translate(105.5 1192) scale(23.7 22.2)" opacity="0.9"/>
<use href="#b" transform="translate(105.5 1176) scale(23.1 21.6)" opacity="0.43"/>
<use href="#b" transform="translate(105.5 1207.5) scale(23.1 21.6)" opacity="0.43"/>
<use href="#b" transform="translate(105.5 1242.3) scale(21.6 22.2)" opacity="0.33"/>
<use href="#b" transform="translate(133.7 1192) scale(23.7 22.2)" opacity="0.9"/>
<use href="#b" transform="translate(133.7 1176) scale(23.1 21.6)" opacity="0.43"/>
<use href="#b" transform="translate(133.7 1207.5) scale(23.1 21.6)" opacity="0.43"/>
<use href="#b" transform="translate(133.7 1242.3) scale(21.6 22.2)" opacity="0.33"/>
<use href="#b" transform="translate(161.9 1192) scale(23.7 22.2)" opacity="0.9"/>
<use href="#b" transform="translate(161.9 1176) scale(23.1 21.6)" opacity="0.43"/>
<use href="#b" transform="translate(161.9 1207.5) scale(23.1 21.6)" opacity="0.43"/>
<use href="#b" transform="translate(161.9 1242.3) scale(21.6 22.2)" opacity="0.33"/>
<use href="#b" transform="translate(190.1 1192) scale(23.7 22.2)" opacity="0.9"/>
<use href="#b" transform="translate(190.1 1176) scale(23.1 21.6)" opacity="0.43"/>
<use href="#b" transform="translate(190.1 1207.5) scale(23.1 21.6)" opacity="0.43"/>
<use href="#b" transform="translate(190.1 1242.3) scale(21.6 22.2)" opacity="0.33"/>
<use href="#b" transform="translate(218.3 1192) scale(23.7 22.2)" opacity="0.9"/>
<use href="#b" transform="translate(218.3 1176) scale(23.1 21.6)" opacity="0.43"/>
<use href="#b" transform="translate(218.3 1207.5) scale(23.1 21.6)" opacity="0.43"/>
<use href="#b" transform="translate(218.3 1242.3) scale(21.6 22.2)" opacity="0.33"/>
<use href="#b" transform="translate(246.5 1192) scale(23.7 22.2)" opacity="0.9"/>
<use href="#b" transform="translate(246.5 1176) scale(23.1 21.6)" opacity="0.43"/>
<use href="#b" transform="translate(246.5 1207.5) scale(23.1 21.6)" opacity="0.43"/>
<use href="#b" transform="translate(246.5 1242.3) scale(21.6 22.2)" opacity="0.33"/>
<use href="#b" transform="translate(274.7 1192) scale(23.7 22.2)" opacity="0.9"/>
<use href="#b" transform="translate(274.7 1176) scale(23.1 21.6)" opacity="0.43"/>
<use href="#b" transform="translate(274.7 1207.5) scale(23.1 21.6)" opacity="0.43"/>
<use href="#b" transform="translate(274.7 1242.3) scale(21.6 22.2)" opacity="0.33"/>
<use href="#b" transform="translate(302.9 1192) scale(23.7 22.2)" opacity="0.9"/>
<use href="#b" transform="translate(302.9 1176) scale(23.1 21.6)" opacity="0.43"/>
<use href="#b" transform="translate(302.9 1207.5) scale(23.1 21.6)" opacity="0.43"/>
<use href="#b" transform="translate(302.9 1242.3) scale(21.6 22.2)" opacity="0.33"/>
<use href="#b" transform="translate(331.1 1192) scale(23.7 22.2)" opacity="0.9"/>
<use href="#b" transform="translate(331.1 1176) scale(23.1 21.6)" opacity="0.43"/>
<use href="#b" transform="translate(331.1 1207.5) scale(23.1 21.6)" opacity="0.43"/>
<use href="#b" transform="translate(331.1 1242.3) scale(21.6 22.2)" opacity="0.33"/>
<use href="#b" transform="translate(359.3 1192) scale(23.7 22.2)" opacity="0.9"/>
<use href="#b" transform="translate(359.3 1176) scale(23.1 21.6)" opacity="0.43"/>
<use href="#b" transform="translate(359.3 1207.5) scale(23.1 21.6)" opacity="0.43"/>
<use href="#b" transform="translate(359.3 1242.3) scale(21.6 22.2)" opacity="0.33"/>
<use href="#b" transform="translate(387.5 1192) scale(23.7 22.2)" opacity="0.9"/>
<use href="#b" transform="translate(387.5 1176) scale(23.1 21.6)" opacity="0.43"/>
<use href="#b" transform="translate(387.5 1207.5) scale(23.1 21.6)" opacity="0.43"/>
<use href="#b" transform="translate(387.5 1242.3) scale(21.6 22.2)" opacity="0.33"/>
<use href="#b" transform="translate(415.7 1192) scale(23.7 22.2)" opacity="0.9"/>
<use href="#b" transform="translate(415.7 1176) scale(23.1 21.6)" opacity="0.43"/>
<use href="#b" transform="translate(415.7 1207.5) scale(23.1 21.6)" opacity="0.43"/>
<use href="#b" transform="translate(415.7 1242.3) scale(21.6 22.2)" opacity="0.33"/>
<use href="#b" transform="translate(443.9 1192) scale(23.7 22.2)" opacity="0.9"/>
<use href="#b" transform="translate(443.9 1176) scale(23.1 21.6)" opacity="0.43"/>
<use href="#b" transform="translate(443.9 1207.5) scale(23.1 21.6)" opacity="0.43"/>
<use href="#b" transform="translate(443.9 1242.3) scale(21.6 22.2)" opacity="0.33"/>
<use href="#b" transform="translate(472.1 1192) scale(23.7 22.2)" opacity="0.9"/>
<use href="#b" transform="translate(472.1 1176) scale(23.1 21.6)" opacity="0.43"/>
<use href="#b" transform="translate(472.1 1207.5) scale(23.1 21.6)" opacity="0.43"/>
<use href="#b" transform="translate(472.1 1242.3) scale(21.6 22.2)" opacity="0.33"/>
<use href="#b" transform="translate(500.3 1192) scale(23.7 22.2)" opacity="0.9"/>
<use href="#b" transform="translate(500.3 1176) scale(23.1 21.6)" opacity="0.43"/>
<use href="#b" transform="translate(500.3 1207.5) scale(23.1 21.6)" opacity="0.43"/>
<use href="#b" transform="translate(500.3 1242.3) scale(21.6 22.2)" opacity="0.33"/>
<use href="#b" transform="translate(528.5 1192) scale(23.7 22.2)" opacity="0.9"/>
<use href="#b" transform="translate(528.5 1176) scale(23.1 21.6)" opacity="0.43"/>
<use href="#b" transform="translate(528.5 1207.5) scale(23.1 21.6)" opacity="0.43"/>
<use href="#b" transform="translate(528.5 1242.3) scale(21.6 22.2)" opacity="0.33"/>
<use href="#b" transform="translate(556.7 1192) scale(23.7 22.2)" opacity="0.9"/>
<use href="#b" transform="translate(556.7 1176) scale(23.1 21.6)" opacity="0.43"/>
<use href="#b" transform="translate(556.7 1207.5) scale(23.1 21.6)" opacity="0.43"/>
<use href="#b" transform="translate(556.7 1242.3) scale(21.6 22.2)" opacity="0.33"/>
<use href="#b" transform="translate(584.9 1192) scale(23.7 22.2)" opacity="0.9"/>
<use href="#b" transform="translate(584.9 1176) scale(23.1 21.6)" opacity="0.43"/>
<use href="#b" transform="translate(584.9 1207.5) scale(23.1 21.6)" opacity="0.43"/>
<use href="#b" transform="translate(584.9 1242.3) scale(21.6 22.2)" opacity="0.33"/>
</g></g>
<g id="inset-d">
<rect x="413" y="753.4" width="171.7" height="265.6" fill="#fff"/>
<g class="ins" clip-path="url(#cid)">
<rect x="405" y="753" width="187" height="3.4" fill="#3a0000"/>
<circle cx="386.7" cy="774.2" r="5.3" fill="url(#sR)"/>
<circle cx="415" cy="810.1" r="5.3" fill="url(#sR)"/>
<circle cx="443.3" cy="774.2" r="5.3" fill="url(#sR)"/>
<circle cx="471.7" cy="810.1" r="5.3" fill="url(#sR)"/>
<circle cx="500" cy="774.2" r="5.3" fill="url(#sR)"/>
<circle cx="528.3" cy="810.1" r="5.3" fill="url(#sR)"/>
<circle cx="556.6" cy="774.2" r="5.3" fill="url(#sR)"/>
<circle cx="585" cy="810.1" r="5.3" fill="url(#sR)"/>
<circle cx="613.3" cy="774.2" r="5.3" fill="url(#sR)"/>
<rect x="405" y="774.4" width="187" height="34.1" fill="#00006e"/>
<polygon points="358.3,774.4 386.7,774.4 386.7,808.5" fill="#0a0a9c" opacity="0.9"/>
<polygon points="415,774.4 443.3,774.4 443.3,808.5" fill="#0a0a9c" opacity="0.9"/>
<polygon points="471.7,774.4 500,774.4 500,808.5" fill="#0a0a9c" opacity="0.9"/>
<polygon points="528.3,774.4 556.6,774.4 556.6,808.5" fill="#0a0a9c" opacity="0.9"/>
<polygon points="585,774.4 613.3,774.4 613.3,808.5" fill="#0a0a9c" opacity="0.9"/>
<line x1="386.7" y1="774.4" x2="386.7" y2="808.5" stroke="#c0c0d0" stroke-width="1.1"/>
<line x1="358.3" y1="774.4" x2="386.7" y2="808.5" stroke="#c0c0d0" stroke-width="1.1"/>
<line x1="415" y1="774.4" x2="386.7" y2="808.5" stroke="#c0c0d0" stroke-width="1.1"/>
<line x1="443.3" y1="774.4" x2="443.3" y2="808.5" stroke="#c0c0d0" stroke-width="1.1"/>
<line x1="415" y1="774.4" x2="443.3" y2="808.5" stroke="#c0c0d0" stroke-width="1.1"/>
<line x1="471.7" y1="774.4" x2="443.3" y2="808.5" stroke="#c0c0d0" stroke-width="1.1"/>
<line x1="500" y1="774.4" x2="500" y2="808.5" stroke="#c0c0d0" stroke-width="1.1"/>
<line x1="471.7" y1="774.4" x2="500" y2="808.5" stroke="#c0c0d0" stroke-width="1.1"/>
<line x1="528.3" y1="774.4" x2="500" y2="808.5" stroke="#c0c0d0" stroke-width="1.1"/>
<line x1="556.6" y1="774.4" x2="556.6" y2="808.5" stroke="#c0c0d0" stroke-width="1.1"/>
<line x1="528.3" y1="774.4" x2="556.6" y2="808.5" stroke="#c0c0d0" stroke-width="1.1"/>
<line x1="585" y1="774.4" x2="556.6" y2="808.5" stroke="#c0c0d0" stroke-width="1.1"/>
<line x1="613.3" y1="774.4" x2="613.3" y2="808.5" stroke="#c0c0d0" stroke-width="1.1"/>
<line x1="585" y1="774.4" x2="613.3" y2="808.5" stroke="#c0c0d0" stroke-width="1.1"/>
<line x1="641.6" y1="774.4" x2="613.3" y2="808.5" stroke="#c0c0d0" stroke-width="1.1"/>
<circle cx="386.7" cy="808.8" r="5.6" fill="url(#sR)"/>
<circle cx="415" cy="773.7" r="5.6" fill="url(#sR)"/>
<circle cx="443.3" cy="808.8" r="5.6" fill="url(#sR)"/>
<circle cx="471.7" cy="773.7" r="5.6" fill="url(#sR)"/>
<circle cx="500" cy="808.8" r="5.6" fill="url(#sR)"/>
<circle cx="528.3" cy="773.7" r="5.6" fill="url(#sR)"/>
<circle cx="556.6" cy="808.8" r="5.6" fill="url(#sR)"/>
<circle cx="585" cy="773.7" r="5.6" fill="url(#sR)"/>
<circle cx="613.3" cy="808.8" r="5.6" fill="url(#sR)"/>
<circle cx="386.7" cy="874.8" r="5.3" fill="url(#sR)"/>
<circle cx="415" cy="910.7" r="5.3" fill="url(#sR)"/>
<circle cx="443.3" cy="874.8" r="5.3" fill="url(#sR)"/>
<circle cx="471.7" cy="910.7" r="5.3" fill="url(#sR)"/>
<circle cx="500" cy="874.8" r="5.3" fill="url(#sR)"/>
<circle cx="528.3" cy="910.7" r="5.3" fill="url(#sR)"/>
<circle cx="556.6" cy="874.8" r="5.3" fill="url(#sR)"/>
<circle cx="585" cy="910.7" r="5.3" fill="url(#sR)"/>
<circle cx="613.3" cy="874.8" r="5.3" fill="url(#sR)"/>
<rect x="405" y="875" width="187" height="34.1" fill="#00006e"/>
<polygon points="358.3,875 386.7,875 386.7,909.1" fill="#0a0a9c" opacity="0.9"/>
<polygon points="415,875 443.3,875 443.3,909.1" fill="#0a0a9c" opacity="0.9"/>
<polygon points="471.7,875 500,875 500,909.1" fill="#0a0a9c" opacity="0.9"/>
<polygon points="528.3,875 556.6,875 556.6,909.1" fill="#0a0a9c" opacity="0.9"/>
<polygon points="585,875 613.3,875 613.3,909.1" fill="#0a0a9c" opacity="0.9"/>
<line x1="386.7" y1="875" x2="386.7" y2="909.1" stroke="#c0c0d0" stroke-width="1.1"/>
<line x1="358.3" y1="875" x2="386.7" y2="909.1" stroke="#c0c0d0" stroke-width="1.1"/>
<line x1="415" y1="875" x2="386.7" y2="909.1" stroke="#c0c0d0" stroke-width="1.1"/>
<line x1="443.3" y1="875" x2="443.3" y2="909.1" stroke="#c0c0d0" stroke-width="1.1"/>
<line x1="415" y1="875" x2="443.3" y2="909.1" stroke="#c0c0d0" stroke-width="1.1"/>
<line x1="471.7" y1="875" x2="443.3" y2="909.1" stroke="#c0c0d0" stroke-width="1.1"/>
<line x1="500" y1="875" x2="500" y2="909.1" stroke="#c0c0d0" stroke-width="1.1"/>
<line x1="471.7" y1="875" x2="500" y2="909.1" stroke="#c0c0d0" stroke-width="1.1"/>
<line x1="528.3" y1="875" x2="500" y2="909.1" stroke="#c0c0d0" stroke-width="1.1"/>
<line x1="556.6" y1="875" x2="556.6" y2="909.1" stroke="#c0c0d0" stroke-width="1.1"/>
<line x1="528.3" y1="875" x2="556.6" y2="909.1" stroke="#c0c0d0" stroke-width="1.1"/>
<line x1="585" y1="875" x2="556.6" y2="909.1" stroke="#c0c0d0" stroke-width="1.1"/>
<line x1="613.3" y1="875" x2="613.3" y2="909.1" stroke="#c0c0d0" stroke-width="1.1"/>
<line x1="585" y1="875" x2="613.3" y2="909.1" stroke="#c0c0d0" stroke-width="1.1"/>
<line x1="641.6" y1="875" x2="613.3" y2="909.1" stroke="#c0c0d0" stroke-width="1.1"/>
<circle cx="386.7" cy="909.4" r="5.6" fill="url(#sR)"/>
<circle cx="415" cy="874.3" r="5.6" fill="url(#sR)"/>
<circle cx="443.3" cy="909.4" r="5.6" fill="url(#sR)"/>
<circle cx="471.7" cy="874.3" r="5.6" fill="url(#sR)"/>
<circle cx="500" cy="909.4" r="5.6" fill="url(#sR)"/>
<circle cx="528.3" cy="874.3" r="5.6" fill="url(#sR)"/>
<circle cx="556.6" cy="909.4" r="5.6" fill="url(#sR)"/>
<circle cx="585" cy="874.3" r="5.6" fill="url(#sR)"/>
<circle cx="613.3" cy="909.4" r="5.6" fill="url(#sR)"/>
<circle cx="386.7" cy="975.4" r="5.3" fill="url(#sR)"/>
<circle cx="415" cy="1011.3" r="5.3" fill="url(#sR)"/>
<circle cx="443.3" cy="975.4" r="5.3" fill="url(#sR)"/>
<circle cx="471.7" cy="1011.3" r="5.3" fill="url(#sR)"/>
<circle cx="500" cy="975.4" r="5.3" fill="url(#sR)"/>
<circle cx="528.3" cy="1011.3" r="5.3" fill="url(#sR)"/>
<circle cx="556.6" cy="975.4" r="5.3" fill="url(#sR)"/>
<circle cx="585" cy="1011.3" r="5.3" fill="url(#sR)"/>
<circle cx="613.3" cy="975.4" r="5.3" fill="url(#sR)"/>
<rect x="405" y="975.6" width="187" height="34.1" fill="#00006e"/>
<polygon points="358.3,975.6 386.7,975.6 386.7,1009.7" fill="#0a0a9c" opacity="0.9"/>
<polygon points="415,975.6 443.3,975.6 443.3,1009.7" fill="#0a0a9c" opacity="0.9"/>
<polygon points="471.7,975.6 500,975.6 500,1009.7" fill="#0a0a9c" opacity="0.9"/>
<polygon points="528.3,975.6 556.6,975.6 556.6,1009.7" fill="#0a0a9c" opacity="0.9"/>
<polygon points="585,975.6 613.3,975.6 613.3,1009.7" fill="#0a0a9c" opacity="0.9"/>
<line x1="386.7" y1="975.6" x2="386.7" y2="1009.7" stroke="#c0c0d0" stroke-width="1.1"/>
<line x1="358.3" y1="975.6" x2="386.7" y2="1009.7" stroke="#c0c0d0" stroke-width="1.1"/>
<line x1="415" y1="975.6" x2="386.7" y2="1009.7" stroke="#c0c0d0" stroke-width="1.1"/>
<line x1="443.3" y1="975.6" x2="443.3" y2="1009.7" stroke="#c0c0d0" stroke-width="1.1"/>
<line x1="415" y1="975.6" x2="443.3" y2="1009.7" stroke="#c0c0d0" stroke-width="1.1"/>
<line x1="471.7" y1="975.6" x2="443.3" y2="1009.7" stroke="#c0c0d0" stroke-width="1.1"/>
<line x1="500" y1="975.6" x2="500" y2="1009.7" stroke="#c0c0d0" stroke-width="1.1"/>
<line x1="471.7" y1="975.6" x2="500" y2="1009.7" stroke="#c0c0d0" stroke-width="1.1"/>
<line x1="528.3" y1="975.6" x2="500" y2="1009.7" stroke="#c0c0d0" stroke-width="1.1"/>
<line x1="556.6" y1="975.6" x2="556.6" y2="1009.7" stroke="#c0c0d0" stroke-width="1.1"/>
<line x1="528.3" y1="975.6" x2="556.6" y2="1009.7" stroke="#c0c0d0" stroke-width="1.1"/>
<line x1="585" y1="975.6" x2="556.6" y2="1009.7" stroke="#c0c0d0" stroke-width="1.1"/>
<line x1="613.3" y1="975.6" x2="613.3" y2="1009.7" stroke="#c0c0d0" stroke-width="1.1"/>
<line x1="585" y1="975.6" x2="613.3" y2="1009.7" stroke="#c0c0d0" stroke-width="1.1"/>
<line x1="641.6" y1="975.6" x2="613.3" y2="1009.7" stroke="#c0c0d0" stroke-width="1.1"/>
<circle cx="386.7" cy="1010" r="5.6" fill="url(#sR)"/>
<circle cx="415" cy="974.9" r="5.6" fill="url(#sR)"/>
<circle cx="443.3" cy="1010" r="5.6" fill="url(#sR)"/>
<circle cx="471.7" cy="974.9" r="5.6" fill="url(#sR)"/>
<circle cx="500" cy="1010" r="5.6" fill="url(#sR)"/>
<circle cx="528.3" cy="974.9" r="5.6" fill="url(#sR)"/>
<circle cx="556.6" cy="1010" r="5.6" fill="url(#sR)"/>
<circle cx="585" cy="974.9" r="5.6" fill="url(#sR)"/>
<circle cx="613.3" cy="1010" r="5.6" fill="url(#sR)"/>
<circle cx="386.7" cy="841.8" r="14.7" fill="url(#sG)"/>
<circle cx="415" cy="841.8" r="14.7" fill="url(#sG)"/>
<circle cx="443.3" cy="841.8" r="14.7" fill="url(#sG)"/>
<circle cx="471.7" cy="841.8" r="14.7" fill="url(#sG)"/>
<circle cx="500" cy="841.8" r="14.7" fill="url(#sG)"/>
<circle cx="528.3" cy="841.8" r="14.7" fill="url(#sG)"/>
<circle cx="556.6" cy="841.8" r="14.7" fill="url(#sG)"/>
<circle cx="585" cy="841.8" r="14.7" fill="url(#sG)"/>
<circle cx="613.3" cy="841.8" r="14.7" fill="url(#sG)"/>
<circle cx="386.7" cy="942.4" r="14.7" fill="url(#sG)"/>
<circle cx="415" cy="942.4" r="14.7" fill="url(#sG)"/>
<circle cx="443.3" cy="942.4" r="14.7" fill="url(#sG)"/>
<circle cx="471.7" cy="942.4" r="14.7" fill="url(#sG)"/>
<circle cx="500" cy="942.4" r="14.7" fill="url(#sG)"/>
<circle cx="528.3" cy="942.4" r="14.7" fill="url(#sG)"/>
<circle cx="556.6" cy="942.4" r="14.7" fill="url(#sG)"/>
<circle cx="585" cy="942.4" r="14.7" fill="url(#sG)"/>
<circle cx="613.3" cy="942.4" r="14.7" fill="url(#sG)"/>
</g>
</g>
<rect x="104.7" y="753.4" width="480" height="479.3" fill="none" stroke="#000" stroke-width="2.2"/>
<text class="t" x="104.6" y="1268.8" text-anchor="middle">0</text>
<text class="t" x="93.4" y="1245.9" text-anchor="end">0</text>
<text class="t" x="198.8" y="1268.8" text-anchor="middle">5</text>
<text class="t" x="93.4" y="1149.86" text-anchor="end">5</text>
<text class="t" x="300" y="1268.8" text-anchor="middle">10</text>
<text class="t" x="93.4" y="1053.82" text-anchor="end">10</text>
<text class="t" x="394.7" y="1268.8" text-anchor="middle">15</text>
<text class="t" x="93.4" y="957.78" text-anchor="end">15</text>
<text class="t" x="490.6" y="1268.8" text-anchor="middle">20</text>
<text class="t" x="93.4" y="861.74" text-anchor="end">20</text>
<text class="t" x="584" y="1268.8" text-anchor="middle">25</text>
<text class="t" x="93.4" y="765.7" text-anchor="end">25</text>
<text class="ax" x="207.8" y="1310.6"><tspan font-style="italic">Y</tspan><tspan dx="1.2"> coordinate (Å)</tspan></text>
<text class="ax" transform="translate(42.4 1112.5) rotate(-90)"><tspan font-style="italic">Z</tspan> coordinate (Å)</text>
<text class="pl" x="5" y="707.5">d</text>
</g>
<g id="panel-e">
<g clip-path="url(#cpe)"><g class="h" filter="url(#hot)">
<rect x="688.5" y="753" width="480" height="480" fill="#000"/>
<use href="#b" transform="translate(680.7 830.4) scale(16.5 16.5)" opacity="0.03"/>
<use href="#b" transform="translate(689.7 777.4) scale(24 24)" opacity="0.39"/>
<use href="#b" transform="translate(689.7 762.4) scale(23.4 22.5)" opacity="0.15"/>
<use href="#b" transform="translate(689.7 792.4) scale(23.4 22.5)" opacity="0.15"/>
<use href="#b" transform="translate(715.2 777.4) scale(24 24)" opacity="0.39"/>
<use href="#b" transform="translate(715.2 762.4) scale(23.4 22.5)" opacity="0.15"/>
<use href="#b" transform="translate(715.2 792.4) scale(23.4 22.5)" opacity="0.15"/>
<use href="#b" transform="translate(741.7 777.4) scale(22.2 24)" opacity="0.27"/>
<use href="#b" transform="translate(741.7 763.4) scale(22.2 24)" opacity="0.23"/>
<use href="#b" transform="translate(741.7 791.4) scale(22.2 24)" opacity="0.23"/>
<use href="#b" transform="translate(772.7 777.4) scale(22.2 24)" opacity="0.27"/>
<use href="#b" transform="translate(772.7 763.4) scale(22.2 24)" opacity="0.23"/>
<use href="#b" transform="translate(772.7 791.4) scale(22.2 24)" opacity="0.23"/>
<use href="#b" transform="translate(723.7 830.4) scale(16.5 16.5)" opacity="0.03"/>
<use href="#b" transform="translate(791.3 830.4) scale(16.5 16.5)" opacity="0.03"/>
<use href="#b" transform="translate(800.3 777.4) scale(24 24)" opacity="0.39"/>
<use href="#b" transform="translate(800.3 762.4) scale(23.4 22.5)" opacity="0.15"/>
<use href="#b" transform="translate(800.3 792.4) scale(23.4 22.5)" opacity="0.15"/>
<use href="#b" transform="translate(825.8 777.4) scale(24 24)" opacity="0.39"/>
<use href="#b" transform="translate(825.8 762.4) scale(23.4 22.5)" opacity="0.15"/>
<use href="#b" transform="translate(825.8 792.4) scale(23.4 22.5)" opacity="0.15"/>
<use href="#b" transform="translate(852.3 777.4) scale(22.2 24)" opacity="0.27"/>
<use href="#b" transform="translate(852.3 763.4) scale(22.2 24)" opacity="0.23"/>
<use href="#b" transform="translate(852.3 791.4) scale(22.2 24)" opacity="0.23"/>
<use href="#b" transform="translate(883.3 777.4) scale(22.2 24)" opacity="0.27"/>
<use href="#b" transform="translate(883.3 763.4) scale(22.2 24)" opacity="0.23"/>
<use href="#b" transform="translate(883.3 791.4) scale(22.2 24)" opacity="0.23"/>
<use href="#b" transform="translate(834.3 830.4) scale(16.5 16.5)" opacity="0.03"/>
<use href="#b" transform="translate(901.9 830.4) scale(16.5 16.5)" opacity="0.03"/>
<use href="#b" transform="translate(910.9 777.4) scale(24 24)" opacity="0.39"/>
<use href="#b" transform="translate(910.9 762.4) scale(23.4 22.5)" opacity="0.15"/>
<use href="#b" transform="translate(910.9 792.4) scale(23.4 22.5)" opacity="0.15"/>
<use href="#b" transform="translate(936.4 777.4) scale(24 24)" opacity="0.39"/>
<use href="#b" transform="translate(936.4 762.4) scale(23.4 22.5)" opacity="0.15"/>
<use href="#b" transform="translate(936.4 792.4) scale(23.4 22.5)" opacity="0.15"/>
<use href="#b" transform="translate(962.9 777.4) scale(22.2 24)" opacity="0.27"/>
<use href="#b" transform="translate(962.9 763.4) scale(22.2 24)" opacity="0.23"/>
<use href="#b" transform="translate(962.9 791.4) scale(22.2 24)" opacity="0.23"/>
<use href="#b" transform="translate(993.9 777.4) scale(22.2 24)" opacity="0.27"/>
<use href="#b" transform="translate(993.9 763.4) scale(22.2 24)" opacity="0.23"/>
<use href="#b" transform="translate(993.9 791.4) scale(22.2 24)" opacity="0.23"/>
<use href="#b" transform="translate(944.9 830.4) scale(16.5 16.5)" opacity="0.03"/>
<use href="#b" transform="translate(1012.5 830.4) scale(16.5 16.5)" opacity="0.03"/>
<use href="#b" transform="translate(1021.5 777.4) scale(24 24)" opacity="0.39"/>
<use href="#b" transform="translate(1021.5 762.4) scale(23.4 22.5)" opacity="0.15"/>
<use href="#b" transform="translate(1021.5 792.4) scale(23.4 22.5)" opacity="0.15"/>
<use href="#b" transform="translate(1047 777.4) scale(24 24)" opacity="0.39"/>
<use href="#b" transform="translate(1047 762.4) scale(23.4 22.5)" opacity="0.15"/>
<use href="#b" transform="translate(1047 792.4) scale(23.4 22.5)" opacity="0.15"/>
<use href="#b" transform="translate(1073.5 777.4) scale(22.2 24)" opacity="0.27"/>
<use href="#b" transform="translate(1073.5 763.4) scale(22.2 24)" opacity="0.23"/>
<use href="#b" transform="translate(1073.5 791.4) scale(22.2 24)" opacity="0.23"/>
<use href="#b" transform="translate(1104.5 777.4) scale(22.2 24)" opacity="0.27"/>
<use href="#b" transform="translate(1104.5 763.4) scale(22.2 24)" opacity="0.23"/>
<use href="#b" transform="translate(1104.5 791.4) scale(22.2 24)" opacity="0.23"/>
<use href="#b" transform="translate(1055.5 830.4) scale(16.5 16.5)" opacity="0.03"/>
<use href="#b" transform="translate(1123.1 830.4) scale(16.5 16.5)" opacity="0.03"/>
<use href="#b" transform="translate(1132.1 777.4) scale(24 24)" opacity="0.39"/>
<use href="#b" transform="translate(1132.1 762.4) scale(23.4 22.5)" opacity="0.15"/>
<use href="#b" transform="translate(1132.1 792.4) scale(23.4 22.5)" opacity="0.15"/>
<use href="#b" transform="translate(1157.6 777.4) scale(24 24)" opacity="0.39"/>
<use href="#b" transform="translate(1157.6 762.4) scale(23.4 22.5)" opacity="0.15"/>
<use href="#b" transform="translate(1157.6 792.4) scale(23.4 22.5)" opacity="0.15"/>
<use href="#b" transform="translate(1184.1 777.4) scale(22.2 24)" opacity="0.27"/>
<use href="#b" transform="translate(1184.1 763.4) scale(22.2 24)" opacity="0.23"/>
<use href="#b" transform="translate(1184.1 791.4) scale(22.2 24)" opacity="0.23"/>
<use href="#b" transform="translate(1166.1 830.4) scale(16.5 16.5)" opacity="0.03"/>
<use href="#b" transform="translate(680.7 937.9) scale(16.5 16.5)" opacity="0.03"/>
<use href="#b" transform="translate(689.7 884.9) scale(24 24)" opacity="0.39"/>
<use href="#b" transform="translate(689.7 869.9) scale(23.4 22.5)" opacity="0.15"/>
<use href="#b" transform="translate(689.7 899.9) scale(23.4 22.5)" opacity="0.15"/>
<use href="#b" transform="translate(715.2 884.9) scale(24 24)" opacity="0.39"/>
<use href="#b" transform="translate(715.2 869.9) scale(23.4 22.5)" opacity="0.15"/>
<use href="#b" transform="translate(715.2 899.9) scale(23.4 22.5)" opacity="0.15"/>
<use href="#b" transform="translate(741.7 884.9) scale(22.2 24)" opacity="0.27"/>
<use href="#b" transform="translate(741.7 870.9) scale(22.2 24)" opacity="0.23"/>
<use href="#b" transform="translate(741.7 898.9) scale(22.2 24)" opacity="0.23"/>
<use href="#b" transform="translate(772.7 884.9) scale(22.2 24)" opacity="0.27"/>
<use href="#b" transform="translate(772.7 870.9) scale(22.2 24)" opacity="0.23"/>
<use href="#b" transform="translate(772.7 898.9) scale(22.2 24)" opacity="0.23"/>
<use href="#b" transform="translate(723.7 937.9) scale(16.5 16.5)" opacity="0.03"/>
<use href="#b" transform="translate(791.3 937.9) scale(16.5 16.5)" opacity="0.03"/>
<use href="#b" transform="translate(800.3 884.9) scale(24 24)" opacity="0.39"/>
<use href="#b" transform="translate(800.3 869.9) scale(23.4 22.5)" opacity="0.15"/>
<use href="#b" transform="translate(800.3 899.9) scale(23.4 22.5)" opacity="0.15"/>
<use href="#b" transform="translate(825.8 884.9) scale(24 24)" opacity="0.39"/>
<use href="#b" transform="translate(825.8 869.9) scale(23.4 22.5)" opacity="0.15"/>
<use href="#b" transform="translate(825.8 899.9) scale(23.4 22.5)" opacity="0.15"/>
<use href="#b" transform="translate(852.3 884.9) scale(22.2 24)" opacity="0.27"/>
<use href="#b" transform="translate(852.3 870.9) scale(22.2 24)" opacity="0.23"/>
<use href="#b" transform="translate(852.3 898.9) scale(22.2 24)" opacity="0.23"/>
<use href="#b" transform="translate(883.3 884.9) scale(22.2 24)" opacity="0.27"/>
<use href="#b" transform="translate(883.3 870.9) scale(22.2 24)" opacity="0.23"/>
<use href="#b" transform="translate(883.3 898.9) scale(22.2 24)" opacity="0.23"/>
<use href="#b" transform="translate(834.3 937.9) scale(16.5 16.5)" opacity="0.03"/>
<use href="#b" transform="translate(901.9 937.9) scale(16.5 16.5)" opacity="0.03"/>
<use href="#b" transform="translate(910.9 884.9) scale(24 24)" opacity="0.39"/>
<use href="#b" transform="translate(910.9 869.9) scale(23.4 22.5)" opacity="0.15"/>
<use href="#b" transform="translate(910.9 899.9) scale(23.4 22.5)" opacity="0.15"/>
<use href="#b" transform="translate(936.4 884.9) scale(24 24)" opacity="0.39"/>
<use href="#b" transform="translate(936.4 869.9) scale(23.4 22.5)" opacity="0.15"/>
<use href="#b" transform="translate(936.4 899.9) scale(23.4 22.5)" opacity="0.15"/>
<use href="#b" transform="translate(962.9 884.9) scale(22.2 24)" opacity="0.27"/>
<use href="#b" transform="translate(962.9 870.9) scale(22.2 24)" opacity="0.23"/>
<use href="#b" transform="translate(962.9 898.9) scale(22.2 24)" opacity="0.23"/>
<use href="#b" transform="translate(993.9 884.9) scale(22.2 24)" opacity="0.27"/>
<use href="#b" transform="translate(993.9 870.9) scale(22.2 24)" opacity="0.23"/>
<use href="#b" transform="translate(993.9 898.9) scale(22.2 24)" opacity="0.23"/>
<use href="#b" transform="translate(944.9 937.9) scale(16.5 16.5)" opacity="0.03"/>
<use href="#b" transform="translate(1012.5 937.9) scale(16.5 16.5)" opacity="0.03"/>
<use href="#b" transform="translate(1021.5 884.9) scale(24 24)" opacity="0.39"/>
<use href="#b" transform="translate(1021.5 869.9) scale(23.4 22.5)" opacity="0.15"/>
<use href="#b" transform="translate(1021.5 899.9) scale(23.4 22.5)" opacity="0.15"/>
<use href="#b" transform="translate(1047 884.9) scale(24 24)" opacity="0.39"/>
<use href="#b" transform="translate(1047 869.9) scale(23.4 22.5)" opacity="0.15"/>
<use href="#b" transform="translate(1047 899.9) scale(23.4 22.5)" opacity="0.15"/>
<use href="#b" transform="translate(1073.5 884.9) scale(22.2 24)" opacity="0.27"/>
<use href="#b" transform="translate(1073.5 870.9) scale(22.2 24)" opacity="0.23"/>
<use href="#b" transform="translate(1073.5 898.9) scale(22.2 24)" opacity="0.23"/>
<use href="#b" transform="translate(1104.5 884.9) scale(22.2 24)" opacity="0.27"/>
<use href="#b" transform="translate(1104.5 870.9) scale(22.2 24)" opacity="0.23"/>
<use href="#b" transform="translate(1104.5 898.9) scale(22.2 24)" opacity="0.23"/>
<use href="#b" transform="translate(1055.5 937.9) scale(16.5 16.5)" opacity="0.03"/>
<use href="#b" transform="translate(1123.1 937.9) scale(16.5 16.5)" opacity="0.03"/>
<use href="#b" transform="translate(1132.1 884.9) scale(24 24)" opacity="0.39"/>
<use href="#b" transform="translate(1132.1 869.9) scale(23.4 22.5)" opacity="0.15"/>
<use href="#b" transform="translate(1132.1 899.9) scale(23.4 22.5)" opacity="0.15"/>
<use href="#b" transform="translate(1157.6 884.9) scale(24 24)" opacity="0.39"/>
<use href="#b" transform="translate(1157.6 869.9) scale(23.4 22.5)" opacity="0.15"/>
<use href="#b" transform="translate(1157.6 899.9) scale(23.4 22.5)" opacity="0.15"/>
<use href="#b" transform="translate(1184.1 884.9) scale(22.2 24)" opacity="0.27"/>
<use href="#b" transform="translate(1184.1 870.9) scale(22.2 24)" opacity="0.23"/>
<use href="#b" transform="translate(1184.1 898.9) scale(22.2 24)" opacity="0.23"/>
<use href="#b" transform="translate(1166.1 937.9) scale(16.5 16.5)" opacity="0.03"/>
<use href="#b" transform="translate(680.7 1045.5) scale(16.5 16.5)" opacity="0.03"/>
<use href="#b" transform="translate(689.7 992.5) scale(24 24)" opacity="0.39"/>
<use href="#b" transform="translate(689.7 977.5) scale(23.4 22.5)" opacity="0.15"/>
<use href="#b" transform="translate(689.7 1007.5) scale(23.4 22.5)" opacity="0.15"/>
<use href="#b" transform="translate(715.2 992.5) scale(24 24)" opacity="0.39"/>
<use href="#b" transform="translate(715.2 977.5) scale(23.4 22.5)" opacity="0.15"/>
<use href="#b" transform="translate(715.2 1007.5) scale(23.4 22.5)" opacity="0.15"/>
<use href="#b" transform="translate(741.7 992.5) scale(22.2 24)" opacity="0.27"/>
<use href="#b" transform="translate(741.7 978.5) scale(22.2 24)" opacity="0.23"/>
<use href="#b" transform="translate(741.7 1006.5) scale(22.2 24)" opacity="0.23"/>
<use href="#b" transform="translate(772.7 992.5) scale(22.2 24)" opacity="0.27"/>
<use href="#b" transform="translate(772.7 978.5) scale(22.2 24)" opacity="0.23"/>
<use href="#b" transform="translate(772.7 1006.5) scale(22.2 24)" opacity="0.23"/>
<use href="#b" transform="translate(723.7 1045.5) scale(16.5 16.5)" opacity="0.03"/>
<use href="#b" transform="translate(791.3 1045.5) scale(16.5 16.5)" opacity="0.03"/>
<use href="#b" transform="translate(800.3 992.5) scale(24 24)" opacity="0.39"/>
<use href="#b" transform="translate(800.3 977.5) scale(23.4 22.5)" opacity="0.15"/>
<use href="#b" transform="translate(800.3 1007.5) scale(23.4 22.5)" opacity="0.15"/>
<use href="#b" transform="translate(825.8 992.5) scale(24 24)" opacity="0.39"/>
<use href="#b" transform="translate(825.8 977.5) scale(23.4 22.5)" opacity="0.15"/>
<use href="#b" transform="translate(825.8 1007.5) scale(23.4 22.5)" opacity="0.15"/>
<use href="#b" transform="translate(852.3 992.5) scale(22.2 24)" opacity="0.27"/>
<use href="#b" transform="translate(852.3 978.5) scale(22.2 24)" opacity="0.23"/>
<use href="#b" transform="translate(852.3 1006.5) scale(22.2 24)" opacity="0.23"/>
<use href="#b" transform="translate(883.3 992.5) scale(22.2 24)" opacity="0.27"/>
<use href="#b" transform="translate(883.3 978.5) scale(22.2 24)" opacity="0.23"/>
<use href="#b" transform="translate(883.3 1006.5) scale(22.2 24)" opacity="0.23"/>
<use href="#b" transform="translate(834.3 1045.5) scale(16.5 16.5)" opacity="0.03"/>
<use href="#b" transform="translate(901.9 1045.5) scale(16.5 16.5)" opacity="0.03"/>
<use href="#b" transform="translate(910.9 992.5) scale(24 24)" opacity="0.39"/>
<use href="#b" transform="translate(910.9 977.5) scale(23.4 22.5)" opacity="0.15"/>
<use href="#b" transform="translate(910.9 1007.5) scale(23.4 22.5)" opacity="0.15"/>
<use href="#b" transform="translate(936.4 992.5) scale(24 24)" opacity="0.39"/>
<use href="#b" transform="translate(936.4 977.5) scale(23.4 22.5)" opacity="0.15"/>
<use href="#b" transform="translate(936.4 1007.5) scale(23.4 22.5)" opacity="0.15"/>
<use href="#b" transform="translate(962.9 992.5) scale(22.2 24)" opacity="0.27"/>
<use href="#b" transform="translate(962.9 978.5) scale(22.2 24)" opacity="0.23"/>
<use href="#b" transform="translate(962.9 1006.5) scale(22.2 24)" opacity="0.23"/>
<use href="#b" transform="translate(993.9 992.5) scale(22.2 24)" opacity="0.27"/>
<use href="#b" transform="translate(993.9 978.5) scale(22.2 24)" opacity="0.23"/>
<use href="#b" transform="translate(993.9 1006.5) scale(22.2 24)" opacity="0.23"/>
<use href="#b" transform="translate(944.9 1045.5) scale(16.5 16.5)" opacity="0.03"/>
<use href="#b" transform="translate(1012.5 1045.5) scale(16.5 16.5)" opacity="0.03"/>
<use href="#b" transform="translate(1021.5 992.5) scale(24 24)" opacity="0.39"/>
<use href="#b" transform="translate(1021.5 977.5) scale(23.4 22.5)" opacity="0.15"/>
<use href="#b" transform="translate(1021.5 1007.5) scale(23.4 22.5)" opacity="0.15"/>
<use href="#b" transform="translate(1047 992.5) scale(24 24)" opacity="0.39"/>
<use href="#b" transform="translate(1047 977.5) scale(23.4 22.5)" opacity="0.15"/>
<use href="#b" transform="translate(1047 1007.5) scale(23.4 22.5)" opacity="0.15"/>
<use href="#b" transform="translate(1073.5 992.5) scale(22.2 24)" opacity="0.27"/>
<use href="#b" transform="translate(1073.5 978.5) scale(22.2 24)" opacity="0.23"/>
<use href="#b" transform="translate(1073.5 1006.5) scale(22.2 24)" opacity="0.23"/>
<use href="#b" transform="translate(1104.5 992.5) scale(22.2 24)" opacity="0.27"/>
<use href="#b" transform="translate(1104.5 978.5) scale(22.2 24)" opacity="0.23"/>
<use href="#b" transform="translate(1104.5 1006.5) scale(22.2 24)" opacity="0.23"/>
<use href="#b" transform="translate(1055.5 1045.5) scale(16.5 16.5)" opacity="0.03"/>
<use href="#b" transform="translate(1123.1 1045.5) scale(16.5 16.5)" opacity="0.03"/>
<use href="#b" transform="translate(1132.1 992.5) scale(24 24)" opacity="0.39"/>
<use href="#b" transform="translate(1132.1 977.5) scale(23.4 22.5)" opacity="0.15"/>
<use href="#b" transform="translate(1132.1 1007.5) scale(23.4 22.5)" opacity="0.15"/>
<use href="#b" transform="translate(1157.6 992.5) scale(24 24)" opacity="0.39"/>
<use href="#b" transform="translate(1157.6 977.5) scale(23.4 22.5)" opacity="0.15"/>
<use href="#b" transform="translate(1157.6 1007.5) scale(23.4 22.5)" opacity="0.15"/>
<use href="#b" transform="translate(1184.1 992.5) scale(22.2 24)" opacity="0.27"/>
<use href="#b" transform="translate(1184.1 978.5) scale(22.2 24)" opacity="0.23"/>
<use href="#b" transform="translate(1184.1 1006.5) scale(22.2 24)" opacity="0.23"/>
<use href="#b" transform="translate(1166.1 1045.5) scale(16.5 16.5)" opacity="0.03"/>
<use href="#b" transform="translate(680.7 1153) scale(16.5 16.5)" opacity="0.03"/>
<use href="#b" transform="translate(689.7 1100) scale(24 24)" opacity="0.39"/>
<use href="#b" transform="translate(689.7 1085) scale(23.4 22.5)" opacity="0.15"/>
<use href="#b" transform="translate(689.7 1115) scale(23.4 22.5)" opacity="0.15"/>
<use href="#b" transform="translate(715.2 1100) scale(24 24)" opacity="0.39"/>
<use href="#b" transform="translate(715.2 1085) scale(23.4 22.5)" opacity="0.15"/>
<use href="#b" transform="translate(715.2 1115) scale(23.4 22.5)" opacity="0.15"/>
<use href="#b" transform="translate(741.7 1100) scale(22.2 24)" opacity="0.27"/>
<use href="#b" transform="translate(741.7 1086) scale(22.2 24)" opacity="0.23"/>
<use href="#b" transform="translate(741.7 1114) scale(22.2 24)" opacity="0.23"/>
<use href="#b" transform="translate(772.7 1100) scale(22.2 24)" opacity="0.27"/>
<use href="#b" transform="translate(772.7 1086) scale(22.2 24)" opacity="0.23"/>
<use href="#b" transform="translate(772.7 1114) scale(22.2 24)" opacity="0.23"/>
<use href="#b" transform="translate(723.7 1153) scale(16.5 16.5)" opacity="0.03"/>
<use href="#b" transform="translate(791.3 1153) scale(16.5 16.5)" opacity="0.03"/>
<use href="#b" transform="translate(800.3 1100) scale(24 24)" opacity="0.39"/>
<use href="#b" transform="translate(800.3 1085) scale(23.4 22.5)" opacity="0.15"/>
<use href="#b" transform="translate(800.3 1115) scale(23.4 22.5)" opacity="0.15"/>
<use href="#b" transform="translate(825.8 1100) scale(24 24)" opacity="0.39"/>
<use href="#b" transform="translate(825.8 1085) scale(23.4 22.5)" opacity="0.15"/>
<use href="#b" transform="translate(825.8 1115) scale(23.4 22.5)" opacity="0.15"/>
<use href="#b" transform="translate(852.3 1100) scale(22.2 24)" opacity="0.27"/>
<use href="#b" transform="translate(852.3 1086) scale(22.2 24)" opacity="0.23"/>
<use href="#b" transform="translate(852.3 1114) scale(22.2 24)" opacity="0.23"/>
<use href="#b" transform="translate(883.3 1100) scale(22.2 24)" opacity="0.27"/>
<use href="#b" transform="translate(883.3 1086) scale(22.2 24)" opacity="0.23"/>
<use href="#b" transform="translate(883.3 1114) scale(22.2 24)" opacity="0.23"/>
<use href="#b" transform="translate(834.3 1153) scale(16.5 16.5)" opacity="0.03"/>
<use href="#b" transform="translate(901.9 1153) scale(16.5 16.5)" opacity="0.03"/>
<use href="#b" transform="translate(910.9 1100) scale(24 24)" opacity="0.39"/>
<use href="#b" transform="translate(910.9 1085) scale(23.4 22.5)" opacity="0.15"/>
<use href="#b" transform="translate(910.9 1115) scale(23.4 22.5)" opacity="0.15"/>
<use href="#b" transform="translate(936.4 1100) scale(24 24)" opacity="0.39"/>
<use href="#b" transform="translate(936.4 1085) scale(23.4 22.5)" opacity="0.15"/>
<use href="#b" transform="translate(936.4 1115) scale(23.4 22.5)" opacity="0.15"/>
<use href="#b" transform="translate(962.9 1100) scale(22.2 24)" opacity="0.27"/>
<use href="#b" transform="translate(962.9 1086) scale(22.2 24)" opacity="0.23"/>
<use href="#b" transform="translate(962.9 1114) scale(22.2 24)" opacity="0.23"/>
<use href="#b" transform="translate(993.9 1100) scale(22.2 24)" opacity="0.27"/>
<use href="#b" transform="translate(993.9 1086) scale(22.2 24)" opacity="0.23"/>
<use href="#b" transform="translate(993.9 1114) scale(22.2 24)" opacity="0.23"/>
<use href="#b" transform="translate(944.9 1153) scale(16.5 16.5)" opacity="0.03"/>
<use href="#b" transform="translate(1012.5 1153) scale(16.5 16.5)" opacity="0.03"/>
<use href="#b" transform="translate(1021.5 1100) scale(24 24)" opacity="0.39"/>
<use href="#b" transform="translate(1021.5 1085) scale(23.4 22.5)" opacity="0.15"/>
<use href="#b" transform="translate(1021.5 1115) scale(23.4 22.5)" opacity="0.15"/>
<use href="#b" transform="translate(1047 1100) scale(24 24)" opacity="0.39"/>
<use href="#b" transform="translate(1047 1085) scale(23.4 22.5)" opacity="0.15"/>
<use href="#b" transform="translate(1047 1115) scale(23.4 22.5)" opacity="0.15"/>
<use href="#b" transform="translate(1073.5 1100) scale(22.2 24)" opacity="0.27"/>
<use href="#b" transform="translate(1073.5 1086) scale(22.2 24)" opacity="0.23"/>
<use href="#b" transform="translate(1073.5 1114) scale(22.2 24)" opacity="0.23"/>
<use href="#b" transform="translate(1104.5 1100) scale(22.2 24)" opacity="0.27"/>
<use href="#b" transform="translate(1104.5 1086) scale(22.2 24)" opacity="0.23"/>
<use href="#b" transform="translate(1104.5 1114) scale(22.2 24)" opacity="0.23"/>
<use href="#b" transform="translate(1055.5 1153) scale(16.5 16.5)" opacity="0.03"/>
<use href="#b" transform="translate(1123.1 1153) scale(16.5 16.5)" opacity="0.03"/>
<use href="#b" transform="translate(1132.1 1100) scale(24 24)" opacity="0.39"/>
<use href="#b" transform="translate(1132.1 1085) scale(23.4 22.5)" opacity="0.15"/>
<use href="#b" transform="translate(1132.1 1115) scale(23.4 22.5)" opacity="0.15"/>
<use href="#b" transform="translate(1157.6 1100) scale(24 24)" opacity="0.39"/>
<use href="#b" transform="translate(1157.6 1085) scale(23.4 22.5)" opacity="0.15"/>
<use href="#b" transform="translate(1157.6 1115) scale(23.4 22.5)" opacity="0.15"/>
<use href="#b" transform="translate(1184.1 1100) scale(22.2 24)" opacity="0.27"/>
<use href="#b" transform="translate(1184.1 1086) scale(22.2 24)" opacity="0.23"/>
<use href="#b" transform="translate(1184.1 1114) scale(22.2 24)" opacity="0.23"/>
<use href="#b" transform="translate(1166.1 1153) scale(16.5 16.5)" opacity="0.03"/>
<use href="#b" transform="translate(689.7 1206.5) scale(24 24)" opacity="0.39"/>
<use href="#b" transform="translate(689.7 1191.5) scale(23.4 22.5)" opacity="0.15"/>
<use href="#b" transform="translate(689.7 1221.5) scale(23.4 22.5)" opacity="0.15"/>
<use href="#b" transform="translate(715.2 1206.5) scale(24 24)" opacity="0.39"/>
<use href="#b" transform="translate(715.2 1191.5) scale(23.4 22.5)" opacity="0.15"/>
<use href="#b" transform="translate(715.2 1221.5) scale(23.4 22.5)" opacity="0.15"/>
<use href="#b" transform="translate(741.7 1206.5) scale(22.2 24)" opacity="0.27"/>
<use href="#b" transform="translate(741.7 1192.5) scale(22.2 24)" opacity="0.23"/>
<use href="#b" transform="translate(741.7 1220.5) scale(22.2 24)" opacity="0.23"/>
<use href="#b" transform="translate(772.7 1206.5) scale(22.2 24)" opacity="0.27"/>
<use href="#b" transform="translate(772.7 1192.5) scale(22.2 24)" opacity="0.23"/>
<use href="#b" transform="translate(772.7 1220.5) scale(22.2 24)" opacity="0.23"/>
<use href="#b" transform="translate(800.3 1206.5) scale(24 24)" opacity="0.39"/>
<use href="#b" transform="translate(800.3 1191.5) scale(23.4 22.5)" opacity="0.15"/>
<use href="#b" transform="translate(800.3 1221.5) scale(23.4 22.5)" opacity="0.15"/>
<use href="#b" transform="translate(825.8 1206.5) scale(24 24)" opacity="0.39"/>
<use href="#b" transform="translate(825.8 1191.5) scale(23.4 22.5)" opacity="0.15"/>
<use href="#b" transform="translate(825.8 1221.5) scale(23.4 22.5)" opacity="0.15"/>
<use href="#b" transform="translate(852.3 1206.5) scale(22.2 24)" opacity="0.27"/>
<use href="#b" transform="translate(852.3 1192.5) scale(22.2 24)" opacity="0.23"/>
<use href="#b" transform="translate(852.3 1220.5) scale(22.2 24)" opacity="0.23"/>
<use href="#b" transform="translate(883.3 1206.5) scale(22.2 24)" opacity="0.27"/>
<use href="#b" transform="translate(883.3 1192.5) scale(22.2 24)" opacity="0.23"/>
<use href="#b" transform="translate(883.3 1220.5) scale(22.2 24)" opacity="0.23"/>
<use href="#b" transform="translate(910.9 1206.5) scale(24 24)" opacity="0.39"/>
<use href="#b" transform="translate(910.9 1191.5) scale(23.4 22.5)" opacity="0.15"/>
<use href="#b" transform="translate(910.9 1221.5) scale(23.4 22.5)" opacity="0.15"/>
<use href="#b" transform="translate(936.4 1206.5) scale(24 24)" opacity="0.39"/>
<use href="#b" transform="translate(936.4 1191.5) scale(23.4 22.5)" opacity="0.15"/>
<use href="#b" transform="translate(936.4 1221.5) scale(23.4 22.5)" opacity="0.15"/>
<use href="#b" transform="translate(962.9 1206.5) scale(22.2 24)" opacity="0.27"/>
<use href="#b" transform="translate(962.9 1192.5) scale(22.2 24)" opacity="0.23"/>
<use href="#b" transform="translate(962.9 1220.5) scale(22.2 24)" opacity="0.23"/>
<use href="#b" transform="translate(993.9 1206.5) scale(22.2 24)" opacity="0.27"/>
<use href="#b" transform="translate(993.9 1192.5) scale(22.2 24)" opacity="0.23"/>
<use href="#b" transform="translate(993.9 1220.5) scale(22.2 24)" opacity="0.23"/>
<use href="#b" transform="translate(1021.5 1206.5) scale(24 24)" opacity="0.39"/>
<use href="#b" transform="translate(1021.5 1191.5) scale(23.4 22.5)" opacity="0.15"/>
<use href="#b" transform="translate(1021.5 1221.5) scale(23.4 22.5)" opacity="0.15"/>
<use href="#b" transform="translate(1047 1206.5) scale(24 24)" opacity="0.39"/>
<use href="#b" transform="translate(1047 1191.5) scale(23.4 22.5)" opacity="0.15"/>
<use href="#b" transform="translate(1047 1221.5) scale(23.4 22.5)" opacity="0.15"/>
<use href="#b" transform="translate(1073.5 1206.5) scale(22.2 24)" opacity="0.27"/>
<use href="#b" transform="translate(1073.5 1192.5) scale(22.2 24)" opacity="0.23"/>
<use href="#b" transform="translate(1073.5 1220.5) scale(22.2 24)" opacity="0.23"/>
<use href="#b" transform="translate(1104.5 1206.5) scale(22.2 24)" opacity="0.27"/>
<use href="#b" transform="translate(1104.5 1192.5) scale(22.2 24)" opacity="0.23"/>
<use href="#b" transform="translate(1104.5 1220.5) scale(22.2 24)" opacity="0.23"/>
<use href="#b" transform="translate(1132.1 1206.5) scale(24 24)" opacity="0.39"/>
<use href="#b" transform="translate(1132.1 1191.5) scale(23.4 22.5)" opacity="0.15"/>
<use href="#b" transform="translate(1132.1 1221.5) scale(23.4 22.5)" opacity="0.15"/>
<use href="#b" transform="translate(1157.6 1206.5) scale(24 24)" opacity="0.39"/>
<use href="#b" transform="translate(1157.6 1191.5) scale(23.4 22.5)" opacity="0.15"/>
<use href="#b" transform="translate(1157.6 1221.5) scale(23.4 22.5)" opacity="0.15"/>
<use href="#b" transform="translate(1184.1 1206.5) scale(22.2 24)" opacity="0.27"/>
<use href="#b" transform="translate(1184.1 1192.5) scale(22.2 24)" opacity="0.23"/>
<use href="#b" transform="translate(1184.1 1220.5) scale(22.2 24)" opacity="0.23"/>
</g></g>
<g id="inset-e">
<rect x="996.3" y="753" width="172.2" height="265.3" fill="#fff"/>
<g class="ins" clip-path="url(#cie)">
<circle cx="906.3" cy="763.6" r="5.4" fill="url(#sR)"/>
<circle cx="934.1" cy="793.3" r="5.4" fill="url(#sR)"/>
<circle cx="956.4" cy="763.6" r="5.4" fill="url(#sR)"/>
<circle cx="984.4" cy="793.3" r="5.4" fill="url(#sR)"/>
<circle cx="1018.8" cy="763.6" r="5.4" fill="url(#sR)"/>
<circle cx="1046.6" cy="793.3" r="5.4" fill="url(#sR)"/>
<circle cx="1068.9" cy="763.6" r="5.4" fill="url(#sR)"/>
<circle cx="1096.9" cy="793.3" r="5.4" fill="url(#sR)"/>
<circle cx="1131.3" cy="763.6" r="5.4" fill="url(#sR)"/>
<circle cx="1159.1" cy="793.3" r="5.4" fill="url(#sR)"/>
<circle cx="1181.4" cy="763.6" r="5.4" fill="url(#sR)"/>
<circle cx="1209.4" cy="793.3" r="5.4" fill="url(#sR)"/>
<circle cx="1243.8" cy="763.6" r="5.4" fill="url(#sR)"/>
<circle cx="1271.6" cy="793.3" r="5.4" fill="url(#sR)"/>
<rect x="990" y="764.8" width="185" height="26.9" fill="#000078"/>
<polygon points="906.3,791.7 934.1,764.8 906.3,764.8" fill="#1010a8" opacity="0.8"/>
<polygon points="934.1,764.8 934.1,791.7 956.4,791.7" fill="#000058" opacity="0.8"/>
<polygon points="956.4,791.7 984.4,764.8 956.4,764.8" fill="#1010a8" opacity="0.8"/>
<polygon points="984.4,764.8 984.4,791.7 1018.8,791.7" fill="#000058" opacity="0.8"/>
<polygon points="1018.8,791.7 1046.6,764.8 1018.8,764.8" fill="#1010a8" opacity="0.8"/>
<polygon points="1046.6,764.8 1046.6,791.7 1068.9,791.7" fill="#000058" opacity="0.8"/>
<polygon points="1068.9,791.7 1096.9,764.8 1068.9,764.8" fill="#1010a8" opacity="0.8"/>
<polygon points="1096.9,764.8 1096.9,791.7 1131.3,791.7" fill="#000058" opacity="0.8"/>
<polygon points="1131.3,791.7 1159.1,764.8 1131.3,764.8" fill="#1010a8" opacity="0.8"/>
<polygon points="1159.1,764.8 1159.1,791.7 1181.4,791.7" fill="#000058" opacity="0.8"/>
<polygon points="1181.4,791.7 1209.4,764.8 1181.4,764.8" fill="#1010a8" opacity="0.8"/>
<polygon points="1209.4,764.8 1209.4,791.7 1243.8,791.7" fill="#000058" opacity="0.8"/>
<line x1="934.1" y1="764.8" x2="934.1" y2="791.7" stroke="#c0c0d0" stroke-width="1.1"/>
<line x1="934.1" y1="764.8" x2="906.3" y2="791.7" stroke="#c0c0d0" stroke-width="1.1"/>
<line x1="934.1" y1="764.8" x2="956.4" y2="791.7" stroke="#c0c0d0" stroke-width="1.1"/>
<line x1="984.4" y1="764.8" x2="984.4" y2="791.7" stroke="#c0c0d0" stroke-width="1.1"/>
<line x1="984.4" y1="764.8" x2="956.4" y2="791.7" stroke="#c0c0d0" stroke-width="1.1"/>
<line x1="984.4" y1="764.8" x2="1018.8" y2="791.7" stroke="#c0c0d0" stroke-width="1.1"/>
<line x1="1046.6" y1="764.8" x2="1046.6" y2="791.7" stroke="#c0c0d0" stroke-width="1.1"/>
<line x1="1046.6" y1="764.8" x2="1018.8" y2="791.7" stroke="#c0c0d0" stroke-width="1.1"/>
<line x1="1046.6" y1="764.8" x2="1068.9" y2="791.7" stroke="#c0c0d0" stroke-width="1.1"/>
<line x1="1096.9" y1="764.8" x2="1096.9" y2="791.7" stroke="#c0c0d0" stroke-width="1.1"/>
<line x1="1096.9" y1="764.8" x2="1068.9" y2="791.7" stroke="#c0c0d0" stroke-width="1.1"/>
<line x1="1096.9" y1="764.8" x2="1131.3" y2="791.7" stroke="#c0c0d0" stroke-width="1.1"/>
<line x1="1159.1" y1="764.8" x2="1159.1" y2="791.7" stroke="#c0c0d0" stroke-width="1.1"/>
<line x1="1159.1" y1="764.8" x2="1131.3" y2="791.7" stroke="#c0c0d0" stroke-width="1.1"/>
<line x1="1159.1" y1="764.8" x2="1181.4" y2="791.7" stroke="#c0c0d0" stroke-width="1.1"/>
<line x1="1209.4" y1="764.8" x2="1209.4" y2="791.7" stroke="#c0c0d0" stroke-width="1.1"/>
<line x1="1209.4" y1="764.8" x2="1181.4" y2="791.7" stroke="#c0c0d0" stroke-width="1.1"/>
<line x1="1209.4" y1="764.8" x2="1243.8" y2="791.7" stroke="#c0c0d0" stroke-width="1.1"/>
<line x1="1271.6" y1="764.8" x2="1271.6" y2="791.7" stroke="#c0c0d0" stroke-width="1.1"/>
<circle cx="906.3" cy="792.1" r="5.6" fill="url(#sR)"/>
<circle cx="934.1" cy="764" r="5.6" fill="url(#sR)"/>
<circle cx="956.4" cy="792.1" r="5.6" fill="url(#sR)"/>
<circle cx="984.4" cy="764" r="5.6" fill="url(#sR)"/>
<circle cx="1018.8" cy="792.1" r="5.6" fill="url(#sR)"/>
<circle cx="1046.6" cy="764" r="5.6" fill="url(#sR)"/>
<circle cx="1068.9" cy="792.1" r="5.6" fill="url(#sR)"/>
<circle cx="1096.9" cy="764" r="5.6" fill="url(#sR)"/>
<circle cx="1131.3" cy="792.1" r="5.6" fill="url(#sR)"/>
<circle cx="1159.1" cy="764" r="5.6" fill="url(#sR)"/>
<circle cx="1181.4" cy="792.1" r="5.6" fill="url(#sR)"/>
<circle cx="1209.4" cy="764" r="5.6" fill="url(#sR)"/>
<circle cx="1243.8" cy="792.1" r="5.6" fill="url(#sR)"/>
<circle cx="1271.6" cy="764" r="5.6" fill="url(#sR)"/>
<circle cx="906.3" cy="901" r="5.4" fill="url(#sR)"/>
<circle cx="934.1" cy="871.1" r="5.4" fill="url(#sR)"/>
<circle cx="956.4" cy="901" r="5.4" fill="url(#sR)"/>
<circle cx="984.4" cy="871.1" r="5.4" fill="url(#sR)"/>
<circle cx="1018.8" cy="901" r="5.4" fill="url(#sR)"/>
<circle cx="1046.6" cy="871.1" r="5.4" fill="url(#sR)"/>
<circle cx="1068.9" cy="901" r="5.4" fill="url(#sR)"/>
<circle cx="1096.9" cy="871.1" r="5.4" fill="url(#sR)"/>
<circle cx="1131.3" cy="901" r="5.4" fill="url(#sR)"/>
<circle cx="1159.1" cy="871.1" r="5.4" fill="url(#sR)"/>
<circle cx="1181.4" cy="901" r="5.4" fill="url(#sR)"/>
<circle cx="1209.4" cy="871.1" r="5.4" fill="url(#sR)"/>
<circle cx="1243.8" cy="901" r="5.4" fill="url(#sR)"/>
<circle cx="1271.6" cy="871.1" r="5.4" fill="url(#sR)"/>
<rect x="990" y="872.3" width="185" height="27.1" fill="#000078"/>
<polygon points="906.3,872.3 934.1,899.4 906.3,899.4" fill="#1010a8" opacity="0.8"/>
<polygon points="934.1,899.4 934.1,872.3 956.4,872.3" fill="#000058" opacity="0.8"/>
<polygon points="956.4,872.3 984.4,899.4 956.4,899.4" fill="#1010a8" opacity="0.8"/>
<polygon points="984.4,899.4 984.4,872.3 1018.8,872.3" fill="#000058" opacity="0.8"/>
<polygon points="1018.8,872.3 1046.6,899.4 1018.8,899.4" fill="#1010a8" opacity="0.8"/>
<polygon points="1046.6,899.4 1046.6,872.3 1068.9,872.3" fill="#000058" opacity="0.8"/>
<polygon points="1068.9,872.3 1096.9,899.4 1068.9,899.4" fill="#1010a8" opacity="0.8"/>
<polygon points="1096.9,899.4 1096.9,872.3 1131.3,872.3" fill="#000058" opacity="0.8"/>
<polygon points="1131.3,872.3 1159.1,899.4 1131.3,899.4" fill="#1010a8" opacity="0.8"/>
<polygon points="1159.1,899.4 1159.1,872.3 1181.4,872.3" fill="#000058" opacity="0.8"/>
<polygon points="1181.4,872.3 1209.4,899.4 1181.4,899.4" fill="#1010a8" opacity="0.8"/>
<polygon points="1209.4,899.4 1209.4,872.3 1243.8,872.3" fill="#000058" opacity="0.8"/>
<line x1="934.1" y1="872.3" x2="934.1" y2="899.4" stroke="#c0c0d0" stroke-width="1.1"/>
<line x1="956.4" y1="872.3" x2="934.1" y2="899.4" stroke="#c0c0d0" stroke-width="1.1"/>
<line x1="956.4" y1="872.3" x2="984.4" y2="899.4" stroke="#c0c0d0" stroke-width="1.1"/>
<line x1="984.4" y1="872.3" x2="984.4" y2="899.4" stroke="#c0c0d0" stroke-width="1.1"/>
<line x1="1018.8" y1="872.3" x2="984.4" y2="899.4" stroke="#c0c0d0" stroke-width="1.1"/>
<line x1="1018.8" y1="872.3" x2="1046.6" y2="899.4" stroke="#c0c0d0" stroke-width="1.1"/>
<line x1="1046.6" y1="872.3" x2="1046.6" y2="899.4" stroke="#c0c0d0" stroke-width="1.1"/>
<line x1="1068.9" y1="872.3" x2="1046.6" y2="899.4" stroke="#c0c0d0" stroke-width="1.1"/>
<line x1="1068.9" y1="872.3" x2="1096.9" y2="899.4" stroke="#c0c0d0" stroke-width="1.1"/>
<line x1="1096.9" y1="872.3" x2="1096.9" y2="899.4" stroke="#c0c0d0" stroke-width="1.1"/>
<line x1="1131.3" y1="872.3" x2="1096.9" y2="899.4" stroke="#c0c0d0" stroke-width="1.1"/>
<line x1="1131.3" y1="872.3" x2="1159.1" y2="899.4" stroke="#c0c0d0" stroke-width="1.1"/>
<line x1="1159.1" y1="872.3" x2="1159.1" y2="899.4" stroke="#c0c0d0" stroke-width="1.1"/>
<line x1="1181.4" y1="872.3" x2="1159.1" y2="899.4" stroke="#c0c0d0" stroke-width="1.1"/>
<line x1="1181.4" y1="872.3" x2="1209.4" y2="899.4" stroke="#c0c0d0" stroke-width="1.1"/>
<line x1="1209.4" y1="872.3" x2="1209.4" y2="899.4" stroke="#c0c0d0" stroke-width="1.1"/>
<line x1="1243.8" y1="872.3" x2="1209.4" y2="899.4" stroke="#c0c0d0" stroke-width="1.1"/>
<line x1="1243.8" y1="872.3" x2="1271.6" y2="899.4" stroke="#c0c0d0" stroke-width="1.1"/>
<line x1="1271.6" y1="872.3" x2="1271.6" y2="899.4" stroke="#c0c0d0" stroke-width="1.1"/>
<circle cx="906.3" cy="871.5" r="5.6" fill="url(#sR)"/>
<circle cx="934.1" cy="899.8" r="5.6" fill="url(#sR)"/>
<circle cx="956.4" cy="871.5" r="5.6" fill="url(#sR)"/>
<circle cx="984.4" cy="899.8" r="5.6" fill="url(#sR)"/>
<circle cx="1018.8" cy="871.5" r="5.6" fill="url(#sR)"/>
<circle cx="1046.6" cy="899.8" r="5.6" fill="url(#sR)"/>
<circle cx="1068.9" cy="871.5" r="5.6" fill="url(#sR)"/>
<circle cx="1096.9" cy="899.8" r="5.6" fill="url(#sR)"/>
<circle cx="1131.3" cy="871.5" r="5.6" fill="url(#sR)"/>
<circle cx="1159.1" cy="899.8" r="5.6" fill="url(#sR)"/>
<circle cx="1181.4" cy="871.5" r="5.6" fill="url(#sR)"/>
<circle cx="1209.4" cy="899.8" r="5.6" fill="url(#sR)"/>
<circle cx="1243.8" cy="871.5" r="5.6" fill="url(#sR)"/>
<circle cx="1271.6" cy="899.8" r="5.6" fill="url(#sR)"/>
<circle cx="906.3" cy="978.4" r="5.4" fill="url(#sR)"/>
<circle cx="934.1" cy="1008.4" r="5.4" fill="url(#sR)"/>
<circle cx="956.4" cy="978.4" r="5.4" fill="url(#sR)"/>
<circle cx="984.4" cy="1008.4" r="5.4" fill="url(#sR)"/>
<circle cx="1018.8" cy="978.4" r="5.4" fill="url(#sR)"/>
<circle cx="1046.6" cy="1008.4" r="5.4" fill="url(#sR)"/>
<circle cx="1068.9" cy="978.4" r="5.4" fill="url(#sR)"/>
<circle cx="1096.9" cy="1008.4" r="5.4" fill="url(#sR)"/>
<circle cx="1131.3" cy="978.4" r="5.4" fill="url(#sR)"/>
<circle cx="1159.1" cy="1008.4" r="5.4" fill="url(#sR)"/>
<circle cx="1181.4" cy="978.4" r="5.4" fill="url(#sR)"/>
<circle cx="1209.4" cy="1008.4" r="5.4" fill="url(#sR)"/>
<circle cx="1243.8" cy="978.4" r="5.4" fill="url(#sR)"/>
<circle cx="1271.6" cy="1008.4" r="5.4" fill="url(#sR)"/>
<rect x="990" y="979.6" width="185" height="27.2" fill="#000078"/>
<polygon points="906.3,1006.8 934.1,979.6 906.3,979.6" fill="#1010a8" opacity="0.8"/>
<polygon points="934.1,979.6 934.1,1006.8 956.4,1006.8" fill="#000058" opacity="0.8"/>
<polygon points="956.4,1006.8 984.4,979.6 956.4,979.6" fill="#1010a8" opacity="0.8"/>
<polygon points="984.4,979.6 984.4,1006.8 1018.8,1006.8" fill="#000058" opacity="0.8"/>
<polygon points="1018.8,1006.8 1046.6,979.6 1018.8,979.6" fill="#1010a8" opacity="0.8"/>
<polygon points="1046.6,979.6 1046.6,1006.8 1068.9,1006.8" fill="#000058" opacity="0.8"/>
<polygon points="1068.9,1006.8 1096.9,979.6 1068.9,979.6" fill="#1010a8" opacity="0.8"/>
<polygon points="1096.9,979.6 1096.9,1006.8 1131.3,1006.8" fill="#000058" opacity="0.8"/>
<polygon points="1131.3,1006.8 1159.1,979.6 1131.3,979.6" fill="#1010a8" opacity="0.8"/>
<polygon points="1159.1,979.6 1159.1,1006.8 1181.4,1006.8" fill="#000058" opacity="0.8"/>
<polygon points="1181.4,1006.8 1209.4,979.6 1181.4,979.6" fill="#1010a8" opacity="0.8"/>
<polygon points="1209.4,979.6 1209.4,1006.8 1243.8,1006.8" fill="#000058" opacity="0.8"/>
<line x1="934.1" y1="979.6" x2="934.1" y2="1006.8" stroke="#c0c0d0" stroke-width="1.1"/>
<line x1="934.1" y1="979.6" x2="906.3" y2="1006.8" stroke="#c0c0d0" stroke-width="1.1"/>
<line x1="934.1" y1="979.6" x2="956.4" y2="1006.8" stroke="#c0c0d0" stroke-width="1.1"/>
<line x1="984.4" y1="979.6" x2="984.4" y2="1006.8" stroke="#c0c0d0" stroke-width="1.1"/>
<line x1="984.4" y1="979.6" x2="956.4" y2="1006.8" stroke="#c0c0d0" stroke-width="1.1"/>
<line x1="984.4" y1="979.6" x2="1018.8" y2="1006.8" stroke="#c0c0d0" stroke-width="1.1"/>
<line x1="1046.6" y1="979.6" x2="1046.6" y2="1006.8" stroke="#c0c0d0" stroke-width="1.1"/>
<line x1="1046.6" y1="979.6" x2="1018.8" y2="1006.8" stroke="#c0c0d0" stroke-width="1.1"/>
<line x1="1046.6" y1="979.6" x2="1068.9" y2="1006.8" stroke="#c0c0d0" stroke-width="1.1"/>
<line x1="1096.9" y1="979.6" x2="1096.9" y2="1006.8" stroke="#c0c0d0" stroke-width="1.1"/>
<line x1="1096.9" y1="979.6" x2="1068.9" y2="1006.8" stroke="#c0c0d0" stroke-width="1.1"/>
<line x1="1096.9" y1="979.6" x2="1131.3" y2="1006.8" stroke="#c0c0d0" stroke-width="1.1"/>
<line x1="1159.1" y1="979.6" x2="1159.1" y2="1006.8" stroke="#c0c0d0" stroke-width="1.1"/>
<line x1="1159.1" y1="979.6" x2="1131.3" y2="1006.8" stroke="#c0c0d0" stroke-width="1.1"/>
<line x1="1159.1" y1="979.6" x2="1181.4" y2="1006.8" stroke="#c0c0d0" stroke-width="1.1"/>
<line x1="1209.4" y1="979.6" x2="1209.4" y2="1006.8" stroke="#c0c0d0" stroke-width="1.1"/>
<line x1="1209.4" y1="979.6" x2="1181.4" y2="1006.8" stroke="#c0c0d0" stroke-width="1.1"/>
<line x1="1209.4" y1="979.6" x2="1243.8" y2="1006.8" stroke="#c0c0d0" stroke-width="1.1"/>
<line x1="1271.6" y1="979.6" x2="1271.6" y2="1006.8" stroke="#c0c0d0" stroke-width="1.1"/>
<circle cx="906.3" cy="1007.2" r="5.6" fill="url(#sR)"/>
<circle cx="934.1" cy="978.8" r="5.6" fill="url(#sR)"/>
<circle cx="956.4" cy="1007.2" r="5.6" fill="url(#sR)"/>
<circle cx="984.4" cy="978.8" r="5.6" fill="url(#sR)"/>
<circle cx="1018.8" cy="1007.2" r="5.6" fill="url(#sR)"/>
<circle cx="1046.6" cy="978.8" r="5.6" fill="url(#sR)"/>
<circle cx="1068.9" cy="1007.2" r="5.6" fill="url(#sR)"/>
<circle cx="1096.9" cy="978.8" r="5.6" fill="url(#sR)"/>
<circle cx="1131.3" cy="1007.2" r="5.6" fill="url(#sR)"/>
<circle cx="1159.1" cy="978.8" r="5.6" fill="url(#sR)"/>
<circle cx="1181.4" cy="1007.2" r="5.6" fill="url(#sR)"/>
<circle cx="1209.4" cy="978.8" r="5.6" fill="url(#sR)"/>
<circle cx="1243.8" cy="1007.2" r="5.6" fill="url(#sR)"/>
<circle cx="1271.6" cy="978.8" r="5.6" fill="url(#sR)"/>
<circle cx="923.8" cy="832" r="14.7" fill="url(#sG)"/>
<circle cx="966.9" cy="832" r="14.7" fill="url(#sG)"/>
<circle cx="1036.3" cy="832" r="14.7" fill="url(#sG)"/>
<circle cx="1079.4" cy="832" r="14.7" fill="url(#sG)"/>
<circle cx="1148.8" cy="832" r="14.7" fill="url(#sG)"/>
<circle cx="1192" cy="832" r="14.7" fill="url(#sG)"/>
<circle cx="923.8" cy="939.6" r="14.7" fill="url(#sG)"/>
<circle cx="966.9" cy="939.6" r="14.7" fill="url(#sG)"/>
<circle cx="1036.3" cy="939.6" r="14.7" fill="url(#sG)"/>
<circle cx="1079.4" cy="939.6" r="14.7" fill="url(#sG)"/>
<circle cx="1148.8" cy="939.6" r="14.7" fill="url(#sG)"/>
<circle cx="1192" cy="939.6" r="14.7" fill="url(#sG)"/>
</g>
</g>
<rect x="688.5" y="753" width="480" height="480" fill="none" stroke="#000" stroke-width="2.2"/>
<text class="t" x="689.1" y="1268.8" text-anchor="middle">0</text>
<text class="t" x="677.9" y="1245.9" text-anchor="end">0</text>
<text class="t" x="783.3" y="1268.8" text-anchor="middle">5</text>
<text class="t" x="677.9" y="1149.86" text-anchor="end">5</text>
<text class="t" x="884.5" y="1268.8" text-anchor="middle">10</text>
<text class="t" x="677.9" y="1053.82" text-anchor="end">10</text>
<text class="t" x="979.2" y="1268.8" text-anchor="middle">15</text>
<text class="t" x="677.9" y="957.78" text-anchor="end">15</text>
<text class="t" x="1075.1" y="1268.8" text-anchor="middle">20</text>
<text class="t" x="677.9" y="861.74" text-anchor="end">20</text>
<text class="t" x="1168.5" y="1268.8" text-anchor="middle">25</text>
<text class="t" x="677.9" y="765.7" text-anchor="end">25</text>
<text class="ax" x="814.3" y="1310.6"><tspan font-style="italic">Y</tspan><tspan dx="1.2"> coordinate (Å)</tspan></text>
<text class="pl" x="614.5" y="707.5">e</text>
</g>
<g id="panel-f">
<g clip-path="url(#cpf)"><g class="h" filter="url(#hot)">
<rect x="1270" y="754.5" width="480" height="480.5" fill="#000"/>
<use href="#b" transform="translate(1245.55 774.24) scale(22.5 33)" opacity="0.3"/>
<use href="#b" transform="translate(1272.53 786.04) scale(22.5 33)" opacity="0.29"/>
<use href="#b" transform="translate(1297.82 777.61) scale(22.5 33)" opacity="0.3"/>
<use href="#b" transform="translate(1325.65 772.55) scale(22.5 39.6)" opacity="0.35"/>
<use href="#b" transform="translate(1352.63 774.24) scale(22.5 39.6)" opacity="0.32"/>
<use href="#b" transform="translate(1379.61 781.82) scale(22.5 33)" opacity="0.39"/>
<use href="#b" transform="translate(1406.59 789.41) scale(22.5 33)" opacity="0.32"/>
<use href="#b" transform="translate(1433.58 775.92) scale(22.5 33)" opacity="0.27"/>
<use href="#b" transform="translate(1461.4 775.92) scale(22.5 33)" opacity="0.43"/>
<use href="#b" transform="translate(1488.38 775.92) scale(22.5 39.6)" opacity="0.32"/>
<use href="#b" transform="translate(1515.36 781.82) scale(22.5 33)" opacity="0.39"/>
<use href="#b" transform="translate(1542.34 787.73) scale(22.5 33)" opacity="0.3"/>
<use href="#b" transform="translate(1569.33 772.55) scale(22.5 39.6)" opacity="0.32"/>
<use href="#b" transform="translate(1597.15 774.24) scale(22.5 33)" opacity="0.32"/>
<use href="#b" transform="translate(1276.75 841.69) scale(18.9 26.4)" opacity="0.07"/>
<use href="#b" transform="translate(1323.96 836.63) scale(18.9 31.68)" opacity="0.11"/>
<use href="#b" transform="translate(1369.49 843.38) scale(18.9 26.4)" opacity="0.13"/>
<use href="#b" transform="translate(1413.34 846.75) scale(18.9 26.4)" opacity="0.1"/>
<use href="#b" transform="translate(1459.71 836.63) scale(18.9 31.68)" opacity="0.12"/>
<use href="#b" transform="translate(1504.4 845.06) scale(18.9 26.4)" opacity="0.1"/>
<use href="#b" transform="translate(1548.25 845.06) scale(18.9 26.4)" opacity="0.08"/>
<use href="#b" transform="translate(1288.55 884.69) scale(19.8 19.8)" opacity="0.2"/>
<use href="#b" transform="translate(1322.28 885.53) scale(19.8 19.8)" opacity="0.13"/>
<use href="#b" transform="translate(1356 885.53) scale(19.8 19.8)" opacity="0.11"/>
<use href="#b" transform="translate(1424.3 884.69) scale(19.8 19.8)" opacity="0.19"/>
<use href="#b" transform="translate(1458.03 885.53) scale(19.8 19.8)" opacity="0.14"/>
<use href="#b" transform="translate(1490.91 885.53) scale(19.8 19.8)" opacity="0.13"/>
<use href="#b" transform="translate(1560.05 884.69) scale(19.8 19.8)" opacity="0.18"/>
<use href="#b" transform="translate(1276.75 920.95) scale(18.9 26.4)" opacity="0.09"/>
<use href="#b" transform="translate(1322.28 936.12) scale(18.9 26.4)" opacity="0.09"/>
<use href="#b" transform="translate(1367.81 922.63) scale(18.9 26.4)" opacity="0.13"/>
<use href="#b" transform="translate(1413.34 922.63) scale(18.9 26.4)" opacity="0.09"/>
<use href="#b" transform="translate(1458.87 936.12) scale(18.9 26.4)" opacity="0.08"/>
<use href="#b" transform="translate(1503.56 922.63) scale(18.9 26.4)" opacity="0.13"/>
<use href="#b" transform="translate(1548.25 919.26) scale(18.9 26.4)" opacity="0.1"/>
<use href="#b" transform="translate(1246.39 994.08) scale(22.5 33)" opacity="0.3"/>
<use href="#b" transform="translate(1273.37 985.65) scale(22.5 33)" opacity="0.41"/>
<use href="#b" transform="translate(1299.51 987.34) scale(22.5 33)" opacity="0.35"/>
<use href="#b" transform="translate(1327.34 1002.51) scale(22.5 33)" opacity="0.34"/>
<use href="#b" transform="translate(1354.32 995.77) scale(22.5 33)" opacity="0.35"/>
<use href="#b" transform="translate(1380.46 983.96) scale(22.5 33)" opacity="0.39"/>
<use href="#b" transform="translate(1408.28 985.65) scale(22.5 33)" opacity="0.43"/>
<use href="#b" transform="translate(1434.42 983.96) scale(22.5 39.6)" opacity="0.3"/>
<use href="#b" transform="translate(1462.24 997.45) scale(22.5 33)" opacity="0.3"/>
<use href="#b" transform="translate(1490.07 994.08) scale(22.5 33)" opacity="0.41"/>
<use href="#b" transform="translate(1516.21 985.65) scale(22.5 39.6)" opacity="0.35"/>
<use href="#b" transform="translate(1544.03 985.65) scale(22.5 33)" opacity="0.4"/>
<use href="#b" transform="translate(1570.17 994.08) scale(22.5 33)" opacity="0.3"/>
<use href="#b" transform="translate(1597.15 985.65) scale(22.5 33)" opacity="0.39"/>
<use href="#b" transform="translate(1624.13 985.65) scale(22.5 33)" opacity="0.41"/>
<use href="#b" transform="translate(1651.11 983.96) scale(22.5 39.6)" opacity="0.3"/>
<use href="#b" transform="translate(1678.09 997.45) scale(22.5 33)" opacity="0.3"/>
<use href="#b" transform="translate(1705.08 994.08) scale(22.5 33)" opacity="0.41"/>
<use href="#b" transform="translate(1732.06 985.65) scale(22.5 39.6)" opacity="0.35"/>
<use href="#b" transform="translate(1759.04 985.65) scale(22.5 33)" opacity="0.4"/>
<use href="#b" transform="translate(1275.06 1051.79) scale(18.9 31.68)" opacity="0.09"/>
<use href="#b" transform="translate(1320.59 1057.69) scale(18.9 26.4)" opacity="0.12"/>
<use href="#b" transform="translate(1364.44 1059.37) scale(18.9 26.4)" opacity="0.1"/>
<use href="#b" transform="translate(1409.12 1053.47) scale(18.9 34.32)" opacity="0.12"/>
<use href="#b" transform="translate(1454.65 1061.06) scale(18.9 26.4)" opacity="0.14"/>
<use href="#b" transform="translate(1501.03 1055.16) scale(18.9 26.4)" opacity="0.04"/>
<use href="#b" transform="translate(1544.87 1050.1) scale(18.9 34.32)" opacity="0.1"/>
<use href="#b" transform="translate(1587.03 1056.84) scale(18.9 26.4)" opacity="0.08"/>
<use href="#b" transform="translate(1636.46 1060.22) scale(18.9 26.4)" opacity="0.1"/>
<use href="#b" transform="translate(1680.3 1046.73) scale(18.9 26.4)" opacity="0.08"/>
<use href="#b" transform="translate(1726.68 1058.53) scale(18.9 26.4)" opacity="0.09"/>
<use href="#b" transform="translate(1770.52 1058.53) scale(18.9 26.4)" opacity="0.07"/>
<use href="#b" transform="translate(1276.75 1097.32) scale(19.8 19.8)" opacity="0.08"/>
<use href="#b" transform="translate(1308.79 1097.32) scale(19.8 19.8)" opacity="0.12"/>
<use href="#b" transform="translate(1377.08 1097.32) scale(19.8 19.8)" opacity="0.19"/>
<use href="#b" transform="translate(1409.97 1097.32) scale(19.8 19.8)" opacity="0.13"/>
<use href="#b" transform="translate(1511.99 1097.32) scale(19.8 19.8)" opacity="0.18"/>
<use href="#b" transform="translate(1546.56 1098.16) scale(19.8 19.8)" opacity="0.13"/>
<use href="#b" transform="translate(1580.29 1097.32) scale(19.8 19.8)" opacity="0.13"/>
<use href="#b" transform="translate(1648.26 1097.32) scale(19.8 19.8)" opacity="0.15"/>
<use href="#b" transform="translate(1681.15 1097.32) scale(19.8 19.8)" opacity="0.04"/>
<use href="#b" transform="translate(1716.56 1096.47) scale(19.8 19.8)" opacity="0.06"/>
<use href="#b" transform="translate(1275.06 1139.48) scale(18.9 26.4)" opacity="0.03"/>
<use href="#b" transform="translate(1320.59 1131.04) scale(18.9 26.4)" opacity="0.13"/>
<use href="#b" transform="translate(1365.28 1133.57) scale(18.9 26.4)" opacity="0.12"/>
<use href="#b" transform="translate(1409.97 1147.91) scale(18.9 26.4)" opacity="0.07"/>
<use href="#b" transform="translate(1455.5 1131.04) scale(18.9 26.4)" opacity="0.09"/>
<use href="#b" transform="translate(1501.03 1132.73) scale(18.9 26.4)" opacity="0.12"/>
<use href="#b" transform="translate(1546.56 1149.59) scale(18.9 26.4)" opacity="0.06"/>
<use href="#b" transform="translate(1588.72 1134.42) scale(18.9 26.4)" opacity="0.09"/>
<use href="#b" transform="translate(1637.3 1131.04) scale(18.9 26.4)" opacity="0.11"/>
<use href="#b" transform="translate(1681.99 1144.53) scale(18.9 34.32)" opacity="0.07"/>
<use href="#b" transform="translate(1726.68 1131.04) scale(18.9 26.4)" opacity="0.11"/>
<use href="#b" transform="translate(1770.52 1134.42) scale(18.9 26.4)" opacity="0.09"/>
<use href="#b" transform="translate(1245.55 1200.18) scale(22.5 33)" opacity="0.3"/>
<use href="#b" transform="translate(1272.53 1211.99) scale(22.5 33)" opacity="0.32"/>
<use href="#b" transform="translate(1297.82 1200.18) scale(22.5 33)" opacity="0.32"/>
<use href="#b" transform="translate(1325.65 1198.5) scale(22.5 33)" opacity="0.39"/>
<use href="#b" transform="translate(1352.63 1201.87) scale(22.5 39.6)" opacity="0.29"/>
<use href="#b" transform="translate(1379.61 1205.24) scale(22.5 33)" opacity="0.36"/>
<use href="#b" transform="translate(1406.59 1213.67) scale(22.5 33)" opacity="0.35"/>
<use href="#b" transform="translate(1433.58 1200.18) scale(22.5 33)" opacity="0.29"/>
<use href="#b" transform="translate(1461.4 1199.34) scale(22.5 33)" opacity="0.45"/>
<use href="#b" transform="translate(1488.38 1198.5) scale(22.5 39.6)" opacity="0.32"/>
<use href="#b" transform="translate(1515.36 1206.93) scale(22.5 33)" opacity="0.39"/>
<use href="#b" transform="translate(1542.34 1210.3) scale(22.5 33)" opacity="0.32"/>
<use href="#b" transform="translate(1570.17 1198.5) scale(22.5 39.6)" opacity="0.29"/>
<use href="#b" transform="translate(1596.83 1198.5) scale(22.5 33)" opacity="0.41"/>
<use href="#b" transform="translate(1623.81 1195.12) scale(22.5 39.6)" opacity="0.32"/>
<use href="#b" transform="translate(1650.79 1206.93) scale(22.5 33)" opacity="0.41"/>
<use href="#b" transform="translate(1677.77 1210.3) scale(22.5 33)" opacity="0.32"/>
<use href="#b" transform="translate(1704.76 1198.5) scale(22.5 33)" opacity="0.35"/>
<use href="#b" transform="translate(1733.42 1200.18) scale(22.5 33)" opacity="0.43"/>
<use href="#b" transform="translate(1760.4 1198.5) scale(22.5 33)" opacity="0.32"/>
</g></g>
<g id="inset-f">
<rect x="1577.5" y="754.5" width="172.5" height="265.5" fill="#fff"/>
<g class="ins" clip-path="url(#cif)">
<circle cx="1624.5" cy="765.6" r="5.4" fill="url(#sR)"/>
<circle cx="1673.2" cy="771.4" r="5.4" fill="url(#sR)"/>
<circle cx="1729.6" cy="763.5" r="5.4" fill="url(#sR)"/>
<circle cx="1596.5" cy="796" r="5.4" fill="url(#sR)"/>
<circle cx="1647.8" cy="802.3" r="5.4" fill="url(#sR)"/>
<circle cx="1707.6" cy="799.1" r="5.4" fill="url(#sR)"/>
<polygon points="1570,767.7 1596.5,766.1 1624.5,767.7 1651.5,771.9 1673.2,772.5 1703.6,768.2 1729.6,765.6 1760.5,768.8 1760.5,795.8 1729.8,793.6 1707.6,797.9 1674.3,801 1647.8,800 1621.9,795.8 1596.5,795.2 1570,795.8" fill="#c8c8d0" stroke="#c8c8d0" stroke-width="3" stroke-linejoin="round" opacity=".8"/>
<polygon points="1570,767.7 1596.5,766.1 1624.5,767.7 1651.5,771.9 1673.2,772.5 1703.6,768.2 1729.6,765.6 1760.5,768.8 1760.5,795.8 1729.8,793.6 1707.6,797.9 1674.3,801 1647.8,800 1621.9,795.8 1596.5,795.2 1570,795.8" fill="#080888"/>
<polygon points="1596.5,767.2 1621.9,793.6 1624.5,769.3" fill="#2222c4" opacity="0.38"/>
<polygon points="1651.5,773.5 1674.3,798.9 1673.2,774.6" fill="#2222c4" opacity="0.38"/>
<polygon points="1703.6,769.3 1729.8,790.5 1729.6,766.1" fill="#2222c4" opacity="0.38"/>
<polygon points="1577.9,795.8 1596.5,767.2 1570,770.3" fill="#2222c4" opacity="0.38"/>
<line x1="1596.5" y1="767.2" x2="1577.9" y2="795.8" stroke="#e6e6ee" stroke-width="1.4"/>
<line x1="1596.5" y1="767.2" x2="1621.9" y2="793.6" stroke="#e6e6ee" stroke-width="1.4"/>
<line x1="1624.5" y1="769.3" x2="1621.9" y2="793.6" stroke="#e6e6ee" stroke-width="1.4"/>
<line x1="1651.5" y1="773.5" x2="1621.9" y2="793.6" stroke="#e6e6ee" stroke-width="1.4"/>
<line x1="1651.5" y1="773.5" x2="1674.3" y2="798.9" stroke="#e6e6ee" stroke-width="1.4"/>
<line x1="1673.2" y1="774.6" x2="1674.3" y2="798.9" stroke="#e6e6ee" stroke-width="1.4"/>
<line x1="1703.6" y1="769.3" x2="1674.3" y2="798.9" stroke="#e6e6ee" stroke-width="1.4"/>
<line x1="1703.6" y1="769.3" x2="1729.8" y2="790.5" stroke="#e6e6ee" stroke-width="1.4"/>
<line x1="1729.6" y1="766.1" x2="1729.8" y2="790.5" stroke="#e6e6ee" stroke-width="1.4"/>
<line x1="1729.8" y1="790.5" x2="1760.5" y2="772.5" stroke="#e6e6ee" stroke-width="1.4"/>
<circle cx="1596.5" cy="764" r="5.6" fill="url(#sR)"/>
<circle cx="1651.5" cy="770.9" r="5.6" fill="url(#sR)"/>
<circle cx="1703.6" cy="766.6" r="5.6" fill="url(#sR)"/>
<circle cx="1577.9" cy="797.9" r="5.6" fill="url(#sR)"/>
<circle cx="1621.9" cy="794.9" r="5.6" fill="url(#sR)"/>
<circle cx="1674.3" cy="801.3" r="5.6" fill="url(#sR)"/>
<circle cx="1729.8" cy="791.5" r="5.6" fill="url(#sR)"/>
<circle cx="1601.8" cy="979.2" r="5.4" fill="url(#sR)"/>
<circle cx="1649.9" cy="973.9" r="5.4" fill="url(#sR)"/>
<circle cx="1703.9" cy="974.4" r="5.4" fill="url(#sR)"/>
<circle cx="1626.6" cy="1009.3" r="5.4" fill="url(#sR)"/>
<circle cx="1677.4" cy="1004.3" r="5.4" fill="url(#sR)"/>
<circle cx="1733" cy="1010.4" r="5.4" fill="url(#sR)"/>
<polygon points="1570,977 1601.8,977 1623.1,978.1 1649.9,974.4 1678.2,972.8 1703.9,974.9 1734.6,979.7 1760.5,980.8 1760.5,1005.6 1733,1007.7 1700,1004 1677.4,1001.9 1652.8,1002.5 1626.6,1006.7 1600.5,1007.7 1570,1003.5" fill="#c8c8d0" stroke="#c8c8d0" stroke-width="3" stroke-linejoin="round" opacity=".8"/>
<polygon points="1570,977 1601.8,977 1623.1,978.1 1649.9,974.4 1678.2,972.8 1703.9,974.9 1734.6,979.7 1760.5,980.8 1760.5,1005.6 1733,1007.7 1700,1004 1677.4,1001.9 1652.8,1002.5 1626.6,1006.7 1600.5,1007.7 1570,1003.5" fill="#080888"/>
<polygon points="1601.8,982.3 1600.5,1007.7 1623.1,982.3" fill="#2222c4" opacity="0.38"/>
<polygon points="1649.9,977 1652.8,1001.4 1678.2,974.9" fill="#2222c4" opacity="0.38"/>
<polygon points="1703.9,977 1700,1003.5 1734.6,983.4" fill="#2222c4" opacity="0.38"/>
<line x1="1577.9" y1="985.5" x2="1600.5" y2="1007.7" stroke="#e6e6ee" stroke-width="1.4"/>
<line x1="1601.8" y1="982.3" x2="1600.5" y2="1007.7" stroke="#e6e6ee" stroke-width="1.4"/>
<line x1="1623.1" y1="982.3" x2="1600.5" y2="1007.7" stroke="#e6e6ee" stroke-width="1.4"/>
<line x1="1623.1" y1="982.3" x2="1652.8" y2="1001.4" stroke="#e6e6ee" stroke-width="1.4"/>
<line x1="1649.9" y1="977" x2="1652.8" y2="1001.4" stroke="#e6e6ee" stroke-width="1.4"/>
<line x1="1678.2" y1="974.9" x2="1652.8" y2="1001.4" stroke="#e6e6ee" stroke-width="1.4"/>
<line x1="1678.2" y1="974.9" x2="1700" y2="1003.5" stroke="#e6e6ee" stroke-width="1.4"/>
<line x1="1703.9" y1="977" x2="1700" y2="1003.5" stroke="#e6e6ee" stroke-width="1.4"/>
<line x1="1734.6" y1="983.4" x2="1700" y2="1003.5" stroke="#e6e6ee" stroke-width="1.4"/>
<line x1="1734.6" y1="983.4" x2="1760.5" y2="1003.5" stroke="#e6e6ee" stroke-width="1.4"/>
<circle cx="1623.1" cy="979.2" r="5.6" fill="url(#sR)"/>
<circle cx="1678.2" cy="971.8" r="5.6" fill="url(#sR)"/>
<circle cx="1734.6" cy="980.2" r="5.6" fill="url(#sR)"/>
<circle cx="1600.5" cy="1009.7" r="5.6" fill="url(#sR)"/>
<circle cx="1652.8" cy="1003" r="5.6" fill="url(#sR)"/>
<circle cx="1700" cy="1005.1" r="5.6" fill="url(#sR)"/>
<circle cx="1594.3" cy="854" r="5.8" fill="url(#sR)"/>
<circle cx="1595.4" cy="836.5" r="15" fill="url(#sS)"/>
<circle cx="1639" cy="846" r="16.3" fill="url(#sS)"/>
<circle cx="1639" cy="857.7" r="5.8" fill="url(#sR)"/>
<circle cx="1682.2" cy="860.1" r="5.5" fill="url(#sR)"/>
<circle cx="1682.7" cy="846" r="16.1" fill="url(#sS)"/>
<circle cx="1728.5" cy="836" r="15" fill="url(#sS)"/>
<circle cx="1726.9" cy="853.4" r="5.8" fill="url(#sR)"/>
<circle cx="1594.3" cy="887.3" r="9.7" fill="url(#sN)"/>
<circle cx="1593.8" cy="887" r="5.5" fill="url(#sR)"/>
<circle cx="1628.2" cy="887.3" r="9.7" fill="url(#sN)"/>
<circle cx="1692.8" cy="887.3" r="9.7" fill="url(#sN)"/>
<circle cx="1697" cy="887" r="5.5" fill="url(#sR)"/>
<circle cx="1726.7" cy="887.3" r="9.7" fill="url(#sN)"/>
<circle cx="1593.8" cy="920.3" r="5.6" fill="url(#sR)"/>
<circle cx="1594.9" cy="937.8" r="15" fill="url(#sS)"/>
<circle cx="1638.8" cy="929.9" r="16.3" fill="url(#sS)"/>
<circle cx="1638.3" cy="917.7" r="5.6" fill="url(#sR)"/>
<circle cx="1681.7" cy="914.2" r="6" fill="url(#sR)"/>
<circle cx="1682.7" cy="927.7" r="16.1" fill="url(#sS)"/>
<circle cx="1727.9" cy="937.8" r="15" fill="url(#sS)"/>
<circle cx="1726.7" cy="920.9" r="5.8" fill="url(#sR)"/>
</g>
</g>
<rect x="1270" y="754.5" width="480" height="480.5" fill="none" stroke="#000" stroke-width="2.2"/>
<text class="t" x="1268.2" y="1268.8" text-anchor="middle">0</text>
<text class="t" x="1257" y="1245.9" text-anchor="end">0</text>
<text class="t" x="1362.4" y="1268.8" text-anchor="middle">5</text>
<text class="t" x="1257" y="1149.86" text-anchor="end">5</text>
<text class="t" x="1463.6" y="1268.8" text-anchor="middle">10</text>
<text class="t" x="1257" y="1053.82" text-anchor="end">10</text>
<text class="t" x="1558.3" y="1268.8" text-anchor="middle">15</text>
<text class="t" x="1257" y="957.78" text-anchor="end">15</text>
<text class="t" x="1654.2" y="1268.8" text-anchor="middle">20</text>
<text class="t" x="1257" y="861.74" text-anchor="end">20</text>
<text class="t" x="1747.6" y="1268.8" text-anchor="middle">25</text>
<text class="t" x="1257" y="765.7" text-anchor="end">25</text>
<text class="ax" x="1388.5" y="1310.6"><tspan font-style="italic">Y</tspan><tspan dx="1.2"> coordinate (Å)</tspan></text>
<text class="pl" x="1196" y="707.5">f</text>
</g>
<g id="colorbar-top">
<rect x="1774.5" y="86" width="24.8" height="483.5" fill="url(#cbg)"/>
<rect x="1774.5" y="86" width="24.8" height="483.5" fill="none" stroke="#000" stroke-width="1.6"/>
<text class="cb" x="1805.9" y="578.1">0</text>
<line x1="1789.8" y1="515.78" x2="1799.3" y2="515.78" stroke="#000" stroke-width="1.5"/>
<text class="cb" x="1805.9" y="524.38">30</text>
<line x1="1789.8" y1="462.06" x2="1799.3" y2="462.06" stroke="#000" stroke-width="1.5"/>
<text class="cb" x="1805.9" y="470.66">60</text>
<line x1="1789.8" y1="408.33" x2="1799.3" y2="408.33" stroke="#000" stroke-width="1.5"/>
<text class="cb" x="1805.9" y="416.93">90</text>
<line x1="1789.8" y1="354.61" x2="1799.3" y2="354.61" stroke="#000" stroke-width="1.5"/>
<text class="cb" x="1805.9" y="363.21">120</text>
<line x1="1789.8" y1="300.89" x2="1799.3" y2="300.89" stroke="#000" stroke-width="1.5"/>
<text class="cb" x="1805.9" y="309.49">150</text>
<line x1="1789.8" y1="247.17" x2="1799.3" y2="247.17" stroke="#000" stroke-width="1.5"/>
<text class="cb" x="1805.9" y="255.77">180</text>
<line x1="1789.8" y1="193.44" x2="1799.3" y2="193.44" stroke="#000" stroke-width="1.5"/>
<text class="cb" x="1805.9" y="202.04">210</text>
<line x1="1789.8" y1="139.72" x2="1799.3" y2="139.72" stroke="#000" stroke-width="1.5"/>
<text class="cb" x="1805.9" y="148.32">240</text>
<text class="cb" x="1805.9" y="94.6">270</text>
<text class="ax" transform="translate(1867.3 335.25) rotate(90)" text-anchor="middle">Atomic thermal conductivity (a.u.)</text>
</g>
<g id="colorbar-bottom">
<rect x="1774.5" y="754" width="24.8" height="484.5" fill="url(#cbg)"/>
<rect x="1774.5" y="754" width="24.8" height="484.5" fill="none" stroke="#000" stroke-width="1.6"/>
<text class="cb" x="1805.9" y="1247.1">0</text>
<line x1="1789.8" y1="1177.94" x2="1799.3" y2="1177.94" stroke="#000" stroke-width="1.5"/>
<text class="cb" x="1805.9" y="1186.54">20</text>
<line x1="1789.8" y1="1117.38" x2="1799.3" y2="1117.38" stroke="#000" stroke-width="1.5"/>
<text class="cb" x="1805.9" y="1125.97">40</text>
<line x1="1789.8" y1="1056.81" x2="1799.3" y2="1056.81" stroke="#000" stroke-width="1.5"/>
<text class="cb" x="1805.9" y="1065.41">60</text>
<line x1="1789.8" y1="996.25" x2="1799.3" y2="996.25" stroke="#000" stroke-width="1.5"/>
<text class="cb" x="1805.9" y="1004.85">80</text>
<line x1="1789.8" y1="935.69" x2="1799.3" y2="935.69" stroke="#000" stroke-width="1.5"/>
<text class="cb" x="1805.9" y="944.29">100</text>
<line x1="1789.8" y1="875.12" x2="1799.3" y2="875.12" stroke="#000" stroke-width="1.5"/>
<text class="cb" x="1805.9" y="883.73">120</text>
<line x1="1789.8" y1="814.56" x2="1799.3" y2="814.56" stroke="#000" stroke-width="1.5"/>
<text class="cb" x="1805.9" y="823.16">140</text>
<text class="cb" x="1805.9" y="762.6">160</text>
<text class="ax" transform="translate(1867.3 1003.75) rotate(90)" text-anchor="middle">Atomic thermal conductivity (a.u.)</text>
</g>
</svg></body></html>
